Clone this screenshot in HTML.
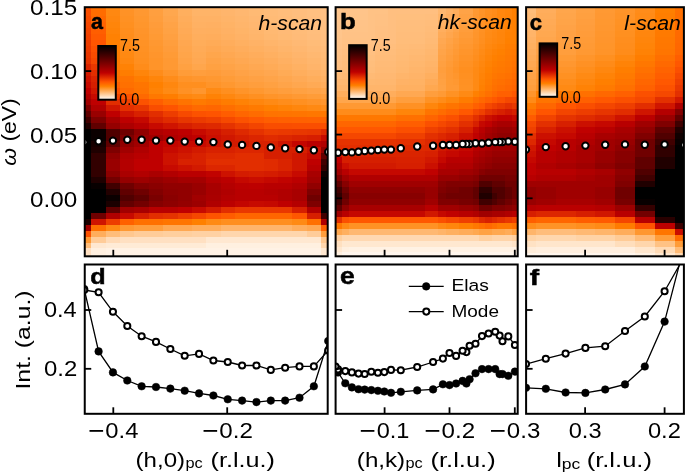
<!DOCTYPE html>
<html><head><meta charset="utf-8"><style>
html,body{margin:0;padding:0;background:#fff;}
body{width:685px;height:473px;position:relative;overflow:hidden;font-family:"Liberation Sans",sans-serif;}
svg text{font-family:"Liberation Sans",sans-serif;}
svg{will-change:transform;}
</style></head><body>
<svg width="685" height="473" viewBox="0 0 685 473" style="position:absolute;left:0;top:0">
<defs>
<clipPath id="cta"><rect x="84.75" y="7.2" width="242.95" height="249.10"/></clipPath>
<clipPath id="cba"><rect x="84.75" y="264.5" width="242.95" height="149.30"/></clipPath>
<clipPath id="ctb"><rect x="335.6" y="7.2" width="182.10" height="249.10"/></clipPath>
<clipPath id="cbb"><rect x="335.6" y="264.5" width="182.10" height="149.30"/></clipPath>
<clipPath id="ctc"><rect x="526.1" y="7.2" width="157.80" height="249.10"/></clipPath>
<clipPath id="cbc"><rect x="526.1" y="264.5" width="157.80" height="149.30"/></clipPath>
<linearGradient id="cbg" x1="0" y1="0" x2="0" y2="1"><stop offset="0" stop-color="#000000"/><stop offset="0.5" stop-color="#bf0000"/><stop offset="0.6667" stop-color="#ff5500"/><stop offset="0.75" stop-color="#ff8000"/><stop offset="1" stop-color="#ffffff"/></linearGradient>
</defs>
<g clip-path="url(#cta)" shape-rendering="crispEdges">
<rect x="75.00" y="4.10" width="16.72" height="6.26" fill="#fc5200"/>
<rect x="91.42" y="4.10" width="14.65" height="6.26" fill="#ff7000"/>
<rect x="105.78" y="4.10" width="14.65" height="6.26" fill="#ff8a14"/>
<rect x="120.12" y="4.10" width="14.65" height="6.26" fill="#ff9429"/>
<rect x="134.47" y="4.10" width="14.65" height="6.26" fill="#ff9933"/>
<rect x="148.82" y="4.10" width="14.65" height="6.26" fill="#ffa142"/>
<rect x="163.18" y="4.10" width="14.65" height="6.26" fill="#ffa852"/>
<rect x="177.52" y="4.10" width="14.65" height="6.26" fill="#ffb061"/>
<rect x="191.88" y="4.10" width="14.65" height="6.26" fill="#ffb56b"/>
<rect x="206.23" y="4.10" width="14.65" height="6.26" fill="#ffb56b"/>
<rect x="220.57" y="4.10" width="14.65" height="6.26" fill="#ffb76f"/>
<rect x="234.93" y="4.10" width="14.65" height="6.26" fill="#ffb972"/>
<rect x="249.27" y="4.10" width="14.65" height="6.26" fill="#ffbb76"/>
<rect x="263.62" y="4.10" width="14.65" height="6.26" fill="#ffbd7a"/>
<rect x="277.97" y="4.10" width="14.65" height="6.26" fill="#ffbe7d"/>
<rect x="292.32" y="4.10" width="14.65" height="6.26" fill="#ffbf80"/>
<rect x="306.68" y="4.10" width="14.65" height="6.26" fill="#ffc182"/>
<rect x="321.02" y="4.10" width="19.28" height="6.26" fill="#ffc285"/>
<rect x="75.00" y="10.06" width="16.72" height="6.26" fill="#fa4e00"/>
<rect x="91.42" y="10.06" width="14.65" height="6.26" fill="#ff6c00"/>
<rect x="105.78" y="10.06" width="14.65" height="6.26" fill="#ff8811"/>
<rect x="120.12" y="10.06" width="14.65" height="6.26" fill="#ff9226"/>
<rect x="134.47" y="10.06" width="14.65" height="6.26" fill="#ff9831"/>
<rect x="148.82" y="10.06" width="14.65" height="6.26" fill="#ff9f3f"/>
<rect x="163.18" y="10.06" width="14.65" height="6.26" fill="#ffa74e"/>
<rect x="177.52" y="10.06" width="14.65" height="6.26" fill="#ffaf5e"/>
<rect x="191.88" y="10.06" width="14.65" height="6.26" fill="#ffb468"/>
<rect x="206.23" y="10.06" width="14.65" height="6.26" fill="#ffb468"/>
<rect x="220.57" y="10.06" width="14.65" height="6.26" fill="#ffb56c"/>
<rect x="234.93" y="10.06" width="14.65" height="6.26" fill="#ffb770"/>
<rect x="249.27" y="10.06" width="14.65" height="6.26" fill="#ffba74"/>
<rect x="263.62" y="10.06" width="14.65" height="6.26" fill="#ffbc78"/>
<rect x="277.97" y="10.06" width="14.65" height="6.26" fill="#ffbd7b"/>
<rect x="292.32" y="10.06" width="14.65" height="6.26" fill="#ffbe7e"/>
<rect x="306.68" y="10.06" width="14.65" height="6.26" fill="#ffc081"/>
<rect x="321.02" y="10.06" width="19.28" height="6.26" fill="#ffc184"/>
<rect x="75.00" y="16.02" width="16.72" height="6.26" fill="#f74b00"/>
<rect x="91.42" y="16.02" width="14.65" height="6.26" fill="#ff6700"/>
<rect x="105.78" y="16.02" width="14.65" height="6.26" fill="#ff860e"/>
<rect x="120.12" y="16.02" width="14.65" height="6.26" fill="#ff9123"/>
<rect x="134.47" y="16.02" width="14.65" height="6.26" fill="#ff972e"/>
<rect x="148.82" y="16.02" width="14.65" height="6.26" fill="#ff9e3d"/>
<rect x="163.18" y="16.02" width="14.65" height="6.26" fill="#ffa54b"/>
<rect x="177.52" y="16.02" width="14.65" height="6.26" fill="#ffad5b"/>
<rect x="191.88" y="16.02" width="14.65" height="6.26" fill="#ffb265"/>
<rect x="206.23" y="16.02" width="14.65" height="6.26" fill="#ffb265"/>
<rect x="220.57" y="16.02" width="14.65" height="6.26" fill="#ffb469"/>
<rect x="234.93" y="16.02" width="14.65" height="6.26" fill="#ffb66d"/>
<rect x="249.27" y="16.02" width="14.65" height="6.26" fill="#ffb872"/>
<rect x="263.62" y="16.02" width="14.65" height="6.26" fill="#ffbb76"/>
<rect x="277.97" y="16.02" width="14.65" height="6.26" fill="#ffbc79"/>
<rect x="292.32" y="16.02" width="14.65" height="6.26" fill="#ffbe7c"/>
<rect x="306.68" y="16.02" width="14.65" height="6.26" fill="#ffbf80"/>
<rect x="321.02" y="16.02" width="19.28" height="6.26" fill="#ffc183"/>
<rect x="75.00" y="21.98" width="16.72" height="6.26" fill="#f54700"/>
<rect x="91.42" y="21.98" width="14.65" height="6.26" fill="#ff6300"/>
<rect x="105.78" y="21.98" width="14.65" height="6.26" fill="#ff850a"/>
<rect x="120.12" y="21.98" width="14.65" height="6.26" fill="#ff9020"/>
<rect x="134.47" y="21.98" width="14.65" height="6.26" fill="#ff962c"/>
<rect x="148.82" y="21.98" width="14.65" height="6.26" fill="#ff9c3a"/>
<rect x="163.18" y="21.98" width="14.65" height="6.26" fill="#ffa347"/>
<rect x="177.52" y="21.98" width="14.65" height="6.26" fill="#ffac58"/>
<rect x="191.88" y="21.98" width="14.65" height="6.26" fill="#ffb163"/>
<rect x="206.23" y="21.98" width="14.65" height="6.26" fill="#ffb062"/>
<rect x="220.57" y="21.98" width="14.65" height="6.26" fill="#ffb366"/>
<rect x="234.93" y="21.98" width="14.65" height="6.26" fill="#ffb56b"/>
<rect x="249.27" y="21.98" width="14.65" height="6.26" fill="#ffb770"/>
<rect x="263.62" y="21.98" width="14.65" height="6.26" fill="#ffba74"/>
<rect x="277.97" y="21.98" width="14.65" height="6.26" fill="#ffbb78"/>
<rect x="292.32" y="21.98" width="14.65" height="6.26" fill="#ffbd7b"/>
<rect x="306.68" y="21.98" width="14.65" height="6.26" fill="#ffbf7e"/>
<rect x="321.02" y="21.98" width="19.28" height="6.26" fill="#ffc082"/>
<rect x="75.00" y="27.94" width="16.72" height="6.26" fill="#f24400"/>
<rect x="91.42" y="27.94" width="14.65" height="6.26" fill="#ff5e00"/>
<rect x="105.78" y="27.94" width="14.65" height="6.26" fill="#ff8307"/>
<rect x="120.12" y="27.94" width="14.65" height="6.26" fill="#ff8e1d"/>
<rect x="134.47" y="27.94" width="14.65" height="6.26" fill="#ff942a"/>
<rect x="148.82" y="27.94" width="14.65" height="6.26" fill="#ff9b37"/>
<rect x="163.18" y="27.94" width="14.65" height="6.26" fill="#ffa244"/>
<rect x="177.52" y="27.94" width="14.65" height="6.26" fill="#ffaa56"/>
<rect x="191.88" y="27.94" width="14.65" height="6.26" fill="#ffaf60"/>
<rect x="206.23" y="27.94" width="14.65" height="6.26" fill="#ffaf5f"/>
<rect x="220.57" y="27.94" width="14.65" height="6.26" fill="#ffb164"/>
<rect x="234.93" y="27.94" width="14.65" height="6.26" fill="#ffb468"/>
<rect x="249.27" y="27.94" width="14.65" height="6.26" fill="#ffb66d"/>
<rect x="263.62" y="27.94" width="14.65" height="6.26" fill="#ffb972"/>
<rect x="277.97" y="27.94" width="14.65" height="6.26" fill="#ffba76"/>
<rect x="292.32" y="27.94" width="14.65" height="6.26" fill="#ffbc79"/>
<rect x="306.68" y="27.94" width="14.65" height="6.26" fill="#ffbe7d"/>
<rect x="321.02" y="27.94" width="19.28" height="6.26" fill="#ffc081"/>
<rect x="75.00" y="33.90" width="16.72" height="6.26" fill="#f04100"/>
<rect x="91.42" y="33.90" width="14.65" height="6.26" fill="#ff5a00"/>
<rect x="105.78" y="33.90" width="14.65" height="6.26" fill="#ff8103"/>
<rect x="120.12" y="33.90" width="14.65" height="6.26" fill="#ff8d1b"/>
<rect x="134.47" y="33.90" width="14.65" height="6.26" fill="#ff9328"/>
<rect x="148.82" y="33.90" width="14.65" height="6.26" fill="#ff9a34"/>
<rect x="163.18" y="33.90" width="14.65" height="6.26" fill="#ffa041"/>
<rect x="177.52" y="33.90" width="14.65" height="6.26" fill="#ffa953"/>
<rect x="191.88" y="33.90" width="14.65" height="6.26" fill="#ffae5d"/>
<rect x="206.23" y="33.90" width="14.65" height="6.26" fill="#ffad5c"/>
<rect x="220.57" y="33.90" width="14.65" height="6.26" fill="#ffb061"/>
<rect x="234.93" y="33.90" width="14.65" height="6.26" fill="#ffb266"/>
<rect x="249.27" y="33.90" width="14.65" height="6.26" fill="#ffb56b"/>
<rect x="263.62" y="33.90" width="14.65" height="6.26" fill="#ffb870"/>
<rect x="277.97" y="33.90" width="14.65" height="6.26" fill="#ffba74"/>
<rect x="292.32" y="33.90" width="14.65" height="6.26" fill="#ffbb78"/>
<rect x="306.68" y="33.90" width="14.65" height="6.26" fill="#ffbd7c"/>
<rect x="321.02" y="33.90" width="19.28" height="6.26" fill="#ffbf80"/>
<rect x="75.00" y="39.86" width="16.72" height="6.26" fill="#ed3d00"/>
<rect x="91.42" y="39.86" width="14.65" height="6.26" fill="#ff5500"/>
<rect x="105.78" y="39.86" width="14.65" height="6.26" fill="#ff8000"/>
<rect x="120.12" y="39.86" width="14.65" height="6.26" fill="#ff8b18"/>
<rect x="134.47" y="39.86" width="14.65" height="6.26" fill="#ff9225"/>
<rect x="148.82" y="39.86" width="14.65" height="6.26" fill="#ff9831"/>
<rect x="163.18" y="39.86" width="14.65" height="6.26" fill="#ff9e3d"/>
<rect x="177.52" y="39.86" width="14.65" height="6.26" fill="#ffa750"/>
<rect x="191.88" y="39.86" width="14.65" height="6.26" fill="#ffad5a"/>
<rect x="206.23" y="39.86" width="14.65" height="6.26" fill="#ffab57"/>
<rect x="220.57" y="39.86" width="14.65" height="6.26" fill="#ffad5c"/>
<rect x="234.93" y="39.86" width="14.65" height="6.26" fill="#ffb061"/>
<rect x="249.27" y="39.86" width="14.65" height="6.26" fill="#ffb266"/>
<rect x="263.62" y="39.86" width="14.65" height="6.26" fill="#ffb56b"/>
<rect x="277.97" y="39.86" width="14.65" height="6.26" fill="#ffb76f"/>
<rect x="292.32" y="39.86" width="14.65" height="6.26" fill="#ffb974"/>
<rect x="306.68" y="39.86" width="14.65" height="6.26" fill="#ffbc78"/>
<rect x="321.02" y="39.86" width="19.28" height="6.26" fill="#ffbe7c"/>
<rect x="75.00" y="45.82" width="16.72" height="6.26" fill="#eb3a00"/>
<rect x="91.42" y="45.82" width="14.65" height="6.26" fill="#fc5000"/>
<rect x="105.78" y="45.82" width="14.65" height="6.26" fill="#ff7e00"/>
<rect x="120.12" y="45.82" width="14.65" height="6.26" fill="#ff8a15"/>
<rect x="134.47" y="45.82" width="14.65" height="6.26" fill="#ff9123"/>
<rect x="148.82" y="45.82" width="14.65" height="6.26" fill="#ff972e"/>
<rect x="163.18" y="45.82" width="14.65" height="6.26" fill="#ff9c3a"/>
<rect x="177.52" y="45.82" width="14.65" height="6.26" fill="#ffa64d"/>
<rect x="191.88" y="45.82" width="14.65" height="6.26" fill="#ffab57"/>
<rect x="206.23" y="45.82" width="14.65" height="6.26" fill="#ffa852"/>
<rect x="220.57" y="45.82" width="14.65" height="6.26" fill="#ffab57"/>
<rect x="234.93" y="45.82" width="14.65" height="6.26" fill="#ffad5c"/>
<rect x="249.27" y="45.82" width="14.65" height="6.26" fill="#ffb061"/>
<rect x="263.62" y="45.82" width="14.65" height="6.26" fill="#ffb266"/>
<rect x="277.97" y="45.82" width="14.65" height="6.26" fill="#ffb56b"/>
<rect x="292.32" y="45.82" width="14.65" height="6.26" fill="#ffb770"/>
<rect x="306.68" y="45.82" width="14.65" height="6.26" fill="#ffba75"/>
<rect x="321.02" y="45.82" width="19.28" height="6.26" fill="#ffbc79"/>
<rect x="75.00" y="51.78" width="16.72" height="6.26" fill="#e83600"/>
<rect x="91.42" y="51.78" width="14.65" height="6.26" fill="#f84c00"/>
<rect x="105.78" y="51.78" width="14.65" height="6.26" fill="#ff7c00"/>
<rect x="120.12" y="51.78" width="14.65" height="6.26" fill="#ff8912"/>
<rect x="134.47" y="51.78" width="14.65" height="6.26" fill="#ff9021"/>
<rect x="148.82" y="51.78" width="14.65" height="6.26" fill="#ff952c"/>
<rect x="163.18" y="51.78" width="14.65" height="6.26" fill="#ff9b36"/>
<rect x="177.52" y="51.78" width="14.65" height="6.26" fill="#ffa54a"/>
<rect x="191.88" y="51.78" width="14.65" height="6.26" fill="#ffaa54"/>
<rect x="206.23" y="51.78" width="14.65" height="6.26" fill="#ffa64c"/>
<rect x="220.57" y="51.78" width="14.65" height="6.26" fill="#ffa852"/>
<rect x="234.93" y="51.78" width="14.65" height="6.26" fill="#ffab57"/>
<rect x="249.27" y="51.78" width="14.65" height="6.26" fill="#ffad5c"/>
<rect x="263.62" y="51.78" width="14.65" height="6.26" fill="#ffb061"/>
<rect x="277.97" y="51.78" width="14.65" height="6.26" fill="#ffb366"/>
<rect x="292.32" y="51.78" width="14.65" height="6.26" fill="#ffb56c"/>
<rect x="306.68" y="51.78" width="14.65" height="6.26" fill="#ffb871"/>
<rect x="321.02" y="51.78" width="19.28" height="6.26" fill="#ffbb76"/>
<rect x="75.00" y="57.74" width="16.72" height="6.26" fill="#e53300"/>
<rect x="91.42" y="57.74" width="14.65" height="6.26" fill="#f54700"/>
<rect x="105.78" y="57.74" width="14.65" height="6.26" fill="#ff7a00"/>
<rect x="120.12" y="57.74" width="14.65" height="6.26" fill="#ff870f"/>
<rect x="134.47" y="57.74" width="14.65" height="6.26" fill="#ff8f1f"/>
<rect x="148.82" y="57.74" width="14.65" height="6.26" fill="#ff9429"/>
<rect x="163.18" y="57.74" width="14.65" height="6.26" fill="#ff9933"/>
<rect x="177.52" y="57.74" width="14.65" height="6.26" fill="#ffa347"/>
<rect x="191.88" y="57.74" width="14.65" height="6.26" fill="#ffa852"/>
<rect x="206.23" y="57.74" width="14.65" height="6.26" fill="#ffa347"/>
<rect x="220.57" y="57.74" width="14.65" height="6.26" fill="#ffa64c"/>
<rect x="234.93" y="57.74" width="14.65" height="6.26" fill="#ffa852"/>
<rect x="249.27" y="57.74" width="14.65" height="6.26" fill="#ffab57"/>
<rect x="263.62" y="57.74" width="14.65" height="6.26" fill="#ffad5c"/>
<rect x="277.97" y="57.74" width="14.65" height="6.26" fill="#ffb062"/>
<rect x="292.32" y="57.74" width="14.65" height="6.26" fill="#ffb368"/>
<rect x="306.68" y="57.74" width="14.65" height="6.26" fill="#ffb66d"/>
<rect x="321.02" y="57.74" width="19.28" height="6.26" fill="#ffb973"/>
<rect x="75.00" y="63.70" width="16.72" height="6.26" fill="#da2400"/>
<rect x="91.42" y="63.70" width="14.65" height="6.26" fill="#e93800"/>
<rect x="105.78" y="63.70" width="14.65" height="6.26" fill="#ff7a00"/>
<rect x="120.12" y="63.70" width="14.65" height="6.26" fill="#ff8205"/>
<rect x="134.47" y="63.70" width="14.65" height="6.26" fill="#ff8c1a"/>
<rect x="148.82" y="63.70" width="14.65" height="6.26" fill="#ff9429"/>
<rect x="163.18" y="63.70" width="14.65" height="6.26" fill="#ff9933"/>
<rect x="177.52" y="63.70" width="14.65" height="6.26" fill="#ffa142"/>
<rect x="191.88" y="63.70" width="14.65" height="6.26" fill="#ffa64c"/>
<rect x="206.23" y="63.70" width="14.65" height="6.26" fill="#ffa142"/>
<rect x="220.57" y="63.70" width="14.65" height="6.26" fill="#ffa347"/>
<rect x="234.93" y="63.70" width="14.65" height="6.26" fill="#ffa64c"/>
<rect x="249.27" y="63.70" width="14.65" height="6.26" fill="#ffa852"/>
<rect x="263.62" y="63.70" width="14.65" height="6.26" fill="#ffab57"/>
<rect x="277.97" y="63.70" width="14.65" height="6.26" fill="#ffae5d"/>
<rect x="292.32" y="63.70" width="14.65" height="6.26" fill="#ffb163"/>
<rect x="306.68" y="63.70" width="14.65" height="6.26" fill="#ffb46a"/>
<rect x="321.02" y="63.70" width="19.28" height="6.26" fill="#ffb870"/>
<rect x="75.00" y="69.66" width="16.72" height="6.26" fill="#d21a00"/>
<rect x="91.42" y="69.66" width="14.65" height="6.26" fill="#e22e00"/>
<rect x="105.78" y="69.66" width="14.65" height="6.26" fill="#ff7300"/>
<rect x="120.12" y="69.66" width="14.65" height="6.26" fill="#ff7d00"/>
<rect x="134.47" y="69.66" width="14.65" height="6.26" fill="#ff850a"/>
<rect x="148.82" y="69.66" width="14.65" height="6.26" fill="#ff8c1a"/>
<rect x="163.18" y="69.66" width="14.65" height="6.26" fill="#ff9429"/>
<rect x="177.52" y="69.66" width="14.65" height="6.26" fill="#ff9c38"/>
<rect x="191.88" y="69.66" width="14.65" height="6.26" fill="#ff9e3d"/>
<rect x="206.23" y="69.66" width="14.65" height="6.26" fill="#ff9c3a"/>
<rect x="220.57" y="69.66" width="14.65" height="6.26" fill="#ff9f40"/>
<rect x="234.93" y="69.66" width="14.65" height="6.26" fill="#ffa246"/>
<rect x="249.27" y="69.66" width="14.65" height="6.26" fill="#ffa54b"/>
<rect x="263.62" y="69.66" width="14.65" height="6.26" fill="#ffa750"/>
<rect x="277.97" y="69.66" width="14.65" height="6.26" fill="#ffab56"/>
<rect x="292.32" y="69.66" width="14.65" height="6.26" fill="#ffae5d"/>
<rect x="306.68" y="69.66" width="14.65" height="6.26" fill="#ffb163"/>
<rect x="321.02" y="69.66" width="19.28" height="6.26" fill="#ffb469"/>
<rect x="75.00" y="75.62" width="16.72" height="6.26" fill="#cd1200"/>
<rect x="91.42" y="75.62" width="14.65" height="6.26" fill="#da2400"/>
<rect x="105.78" y="75.62" width="14.65" height="6.26" fill="#ff6e00"/>
<rect x="120.12" y="75.62" width="14.65" height="6.26" fill="#ff7300"/>
<rect x="134.47" y="75.62" width="14.65" height="6.26" fill="#ff7d00"/>
<rect x="148.82" y="75.62" width="14.65" height="6.26" fill="#ff850a"/>
<rect x="163.18" y="75.62" width="14.65" height="6.26" fill="#ff8c1a"/>
<rect x="177.52" y="75.62" width="14.65" height="6.26" fill="#ff9429"/>
<rect x="191.88" y="75.62" width="14.65" height="6.26" fill="#ff962e"/>
<rect x="206.23" y="75.62" width="14.65" height="6.26" fill="#ff9831"/>
<rect x="220.57" y="75.62" width="14.65" height="6.26" fill="#ff9c38"/>
<rect x="234.93" y="75.62" width="14.65" height="6.26" fill="#ff9f3f"/>
<rect x="249.27" y="75.62" width="14.65" height="6.26" fill="#ffa144"/>
<rect x="263.62" y="75.62" width="14.65" height="6.26" fill="#ffa449"/>
<rect x="277.97" y="75.62" width="14.65" height="6.26" fill="#ffa74f"/>
<rect x="292.32" y="75.62" width="14.65" height="6.26" fill="#ffaa56"/>
<rect x="306.68" y="75.62" width="14.65" height="6.26" fill="#ffae5c"/>
<rect x="321.02" y="75.62" width="19.28" height="6.26" fill="#ffb163"/>
<rect x="75.00" y="81.58" width="16.72" height="6.26" fill="#c70a00"/>
<rect x="91.42" y="81.58" width="14.65" height="6.26" fill="#d61f00"/>
<rect x="105.78" y="81.58" width="14.65" height="6.26" fill="#ff6100"/>
<rect x="120.12" y="81.58" width="14.65" height="6.26" fill="#ff7000"/>
<rect x="134.47" y="81.58" width="14.65" height="6.26" fill="#ff7500"/>
<rect x="148.82" y="81.58" width="14.65" height="6.26" fill="#ff8000"/>
<rect x="163.18" y="81.58" width="14.65" height="6.26" fill="#ff870f"/>
<rect x="177.52" y="81.58" width="14.65" height="6.26" fill="#ff8f1f"/>
<rect x="191.88" y="81.58" width="14.65" height="6.26" fill="#ff8f1f"/>
<rect x="206.23" y="81.58" width="14.65" height="6.26" fill="#ff9429"/>
<rect x="220.57" y="81.58" width="14.65" height="6.26" fill="#ff9830"/>
<rect x="234.93" y="81.58" width="14.65" height="6.26" fill="#ff9c38"/>
<rect x="249.27" y="81.58" width="14.65" height="6.26" fill="#ff9e3d"/>
<rect x="263.62" y="81.58" width="14.65" height="6.26" fill="#ffa142"/>
<rect x="277.97" y="81.58" width="14.65" height="6.26" fill="#ffa449"/>
<rect x="292.32" y="81.58" width="14.65" height="6.26" fill="#ffa74f"/>
<rect x="306.68" y="81.58" width="14.65" height="6.26" fill="#ffaa55"/>
<rect x="321.02" y="81.58" width="19.28" height="6.26" fill="#ffad5c"/>
<rect x="75.00" y="87.54" width="16.72" height="6.26" fill="#bf0000"/>
<rect x="91.42" y="87.54" width="14.65" height="6.26" fill="#d01700"/>
<rect x="105.78" y="87.54" width="14.65" height="6.26" fill="#fe5400"/>
<rect x="120.12" y="87.54" width="14.65" height="6.26" fill="#ff6900"/>
<rect x="134.47" y="87.54" width="14.65" height="6.26" fill="#ff7300"/>
<rect x="148.82" y="87.54" width="14.65" height="6.26" fill="#ff8205"/>
<rect x="163.18" y="87.54" width="14.65" height="6.26" fill="#ff8a14"/>
<rect x="177.52" y="87.54" width="14.65" height="6.26" fill="#ff9124"/>
<rect x="191.88" y="87.54" width="14.65" height="6.26" fill="#ff962e"/>
<rect x="206.23" y="87.54" width="14.65" height="6.26" fill="#ff8a14"/>
<rect x="220.57" y="87.54" width="14.65" height="6.26" fill="#ff8f1f"/>
<rect x="234.93" y="87.54" width="14.65" height="6.26" fill="#ff9429"/>
<rect x="249.27" y="87.54" width="14.65" height="6.26" fill="#ff9830"/>
<rect x="263.62" y="87.54" width="14.65" height="6.26" fill="#ff9c38"/>
<rect x="277.97" y="87.54" width="14.65" height="6.26" fill="#ff9e3d"/>
<rect x="292.32" y="87.54" width="14.65" height="6.26" fill="#ffa142"/>
<rect x="306.68" y="87.54" width="14.65" height="6.26" fill="#ffa347"/>
<rect x="321.02" y="87.54" width="19.28" height="6.26" fill="#ffa64c"/>
<rect x="75.00" y="93.50" width="16.72" height="6.26" fill="#b00000"/>
<rect x="91.42" y="93.50" width="14.65" height="6.26" fill="#c70a00"/>
<rect x="105.78" y="93.50" width="14.65" height="6.26" fill="#f34500"/>
<rect x="120.12" y="93.50" width="14.65" height="6.26" fill="#fe5400"/>
<rect x="134.47" y="93.50" width="14.65" height="6.26" fill="#ff6900"/>
<rect x="148.82" y="93.50" width="14.65" height="6.26" fill="#ff7800"/>
<rect x="163.18" y="93.50" width="14.65" height="6.26" fill="#ff7d00"/>
<rect x="177.52" y="93.50" width="14.65" height="6.26" fill="#ff870f"/>
<rect x="191.88" y="93.50" width="14.65" height="6.26" fill="#ff8a14"/>
<rect x="206.23" y="93.50" width="14.65" height="6.26" fill="#ff8205"/>
<rect x="220.57" y="93.50" width="14.65" height="6.26" fill="#ff870f"/>
<rect x="234.93" y="93.50" width="14.65" height="6.26" fill="#ff8c1a"/>
<rect x="249.27" y="93.50" width="14.65" height="6.26" fill="#ff9021"/>
<rect x="263.62" y="93.50" width="14.65" height="6.26" fill="#ff9429"/>
<rect x="277.97" y="93.50" width="14.65" height="6.26" fill="#ff962e"/>
<rect x="292.32" y="93.50" width="14.65" height="6.26" fill="#ff9933"/>
<rect x="306.68" y="93.50" width="14.65" height="6.26" fill="#ff9c38"/>
<rect x="321.02" y="93.50" width="19.28" height="6.26" fill="#ff9e3d"/>
<rect x="75.00" y="99.46" width="16.72" height="6.26" fill="#a10000"/>
<rect x="91.42" y="99.46" width="14.65" height="6.26" fill="#bf0000"/>
<rect x="105.78" y="99.46" width="14.65" height="6.26" fill="#e22e00"/>
<rect x="120.12" y="99.46" width="14.65" height="6.26" fill="#f14200"/>
<rect x="134.47" y="99.46" width="14.65" height="6.26" fill="#fc5200"/>
<rect x="148.82" y="99.46" width="14.65" height="6.26" fill="#ff5e00"/>
<rect x="163.18" y="99.46" width="14.65" height="6.26" fill="#ff6b00"/>
<rect x="177.52" y="99.46" width="14.65" height="6.26" fill="#ff7300"/>
<rect x="191.88" y="99.46" width="14.65" height="6.26" fill="#ff7a00"/>
<rect x="206.23" y="99.46" width="14.65" height="6.26" fill="#ff7500"/>
<rect x="220.57" y="99.46" width="14.65" height="6.26" fill="#ff7c00"/>
<rect x="234.93" y="99.46" width="14.65" height="6.26" fill="#ff8205"/>
<rect x="249.27" y="99.46" width="14.65" height="6.26" fill="#ff860d"/>
<rect x="263.62" y="99.46" width="14.65" height="6.26" fill="#ff8a14"/>
<rect x="277.97" y="99.46" width="14.65" height="6.26" fill="#ff8d1b"/>
<rect x="292.32" y="99.46" width="14.65" height="6.26" fill="#ff9021"/>
<rect x="306.68" y="99.46" width="14.65" height="6.26" fill="#ff9328"/>
<rect x="321.02" y="99.46" width="19.28" height="6.26" fill="#ff962e"/>
<rect x="75.00" y="105.42" width="16.72" height="6.26" fill="#7e0000"/>
<rect x="91.42" y="105.42" width="14.65" height="6.26" fill="#b00000"/>
<rect x="105.78" y="105.42" width="14.65" height="6.26" fill="#d01700"/>
<rect x="120.12" y="105.42" width="14.65" height="6.26" fill="#e43000"/>
<rect x="134.47" y="105.42" width="14.65" height="6.26" fill="#e93800"/>
<rect x="148.82" y="105.42" width="14.65" height="6.26" fill="#f94d00"/>
<rect x="163.18" y="105.42" width="14.65" height="6.26" fill="#fe5400"/>
<rect x="177.52" y="105.42" width="14.65" height="6.26" fill="#ff6100"/>
<rect x="191.88" y="105.42" width="14.65" height="6.26" fill="#ff6900"/>
<rect x="206.23" y="105.42" width="14.65" height="6.26" fill="#ff6600"/>
<rect x="220.57" y="105.42" width="14.65" height="6.26" fill="#ff6e00"/>
<rect x="234.93" y="105.42" width="14.65" height="6.26" fill="#ff7500"/>
<rect x="249.27" y="105.42" width="14.65" height="6.26" fill="#ff7a00"/>
<rect x="263.62" y="105.42" width="14.65" height="6.26" fill="#ff8000"/>
<rect x="277.97" y="105.42" width="14.65" height="6.26" fill="#ff8306"/>
<rect x="292.32" y="105.42" width="14.65" height="6.26" fill="#ff860d"/>
<rect x="306.68" y="105.42" width="14.65" height="6.26" fill="#ff8913"/>
<rect x="321.02" y="105.42" width="19.28" height="6.26" fill="#ff8c1a"/>
<rect x="75.00" y="111.38" width="16.72" height="6.26" fill="#600000"/>
<rect x="91.42" y="111.38" width="14.65" height="6.26" fill="#990000"/>
<rect x="105.78" y="111.38" width="14.65" height="6.26" fill="#bf0000"/>
<rect x="120.12" y="111.38" width="14.65" height="6.26" fill="#cf1400"/>
<rect x="134.47" y="111.38" width="14.65" height="6.26" fill="#d82100"/>
<rect x="148.82" y="111.38" width="14.65" height="6.26" fill="#e22e00"/>
<rect x="163.18" y="111.38" width="14.65" height="6.26" fill="#ed3d00"/>
<rect x="177.52" y="111.38" width="14.65" height="6.26" fill="#f74a00"/>
<rect x="191.88" y="111.38" width="14.65" height="6.26" fill="#fc5200"/>
<rect x="206.23" y="111.38" width="14.65" height="6.26" fill="#fe5400"/>
<rect x="220.57" y="111.38" width="14.65" height="6.26" fill="#ff5d00"/>
<rect x="234.93" y="111.38" width="14.65" height="6.26" fill="#ff6600"/>
<rect x="249.27" y="111.38" width="14.65" height="6.26" fill="#ff6c00"/>
<rect x="263.62" y="111.38" width="14.65" height="6.26" fill="#ff7300"/>
<rect x="277.97" y="111.38" width="14.65" height="6.26" fill="#ff7400"/>
<rect x="292.32" y="111.38" width="14.65" height="6.26" fill="#ff7500"/>
<rect x="306.68" y="111.38" width="14.65" height="6.26" fill="#ff7700"/>
<rect x="321.02" y="111.38" width="19.28" height="6.26" fill="#ff7800"/>
<rect x="75.00" y="117.34" width="16.72" height="6.26" fill="#410000"/>
<rect x="91.42" y="117.34" width="14.65" height="6.26" fill="#7e0000"/>
<rect x="105.78" y="117.34" width="14.65" height="6.26" fill="#a60000"/>
<rect x="120.12" y="117.34" width="14.65" height="6.26" fill="#bd0000"/>
<rect x="134.47" y="117.34" width="14.65" height="6.26" fill="#c50800"/>
<rect x="148.82" y="117.34" width="14.65" height="6.26" fill="#d82100"/>
<rect x="163.18" y="117.34" width="14.65" height="6.26" fill="#e02b00"/>
<rect x="177.52" y="117.34" width="14.65" height="6.26" fill="#e73600"/>
<rect x="191.88" y="117.34" width="14.65" height="6.26" fill="#eb3b00"/>
<rect x="206.23" y="117.34" width="14.65" height="6.26" fill="#ef4000"/>
<rect x="220.57" y="117.34" width="14.65" height="6.26" fill="#f64900"/>
<rect x="234.93" y="117.34" width="14.65" height="6.26" fill="#fc5200"/>
<rect x="249.27" y="117.34" width="14.65" height="6.26" fill="#ff5800"/>
<rect x="263.62" y="117.34" width="14.65" height="6.26" fill="#ff5e00"/>
<rect x="277.97" y="117.34" width="14.65" height="6.26" fill="#ff6000"/>
<rect x="292.32" y="117.34" width="14.65" height="6.26" fill="#ff6100"/>
<rect x="306.68" y="117.34" width="14.65" height="6.26" fill="#ff6200"/>
<rect x="321.02" y="117.34" width="19.28" height="6.26" fill="#ff6300"/>
<rect x="75.00" y="123.30" width="16.72" height="6.26" fill="#1f0000"/>
<rect x="91.42" y="123.30" width="14.65" height="6.26" fill="#600000"/>
<rect x="105.78" y="123.30" width="14.65" height="6.26" fill="#950000"/>
<rect x="120.12" y="123.30" width="14.65" height="6.26" fill="#ac0000"/>
<rect x="134.47" y="123.30" width="14.65" height="6.26" fill="#b80000"/>
<rect x="148.82" y="123.30" width="14.65" height="6.26" fill="#c70a00"/>
<rect x="163.18" y="123.30" width="14.65" height="6.26" fill="#cf1400"/>
<rect x="177.52" y="123.30" width="14.65" height="6.26" fill="#d61f00"/>
<rect x="191.88" y="123.30" width="14.65" height="6.26" fill="#dc2600"/>
<rect x="206.23" y="123.30" width="14.65" height="6.26" fill="#de2900"/>
<rect x="220.57" y="123.30" width="14.65" height="6.26" fill="#e53300"/>
<rect x="234.93" y="123.30" width="14.65" height="6.26" fill="#ed3d00"/>
<rect x="249.27" y="123.30" width="14.65" height="6.26" fill="#f34500"/>
<rect x="263.62" y="123.30" width="14.65" height="6.26" fill="#f94d00"/>
<rect x="277.97" y="123.30" width="14.65" height="6.26" fill="#f94d00"/>
<rect x="292.32" y="123.30" width="14.65" height="6.26" fill="#fa4e00"/>
<rect x="306.68" y="123.30" width="14.65" height="6.26" fill="#fa4e00"/>
<rect x="321.02" y="123.30" width="19.28" height="6.26" fill="#fb4f00"/>
<rect x="75.00" y="129.26" width="16.72" height="6.26" fill="#000000"/>
<rect x="91.42" y="129.26" width="14.65" height="6.26" fill="#0b0000"/>
<rect x="105.78" y="129.26" width="14.65" height="6.26" fill="#500000"/>
<rect x="120.12" y="129.26" width="14.65" height="6.26" fill="#6f0000"/>
<rect x="134.47" y="129.26" width="14.65" height="6.26" fill="#910000"/>
<rect x="148.82" y="129.26" width="14.65" height="6.26" fill="#b00000"/>
<rect x="163.18" y="129.26" width="14.65" height="6.26" fill="#b80000"/>
<rect x="177.52" y="129.26" width="14.65" height="6.26" fill="#bf0000"/>
<rect x="191.88" y="129.26" width="14.65" height="6.26" fill="#c70a00"/>
<rect x="206.23" y="129.26" width="14.65" height="6.26" fill="#cf1400"/>
<rect x="220.57" y="129.26" width="14.65" height="6.26" fill="#d61f00"/>
<rect x="234.93" y="129.26" width="14.65" height="6.26" fill="#de2900"/>
<rect x="249.27" y="129.26" width="14.65" height="6.26" fill="#e53200"/>
<rect x="263.62" y="129.26" width="14.65" height="6.26" fill="#eb3b00"/>
<rect x="277.97" y="129.26" width="14.65" height="6.26" fill="#ea3900"/>
<rect x="292.32" y="129.26" width="14.65" height="6.26" fill="#e83700"/>
<rect x="306.68" y="129.26" width="14.65" height="6.26" fill="#e73500"/>
<rect x="321.02" y="129.26" width="19.28" height="6.26" fill="#de2900"/>
<rect x="75.00" y="135.22" width="16.72" height="6.26" fill="#000000"/>
<rect x="91.42" y="135.22" width="14.65" height="6.26" fill="#0b0000"/>
<rect x="105.78" y="135.22" width="14.65" height="6.26" fill="#500000"/>
<rect x="120.12" y="135.22" width="14.65" height="6.26" fill="#7e0000"/>
<rect x="134.47" y="135.22" width="14.65" height="6.26" fill="#990000"/>
<rect x="148.82" y="135.22" width="14.65" height="6.26" fill="#a10000"/>
<rect x="163.18" y="135.22" width="14.65" height="6.26" fill="#b00000"/>
<rect x="177.52" y="135.22" width="14.65" height="6.26" fill="#b80000"/>
<rect x="191.88" y="135.22" width="14.65" height="6.26" fill="#bf0000"/>
<rect x="206.23" y="135.22" width="14.65" height="6.26" fill="#cb0f00"/>
<rect x="220.57" y="135.22" width="14.65" height="6.26" fill="#d01700"/>
<rect x="234.93" y="135.22" width="14.65" height="6.26" fill="#d61f00"/>
<rect x="249.27" y="135.22" width="14.65" height="6.26" fill="#db2500"/>
<rect x="263.62" y="135.22" width="14.65" height="6.26" fill="#e02b00"/>
<rect x="277.97" y="135.22" width="14.65" height="6.26" fill="#dc2700"/>
<rect x="292.32" y="135.22" width="14.65" height="6.26" fill="#d92200"/>
<rect x="306.68" y="135.22" width="14.65" height="6.26" fill="#d61e00"/>
<rect x="321.02" y="135.22" width="19.28" height="6.26" fill="#c70a00"/>
<rect x="75.00" y="141.18" width="16.72" height="6.26" fill="#000000"/>
<rect x="91.42" y="141.18" width="14.65" height="6.26" fill="#170000"/>
<rect x="105.78" y="141.18" width="14.65" height="6.26" fill="#600000"/>
<rect x="120.12" y="141.18" width="14.65" height="6.26" fill="#910000"/>
<rect x="134.47" y="141.18" width="14.65" height="6.26" fill="#a10000"/>
<rect x="148.82" y="141.18" width="14.65" height="6.26" fill="#bf0000"/>
<rect x="163.18" y="141.18" width="14.65" height="6.26" fill="#c30500"/>
<rect x="177.52" y="141.18" width="14.65" height="6.26" fill="#c70a00"/>
<rect x="191.88" y="141.18" width="14.65" height="6.26" fill="#c70a00"/>
<rect x="206.23" y="141.18" width="14.65" height="6.26" fill="#cd1200"/>
<rect x="220.57" y="141.18" width="14.65" height="6.26" fill="#d21a00"/>
<rect x="234.93" y="141.18" width="14.65" height="6.26" fill="#d21a00"/>
<rect x="249.27" y="141.18" width="14.65" height="6.26" fill="#d82100"/>
<rect x="263.62" y="141.18" width="14.65" height="6.26" fill="#d82100"/>
<rect x="277.97" y="141.18" width="14.65" height="6.26" fill="#ce1400"/>
<rect x="292.32" y="141.18" width="14.65" height="6.26" fill="#c40600"/>
<rect x="306.68" y="141.18" width="14.65" height="6.26" fill="#ba0000"/>
<rect x="321.02" y="141.18" width="19.28" height="6.26" fill="#b00000"/>
<rect x="75.00" y="147.14" width="16.72" height="6.26" fill="#000000"/>
<rect x="91.42" y="147.14" width="14.65" height="6.26" fill="#1f0000"/>
<rect x="105.78" y="147.14" width="14.65" height="6.26" fill="#7e0000"/>
<rect x="120.12" y="147.14" width="14.65" height="6.26" fill="#a10000"/>
<rect x="134.47" y="147.14" width="14.65" height="6.26" fill="#b00000"/>
<rect x="148.82" y="147.14" width="14.65" height="6.26" fill="#bf0000"/>
<rect x="163.18" y="147.14" width="14.65" height="6.26" fill="#c70a00"/>
<rect x="177.52" y="147.14" width="14.65" height="6.26" fill="#cd1200"/>
<rect x="191.88" y="147.14" width="14.65" height="6.26" fill="#d21a00"/>
<rect x="206.23" y="147.14" width="14.65" height="6.26" fill="#d82100"/>
<rect x="220.57" y="147.14" width="14.65" height="6.26" fill="#d82100"/>
<rect x="234.93" y="147.14" width="14.65" height="6.26" fill="#dc2600"/>
<rect x="249.27" y="147.14" width="14.65" height="6.26" fill="#dc2600"/>
<rect x="263.62" y="147.14" width="14.65" height="6.26" fill="#d61f00"/>
<rect x="277.97" y="147.14" width="14.65" height="6.26" fill="#d61f00"/>
<rect x="292.32" y="147.14" width="14.65" height="6.26" fill="#d61f00"/>
<rect x="306.68" y="147.14" width="14.65" height="6.26" fill="#cd1200"/>
<rect x="321.02" y="147.14" width="19.28" height="6.26" fill="#910000"/>
<rect x="75.00" y="153.10" width="16.72" height="6.26" fill="#000000"/>
<rect x="91.42" y="153.10" width="14.65" height="6.26" fill="#320000"/>
<rect x="105.78" y="153.10" width="14.65" height="6.26" fill="#910000"/>
<rect x="120.12" y="153.10" width="14.65" height="6.26" fill="#b00000"/>
<rect x="134.47" y="153.10" width="14.65" height="6.26" fill="#b80000"/>
<rect x="148.82" y="153.10" width="14.65" height="6.26" fill="#bf0000"/>
<rect x="163.18" y="153.10" width="14.65" height="6.26" fill="#cd1200"/>
<rect x="177.52" y="153.10" width="14.65" height="6.26" fill="#d21a00"/>
<rect x="191.88" y="153.10" width="14.65" height="6.26" fill="#d82100"/>
<rect x="206.23" y="153.10" width="14.65" height="6.26" fill="#de2900"/>
<rect x="220.57" y="153.10" width="14.65" height="6.26" fill="#de2900"/>
<rect x="234.93" y="153.10" width="14.65" height="6.26" fill="#e22e00"/>
<rect x="249.27" y="153.10" width="14.65" height="6.26" fill="#e22e00"/>
<rect x="263.62" y="153.10" width="14.65" height="6.26" fill="#d61f00"/>
<rect x="277.97" y="153.10" width="14.65" height="6.26" fill="#d61f00"/>
<rect x="292.32" y="153.10" width="14.65" height="6.26" fill="#d01700"/>
<rect x="306.68" y="153.10" width="14.65" height="6.26" fill="#c70a00"/>
<rect x="321.02" y="153.10" width="19.28" height="6.26" fill="#600000"/>
<rect x="75.00" y="159.06" width="16.72" height="6.26" fill="#000000"/>
<rect x="91.42" y="159.06" width="14.65" height="6.26" fill="#320000"/>
<rect x="105.78" y="159.06" width="14.65" height="6.26" fill="#990000"/>
<rect x="120.12" y="159.06" width="14.65" height="6.26" fill="#b40000"/>
<rect x="134.47" y="159.06" width="14.65" height="6.26" fill="#bf0000"/>
<rect x="148.82" y="159.06" width="14.65" height="6.26" fill="#bf0000"/>
<rect x="163.18" y="159.06" width="14.65" height="6.26" fill="#cd1200"/>
<rect x="177.52" y="159.06" width="14.65" height="6.26" fill="#d82100"/>
<rect x="191.88" y="159.06" width="14.65" height="6.26" fill="#d82100"/>
<rect x="206.23" y="159.06" width="14.65" height="6.26" fill="#e22e00"/>
<rect x="220.57" y="159.06" width="14.65" height="6.26" fill="#e22e00"/>
<rect x="234.93" y="159.06" width="14.65" height="6.26" fill="#e22e00"/>
<rect x="249.27" y="159.06" width="14.65" height="6.26" fill="#e22e00"/>
<rect x="263.62" y="159.06" width="14.65" height="6.26" fill="#e02b00"/>
<rect x="277.97" y="159.06" width="14.65" height="6.26" fill="#da2400"/>
<rect x="292.32" y="159.06" width="14.65" height="6.26" fill="#d01700"/>
<rect x="306.68" y="159.06" width="14.65" height="6.26" fill="#bf0000"/>
<rect x="321.02" y="159.06" width="19.28" height="6.26" fill="#410000"/>
<rect x="75.00" y="165.02" width="16.72" height="6.26" fill="#000000"/>
<rect x="91.42" y="165.02" width="14.65" height="6.26" fill="#320000"/>
<rect x="105.78" y="165.02" width="14.65" height="6.26" fill="#990000"/>
<rect x="120.12" y="165.02" width="14.65" height="6.26" fill="#b40000"/>
<rect x="134.47" y="165.02" width="14.65" height="6.26" fill="#bf0000"/>
<rect x="148.82" y="165.02" width="14.65" height="6.26" fill="#bf0000"/>
<rect x="163.18" y="165.02" width="14.65" height="6.26" fill="#c70a00"/>
<rect x="177.52" y="165.02" width="14.65" height="6.26" fill="#cd1200"/>
<rect x="191.88" y="165.02" width="14.65" height="6.26" fill="#d21a00"/>
<rect x="206.23" y="165.02" width="14.65" height="6.26" fill="#dc2600"/>
<rect x="220.57" y="165.02" width="14.65" height="6.26" fill="#dc2600"/>
<rect x="234.93" y="165.02" width="14.65" height="6.26" fill="#e22e00"/>
<rect x="249.27" y="165.02" width="14.65" height="6.26" fill="#e22e00"/>
<rect x="263.62" y="165.02" width="14.65" height="6.26" fill="#e02b00"/>
<rect x="277.97" y="165.02" width="14.65" height="6.26" fill="#da2400"/>
<rect x="292.32" y="165.02" width="14.65" height="6.26" fill="#d01700"/>
<rect x="306.68" y="165.02" width="14.65" height="6.26" fill="#b80000"/>
<rect x="321.02" y="165.02" width="19.28" height="6.26" fill="#320000"/>
<rect x="75.00" y="170.98" width="16.72" height="6.26" fill="#000000"/>
<rect x="91.42" y="170.98" width="14.65" height="6.26" fill="#320000"/>
<rect x="105.78" y="170.98" width="14.65" height="6.26" fill="#8c0000"/>
<rect x="120.12" y="170.98" width="14.65" height="6.26" fill="#aa0000"/>
<rect x="134.47" y="170.98" width="14.65" height="6.26" fill="#b20000"/>
<rect x="148.82" y="170.98" width="14.65" height="6.26" fill="#aa0000"/>
<rect x="163.18" y="170.98" width="14.65" height="6.26" fill="#b20000"/>
<rect x="177.52" y="170.98" width="14.65" height="6.26" fill="#ba0000"/>
<rect x="191.88" y="170.98" width="14.65" height="6.26" fill="#ba0000"/>
<rect x="206.23" y="170.98" width="14.65" height="6.26" fill="#c10300"/>
<rect x="220.57" y="170.98" width="14.65" height="6.26" fill="#cd1200"/>
<rect x="234.93" y="170.98" width="14.65" height="6.26" fill="#d41c00"/>
<rect x="249.27" y="170.98" width="14.65" height="6.26" fill="#d61f00"/>
<rect x="263.62" y="170.98" width="14.65" height="6.26" fill="#d41c00"/>
<rect x="277.97" y="170.98" width="14.65" height="6.26" fill="#d01700"/>
<rect x="292.32" y="170.98" width="14.65" height="6.26" fill="#c70a00"/>
<rect x="306.68" y="170.98" width="14.65" height="6.26" fill="#a80000"/>
<rect x="321.02" y="170.98" width="19.28" height="6.26" fill="#0f0000"/>
<rect x="75.00" y="176.94" width="16.72" height="6.26" fill="#000000"/>
<rect x="91.42" y="176.94" width="14.65" height="6.26" fill="#1f0000"/>
<rect x="105.78" y="176.94" width="14.65" height="6.26" fill="#730000"/>
<rect x="120.12" y="176.94" width="14.65" height="6.26" fill="#950000"/>
<rect x="134.47" y="176.94" width="14.65" height="6.26" fill="#9d0000"/>
<rect x="148.82" y="176.94" width="14.65" height="6.26" fill="#950000"/>
<rect x="163.18" y="176.94" width="14.65" height="6.26" fill="#9d0000"/>
<rect x="177.52" y="176.94" width="14.65" height="6.26" fill="#a40000"/>
<rect x="191.88" y="176.94" width="14.65" height="6.26" fill="#a40000"/>
<rect x="206.23" y="176.94" width="14.65" height="6.26" fill="#b40000"/>
<rect x="220.57" y="176.94" width="14.65" height="6.26" fill="#bb0000"/>
<rect x="234.93" y="176.94" width="14.65" height="6.26" fill="#c50800"/>
<rect x="249.27" y="176.94" width="14.65" height="6.26" fill="#c90d00"/>
<rect x="263.62" y="176.94" width="14.65" height="6.26" fill="#c50800"/>
<rect x="277.97" y="176.94" width="14.65" height="6.26" fill="#c10300"/>
<rect x="292.32" y="176.94" width="14.65" height="6.26" fill="#bb0000"/>
<rect x="306.68" y="176.94" width="14.65" height="6.26" fill="#a10000"/>
<rect x="321.02" y="176.94" width="19.28" height="6.26" fill="#000000"/>
<rect x="75.00" y="182.90" width="16.72" height="6.26" fill="#000000"/>
<rect x="91.42" y="182.90" width="14.65" height="6.26" fill="#080000"/>
<rect x="105.78" y="182.90" width="14.65" height="6.26" fill="#410000"/>
<rect x="120.12" y="182.90" width="14.65" height="6.26" fill="#6f0000"/>
<rect x="134.47" y="182.90" width="14.65" height="6.26" fill="#820000"/>
<rect x="148.82" y="182.90" width="14.65" height="6.26" fill="#8a0000"/>
<rect x="163.18" y="182.90" width="14.65" height="6.26" fill="#910000"/>
<rect x="177.52" y="182.90" width="14.65" height="6.26" fill="#910000"/>
<rect x="191.88" y="182.90" width="14.65" height="6.26" fill="#990000"/>
<rect x="206.23" y="182.90" width="14.65" height="6.26" fill="#a80000"/>
<rect x="220.57" y="182.90" width="14.65" height="6.26" fill="#b40000"/>
<rect x="234.93" y="182.90" width="14.65" height="6.26" fill="#bb0000"/>
<rect x="249.27" y="182.90" width="14.65" height="6.26" fill="#bd0000"/>
<rect x="263.62" y="182.90" width="14.65" height="6.26" fill="#b80000"/>
<rect x="277.97" y="182.90" width="14.65" height="6.26" fill="#b80000"/>
<rect x="292.32" y="182.90" width="14.65" height="6.26" fill="#b00000"/>
<rect x="306.68" y="182.90" width="14.65" height="6.26" fill="#910000"/>
<rect x="321.02" y="182.90" width="19.28" height="6.26" fill="#000000"/>
<rect x="75.00" y="188.86" width="16.72" height="6.26" fill="#000000"/>
<rect x="91.42" y="188.86" width="14.65" height="6.26" fill="#000000"/>
<rect x="105.78" y="188.86" width="14.65" height="6.26" fill="#220000"/>
<rect x="120.12" y="188.86" width="14.65" height="6.26" fill="#600000"/>
<rect x="134.47" y="188.86" width="14.65" height="6.26" fill="#6f0000"/>
<rect x="148.82" y="188.86" width="14.65" height="6.26" fill="#820000"/>
<rect x="163.18" y="188.86" width="14.65" height="6.26" fill="#8e0000"/>
<rect x="177.52" y="188.86" width="14.65" height="6.26" fill="#910000"/>
<rect x="191.88" y="188.86" width="14.65" height="6.26" fill="#990000"/>
<rect x="206.23" y="188.86" width="14.65" height="6.26" fill="#a80000"/>
<rect x="220.57" y="188.86" width="14.65" height="6.26" fill="#b00000"/>
<rect x="234.93" y="188.86" width="14.65" height="6.26" fill="#b80000"/>
<rect x="249.27" y="188.86" width="14.65" height="6.26" fill="#b80000"/>
<rect x="263.62" y="188.86" width="14.65" height="6.26" fill="#b40000"/>
<rect x="277.97" y="188.86" width="14.65" height="6.26" fill="#b00000"/>
<rect x="292.32" y="188.86" width="14.65" height="6.26" fill="#a80000"/>
<rect x="306.68" y="188.86" width="14.65" height="6.26" fill="#7e0000"/>
<rect x="321.02" y="188.86" width="19.28" height="6.26" fill="#000000"/>
<rect x="75.00" y="194.82" width="16.72" height="6.26" fill="#000000"/>
<rect x="91.42" y="194.82" width="14.65" height="6.26" fill="#000000"/>
<rect x="105.78" y="194.82" width="14.65" height="6.26" fill="#0b0000"/>
<rect x="120.12" y="194.82" width="14.65" height="6.26" fill="#500000"/>
<rect x="134.47" y="194.82" width="14.65" height="6.26" fill="#600000"/>
<rect x="148.82" y="194.82" width="14.65" height="6.26" fill="#7a0000"/>
<rect x="163.18" y="194.82" width="14.65" height="6.26" fill="#8a0000"/>
<rect x="177.52" y="194.82" width="14.65" height="6.26" fill="#910000"/>
<rect x="191.88" y="194.82" width="14.65" height="6.26" fill="#a10000"/>
<rect x="206.23" y="194.82" width="14.65" height="6.26" fill="#aa0000"/>
<rect x="220.57" y="194.82" width="14.65" height="6.26" fill="#b40000"/>
<rect x="234.93" y="194.82" width="14.65" height="6.26" fill="#b80000"/>
<rect x="249.27" y="194.82" width="14.65" height="6.26" fill="#b80000"/>
<rect x="263.62" y="194.82" width="14.65" height="6.26" fill="#b80000"/>
<rect x="277.97" y="194.82" width="14.65" height="6.26" fill="#b00000"/>
<rect x="292.32" y="194.82" width="14.65" height="6.26" fill="#a80000"/>
<rect x="306.68" y="194.82" width="14.65" height="6.26" fill="#6f0000"/>
<rect x="321.02" y="194.82" width="19.28" height="6.26" fill="#000000"/>
<rect x="75.00" y="200.78" width="16.72" height="6.26" fill="#000000"/>
<rect x="91.42" y="200.78" width="14.65" height="6.26" fill="#000000"/>
<rect x="105.78" y="200.78" width="14.65" height="6.26" fill="#1b0000"/>
<rect x="120.12" y="200.78" width="14.65" height="6.26" fill="#630000"/>
<rect x="134.47" y="200.78" width="14.65" height="6.26" fill="#730000"/>
<rect x="148.82" y="200.78" width="14.65" height="6.26" fill="#860000"/>
<rect x="163.18" y="200.78" width="14.65" height="6.26" fill="#8e0000"/>
<rect x="177.52" y="200.78" width="14.65" height="6.26" fill="#950000"/>
<rect x="191.88" y="200.78" width="14.65" height="6.26" fill="#9d0000"/>
<rect x="206.23" y="200.78" width="14.65" height="6.26" fill="#b00000"/>
<rect x="220.57" y="200.78" width="14.65" height="6.26" fill="#bb0000"/>
<rect x="234.93" y="200.78" width="14.65" height="6.26" fill="#c30500"/>
<rect x="249.27" y="200.78" width="14.65" height="6.26" fill="#c70a00"/>
<rect x="263.62" y="200.78" width="14.65" height="6.26" fill="#c50800"/>
<rect x="277.97" y="200.78" width="14.65" height="6.26" fill="#bf0000"/>
<rect x="292.32" y="200.78" width="14.65" height="6.26" fill="#b40000"/>
<rect x="306.68" y="200.78" width="14.65" height="6.26" fill="#7e0000"/>
<rect x="321.02" y="200.78" width="19.28" height="6.26" fill="#000000"/>
<rect x="75.00" y="206.74" width="16.72" height="6.26" fill="#000000"/>
<rect x="91.42" y="206.74" width="14.65" height="6.26" fill="#000000"/>
<rect x="105.78" y="206.74" width="14.65" height="6.26" fill="#600000"/>
<rect x="120.12" y="206.74" width="14.65" height="6.26" fill="#a10000"/>
<rect x="134.47" y="206.74" width="14.65" height="6.26" fill="#a80000"/>
<rect x="148.82" y="206.74" width="14.65" height="6.26" fill="#b80000"/>
<rect x="163.18" y="206.74" width="14.65" height="6.26" fill="#b80000"/>
<rect x="177.52" y="206.74" width="14.65" height="6.26" fill="#bf0000"/>
<rect x="191.88" y="206.74" width="14.65" height="6.26" fill="#c70a00"/>
<rect x="206.23" y="206.74" width="14.65" height="6.26" fill="#d21a00"/>
<rect x="220.57" y="206.74" width="14.65" height="6.26" fill="#e22e00"/>
<rect x="234.93" y="206.74" width="14.65" height="6.26" fill="#e93800"/>
<rect x="249.27" y="206.74" width="14.65" height="6.26" fill="#e93800"/>
<rect x="263.62" y="206.74" width="14.65" height="6.26" fill="#e93800"/>
<rect x="277.97" y="206.74" width="14.65" height="6.26" fill="#e93800"/>
<rect x="292.32" y="206.74" width="14.65" height="6.26" fill="#d61f00"/>
<rect x="306.68" y="206.74" width="14.65" height="6.26" fill="#b00000"/>
<rect x="321.02" y="206.74" width="19.28" height="6.26" fill="#000000"/>
<rect x="75.00" y="212.70" width="16.72" height="6.26" fill="#000000"/>
<rect x="91.42" y="212.70" width="14.65" height="6.26" fill="#6f0000"/>
<rect x="105.78" y="212.70" width="14.65" height="6.26" fill="#b00000"/>
<rect x="120.12" y="212.70" width="14.65" height="6.26" fill="#c70a00"/>
<rect x="134.47" y="212.70" width="14.65" height="6.26" fill="#d61f00"/>
<rect x="148.82" y="212.70" width="14.65" height="6.26" fill="#e22e00"/>
<rect x="163.18" y="212.70" width="14.65" height="6.26" fill="#e53300"/>
<rect x="177.52" y="212.70" width="14.65" height="6.26" fill="#ed3d00"/>
<rect x="191.88" y="212.70" width="14.65" height="6.26" fill="#f54700"/>
<rect x="206.23" y="212.70" width="14.65" height="6.26" fill="#fe5400"/>
<rect x="220.57" y="212.70" width="14.65" height="6.26" fill="#ff5c00"/>
<rect x="234.93" y="212.70" width="14.65" height="6.26" fill="#ff6600"/>
<rect x="249.27" y="212.70" width="14.65" height="6.26" fill="#ff6600"/>
<rect x="263.62" y="212.70" width="14.65" height="6.26" fill="#ff6600"/>
<rect x="277.97" y="212.70" width="14.65" height="6.26" fill="#ff6600"/>
<rect x="292.32" y="212.70" width="14.65" height="6.26" fill="#ff5700"/>
<rect x="306.68" y="212.70" width="14.65" height="6.26" fill="#d61f00"/>
<rect x="321.02" y="212.70" width="19.28" height="6.26" fill="#410000"/>
<rect x="75.00" y="218.66" width="16.72" height="6.26" fill="#1b0000"/>
<rect x="91.42" y="218.66" width="14.65" height="6.26" fill="#cf1400"/>
<rect x="105.78" y="218.66" width="14.65" height="6.26" fill="#ed3d00"/>
<rect x="120.12" y="218.66" width="14.65" height="6.26" fill="#ff6100"/>
<rect x="134.47" y="218.66" width="14.65" height="6.26" fill="#ff7000"/>
<rect x="148.82" y="218.66" width="14.65" height="6.26" fill="#ff7000"/>
<rect x="163.18" y="218.66" width="14.65" height="6.26" fill="#ff7500"/>
<rect x="177.52" y="218.66" width="14.65" height="6.26" fill="#ff7500"/>
<rect x="191.88" y="218.66" width="14.65" height="6.26" fill="#ff8000"/>
<rect x="206.23" y="218.66" width="14.65" height="6.26" fill="#ff8a14"/>
<rect x="220.57" y="218.66" width="14.65" height="6.26" fill="#ff8f1f"/>
<rect x="234.93" y="218.66" width="14.65" height="6.26" fill="#ff8f1f"/>
<rect x="249.27" y="218.66" width="14.65" height="6.26" fill="#ff8f1f"/>
<rect x="263.62" y="218.66" width="14.65" height="6.26" fill="#ff8f1f"/>
<rect x="277.97" y="218.66" width="14.65" height="6.26" fill="#ff8f1f"/>
<rect x="292.32" y="218.66" width="14.65" height="6.26" fill="#ff8a14"/>
<rect x="306.68" y="218.66" width="14.65" height="6.26" fill="#ff7000"/>
<rect x="321.02" y="218.66" width="19.28" height="6.26" fill="#b00000"/>
<rect x="75.00" y="224.62" width="16.72" height="6.26" fill="#a10000"/>
<rect x="91.42" y="224.62" width="14.65" height="6.26" fill="#ff7000"/>
<rect x="105.78" y="224.62" width="14.65" height="6.26" fill="#ff8a14"/>
<rect x="120.12" y="224.62" width="14.65" height="6.26" fill="#ff9933"/>
<rect x="134.47" y="224.62" width="14.65" height="6.26" fill="#ff9e3d"/>
<rect x="148.82" y="224.62" width="14.65" height="6.26" fill="#ff9e3d"/>
<rect x="163.18" y="224.62" width="14.65" height="6.26" fill="#ffa852"/>
<rect x="177.52" y="224.62" width="14.65" height="6.26" fill="#ffa852"/>
<rect x="191.88" y="224.62" width="14.65" height="6.26" fill="#ffad5c"/>
<rect x="206.23" y="224.62" width="14.65" height="6.26" fill="#ffad5c"/>
<rect x="220.57" y="224.62" width="14.65" height="6.26" fill="#ffb56b"/>
<rect x="234.93" y="224.62" width="14.65" height="6.26" fill="#ffb56b"/>
<rect x="249.27" y="224.62" width="14.65" height="6.26" fill="#ffb56b"/>
<rect x="263.62" y="224.62" width="14.65" height="6.26" fill="#ffb56b"/>
<rect x="277.97" y="224.62" width="14.65" height="6.26" fill="#ffb56b"/>
<rect x="292.32" y="224.62" width="14.65" height="6.26" fill="#ffad5c"/>
<rect x="306.68" y="224.62" width="14.65" height="6.26" fill="#ffa852"/>
<rect x="321.02" y="224.62" width="19.28" height="6.26" fill="#ff6100"/>
<rect x="75.00" y="230.58" width="16.72" height="6.26" fill="#fc5200"/>
<rect x="91.42" y="230.58" width="14.65" height="6.26" fill="#ffad5c"/>
<rect x="105.78" y="230.58" width="14.65" height="6.26" fill="#ffbd7a"/>
<rect x="120.12" y="230.58" width="14.65" height="6.26" fill="#ffc78f"/>
<rect x="134.47" y="230.58" width="14.65" height="6.26" fill="#ffcc99"/>
<rect x="148.82" y="230.58" width="14.65" height="6.26" fill="#ffcc99"/>
<rect x="163.18" y="230.58" width="14.65" height="6.26" fill="#ffcf9e"/>
<rect x="177.52" y="230.58" width="14.65" height="6.26" fill="#ffcf9e"/>
<rect x="191.88" y="230.58" width="14.65" height="6.26" fill="#ffd1a3"/>
<rect x="206.23" y="230.58" width="14.65" height="6.26" fill="#ffd1a3"/>
<rect x="220.57" y="230.58" width="14.65" height="6.26" fill="#ffd6ad"/>
<rect x="234.93" y="230.58" width="14.65" height="6.26" fill="#ffd6ad"/>
<rect x="249.27" y="230.58" width="14.65" height="6.26" fill="#ffd6ad"/>
<rect x="263.62" y="230.58" width="14.65" height="6.26" fill="#ffd6ad"/>
<rect x="277.97" y="230.58" width="14.65" height="6.26" fill="#ffd6ad"/>
<rect x="292.32" y="230.58" width="14.65" height="6.26" fill="#ffd6ad"/>
<rect x="306.68" y="230.58" width="14.65" height="6.26" fill="#ffcc99"/>
<rect x="321.02" y="230.58" width="19.28" height="6.26" fill="#ff9e3d"/>
<rect x="75.00" y="236.54" width="16.72" height="6.26" fill="#ff9933"/>
<rect x="91.42" y="236.54" width="14.65" height="6.26" fill="#ffcc99"/>
<rect x="105.78" y="236.54" width="14.65" height="6.26" fill="#ffdbb8"/>
<rect x="120.12" y="236.54" width="14.65" height="6.26" fill="#ffe0c2"/>
<rect x="134.47" y="236.54" width="14.65" height="6.26" fill="#ffe0c2"/>
<rect x="148.82" y="236.54" width="14.65" height="6.26" fill="#ffe0c2"/>
<rect x="163.18" y="236.54" width="14.65" height="6.26" fill="#ffe0c2"/>
<rect x="177.52" y="236.54" width="14.65" height="6.26" fill="#ffe0c2"/>
<rect x="191.88" y="236.54" width="14.65" height="6.26" fill="#ffe0c2"/>
<rect x="206.23" y="236.54" width="14.65" height="6.26" fill="#ffe8d1"/>
<rect x="220.57" y="236.54" width="14.65" height="6.26" fill="#ffe8d1"/>
<rect x="234.93" y="236.54" width="14.65" height="6.26" fill="#ffe8d1"/>
<rect x="249.27" y="236.54" width="14.65" height="6.26" fill="#ffe8d1"/>
<rect x="263.62" y="236.54" width="14.65" height="6.26" fill="#ffe8d1"/>
<rect x="277.97" y="236.54" width="14.65" height="6.26" fill="#ffe8d1"/>
<rect x="292.32" y="236.54" width="14.65" height="6.26" fill="#ffe8d1"/>
<rect x="306.68" y="236.54" width="14.65" height="6.26" fill="#ffe8d1"/>
<rect x="321.02" y="236.54" width="19.28" height="6.26" fill="#ffc78f"/>
<rect x="75.00" y="242.50" width="16.72" height="6.26" fill="#ffbd7a"/>
<rect x="91.42" y="242.50" width="14.65" height="6.26" fill="#ffe8d1"/>
<rect x="105.78" y="242.50" width="14.65" height="6.26" fill="#ffebd6"/>
<rect x="120.12" y="242.50" width="14.65" height="6.26" fill="#ffebd6"/>
<rect x="134.47" y="242.50" width="14.65" height="6.26" fill="#ffebd6"/>
<rect x="148.82" y="242.50" width="14.65" height="6.26" fill="#ffebd6"/>
<rect x="163.18" y="242.50" width="14.65" height="6.26" fill="#ffebd6"/>
<rect x="177.52" y="242.50" width="14.65" height="6.26" fill="#ffebd6"/>
<rect x="191.88" y="242.50" width="14.65" height="6.26" fill="#ffebd6"/>
<rect x="206.23" y="242.50" width="14.65" height="6.26" fill="#fff0e0"/>
<rect x="220.57" y="242.50" width="14.65" height="6.26" fill="#fff0e0"/>
<rect x="234.93" y="242.50" width="14.65" height="6.26" fill="#fff0e0"/>
<rect x="249.27" y="242.50" width="14.65" height="6.26" fill="#fff0e0"/>
<rect x="263.62" y="242.50" width="14.65" height="6.26" fill="#fff0e0"/>
<rect x="277.97" y="242.50" width="14.65" height="6.26" fill="#fff0e0"/>
<rect x="292.32" y="242.50" width="14.65" height="6.26" fill="#fff0e0"/>
<rect x="306.68" y="242.50" width="14.65" height="6.26" fill="#fff0e0"/>
<rect x="321.02" y="242.50" width="19.28" height="6.26" fill="#ffd6ad"/>
<rect x="75.00" y="248.46" width="16.72" height="6.26" fill="#ffe0c2"/>
<rect x="91.42" y="248.46" width="14.65" height="6.26" fill="#fff0e0"/>
<rect x="105.78" y="248.46" width="14.65" height="6.26" fill="#fff2e5"/>
<rect x="120.12" y="248.46" width="14.65" height="6.26" fill="#fff2e5"/>
<rect x="134.47" y="248.46" width="14.65" height="6.26" fill="#fff2e5"/>
<rect x="148.82" y="248.46" width="14.65" height="6.26" fill="#fff2e5"/>
<rect x="163.18" y="248.46" width="14.65" height="6.26" fill="#fff2e5"/>
<rect x="177.52" y="248.46" width="14.65" height="6.26" fill="#fff2e5"/>
<rect x="191.88" y="248.46" width="14.65" height="6.26" fill="#fff2e5"/>
<rect x="206.23" y="248.46" width="14.65" height="6.26" fill="#fff2e5"/>
<rect x="220.57" y="248.46" width="14.65" height="6.26" fill="#fff2e5"/>
<rect x="234.93" y="248.46" width="14.65" height="6.26" fill="#fff2e5"/>
<rect x="249.27" y="248.46" width="14.65" height="6.26" fill="#fff2e5"/>
<rect x="263.62" y="248.46" width="14.65" height="6.26" fill="#fff2e5"/>
<rect x="277.97" y="248.46" width="14.65" height="6.26" fill="#fff2e5"/>
<rect x="292.32" y="248.46" width="14.65" height="6.26" fill="#fff2e5"/>
<rect x="306.68" y="248.46" width="14.65" height="6.26" fill="#fff2e5"/>
<rect x="321.02" y="248.46" width="19.28" height="6.26" fill="#ffe8d1"/>
<rect x="75.00" y="254.42" width="16.72" height="6.26" fill="#ffe0c2"/>
<rect x="91.42" y="254.42" width="14.65" height="6.26" fill="#fff0e0"/>
<rect x="105.78" y="254.42" width="14.65" height="6.26" fill="#fff2e5"/>
<rect x="120.12" y="254.42" width="14.65" height="6.26" fill="#fff2e5"/>
<rect x="134.47" y="254.42" width="14.65" height="6.26" fill="#fff2e5"/>
<rect x="148.82" y="254.42" width="14.65" height="6.26" fill="#fff2e5"/>
<rect x="163.18" y="254.42" width="14.65" height="6.26" fill="#fff2e5"/>
<rect x="177.52" y="254.42" width="14.65" height="6.26" fill="#fff2e5"/>
<rect x="191.88" y="254.42" width="14.65" height="6.26" fill="#fff2e5"/>
<rect x="206.23" y="254.42" width="14.65" height="6.26" fill="#fff2e5"/>
<rect x="220.57" y="254.42" width="14.65" height="6.26" fill="#fff2e5"/>
<rect x="234.93" y="254.42" width="14.65" height="6.26" fill="#fff2e5"/>
<rect x="249.27" y="254.42" width="14.65" height="6.26" fill="#fff2e5"/>
<rect x="263.62" y="254.42" width="14.65" height="6.26" fill="#fff2e5"/>
<rect x="277.97" y="254.42" width="14.65" height="6.26" fill="#fff2e5"/>
<rect x="292.32" y="254.42" width="14.65" height="6.26" fill="#fff2e5"/>
<rect x="306.68" y="254.42" width="14.65" height="6.26" fill="#fff2e5"/>
<rect x="321.02" y="254.42" width="19.28" height="6.26" fill="#ffe8d1"/>
</g>
<g clip-path="url(#ctb)" shape-rendering="crispEdges">
<rect x="330.00" y="7.70" width="11.95" height="6.27" fill="#ffc78f"/>
<rect x="341.65" y="7.70" width="7.25" height="6.27" fill="#ffc48a"/>
<rect x="348.60" y="7.70" width="6.90" height="6.27" fill="#ffc48a"/>
<rect x="355.20" y="7.70" width="6.70" height="6.27" fill="#ffc48a"/>
<rect x="361.60" y="7.70" width="6.70" height="6.27" fill="#ffc48a"/>
<rect x="368.00" y="7.70" width="6.90" height="6.27" fill="#ffc285"/>
<rect x="374.60" y="7.70" width="6.80" height="6.27" fill="#ffc285"/>
<rect x="381.10" y="7.70" width="6.85" height="6.27" fill="#ffc285"/>
<rect x="387.65" y="7.70" width="8.55" height="6.27" fill="#ffbf80"/>
<rect x="395.90" y="7.70" width="13.40" height="6.27" fill="#ffbf80"/>
<rect x="409.00" y="7.70" width="16.45" height="6.27" fill="#ffbf80"/>
<rect x="425.15" y="7.70" width="13.15" height="6.27" fill="#ffbf80"/>
<rect x="438.00" y="7.70" width="8.50" height="6.27" fill="#ffb870"/>
<rect x="446.20" y="7.70" width="6.90" height="6.27" fill="#ffb266"/>
<rect x="452.80" y="7.70" width="6.85" height="6.27" fill="#ffad5c"/>
<rect x="459.35" y="7.70" width="5.45" height="6.27" fill="#ffa347"/>
<rect x="464.50" y="7.70" width="3.80" height="6.27" fill="#ffa347"/>
<rect x="468.00" y="7.70" width="4.85" height="6.27" fill="#ffa347"/>
<rect x="472.55" y="7.70" width="6.50" height="6.27" fill="#ff9933"/>
<rect x="478.75" y="7.70" width="6.85" height="6.27" fill="#ff9429"/>
<rect x="485.30" y="7.70" width="6.90" height="6.27" fill="#ff8f1f"/>
<rect x="491.90" y="7.70" width="5.80" height="6.27" fill="#ff8c1a"/>
<rect x="497.40" y="7.70" width="3.95" height="6.27" fill="#ff870f"/>
<rect x="501.05" y="7.70" width="4.65" height="6.27" fill="#ff870f"/>
<rect x="505.40" y="7.70" width="6.50" height="6.27" fill="#ff850a"/>
<rect x="511.60" y="7.70" width="13.70" height="6.27" fill="#ff8000"/>
<rect x="330.00" y="13.67" width="11.95" height="6.27" fill="#ffc68e"/>
<rect x="341.65" y="13.67" width="7.25" height="6.27" fill="#ffc489"/>
<rect x="348.60" y="13.67" width="6.90" height="6.27" fill="#ffc489"/>
<rect x="355.20" y="13.67" width="6.70" height="6.27" fill="#ffc489"/>
<rect x="361.60" y="13.67" width="6.70" height="6.27" fill="#ffc489"/>
<rect x="368.00" y="13.67" width="6.90" height="6.27" fill="#ffc285"/>
<rect x="374.60" y="13.67" width="6.80" height="6.27" fill="#ffc184"/>
<rect x="381.10" y="13.67" width="6.85" height="6.27" fill="#ffc184"/>
<rect x="387.65" y="13.67" width="8.55" height="6.27" fill="#ffbf80"/>
<rect x="395.90" y="13.67" width="13.40" height="6.27" fill="#ffbf7e"/>
<rect x="409.00" y="13.67" width="16.45" height="6.27" fill="#ffbf7e"/>
<rect x="425.15" y="13.67" width="13.15" height="6.27" fill="#ffbe7d"/>
<rect x="438.00" y="13.67" width="8.50" height="6.27" fill="#ffb56a"/>
<rect x="446.20" y="13.67" width="6.90" height="6.27" fill="#ffaf60"/>
<rect x="452.80" y="13.67" width="6.85" height="6.27" fill="#ffaa56"/>
<rect x="459.35" y="13.67" width="5.45" height="6.27" fill="#ffa143"/>
<rect x="464.50" y="13.67" width="3.80" height="6.27" fill="#ffa143"/>
<rect x="468.00" y="13.67" width="4.85" height="6.27" fill="#ffa143"/>
<rect x="472.55" y="13.67" width="6.50" height="6.27" fill="#ff9831"/>
<rect x="478.75" y="13.67" width="6.85" height="6.27" fill="#ff9327"/>
<rect x="485.30" y="13.67" width="6.90" height="6.27" fill="#ff8e1d"/>
<rect x="491.90" y="13.67" width="5.80" height="6.27" fill="#ff8b17"/>
<rect x="497.40" y="13.67" width="3.95" height="6.27" fill="#ff870e"/>
<rect x="501.05" y="13.67" width="4.65" height="6.27" fill="#ff870e"/>
<rect x="505.40" y="13.67" width="6.50" height="6.27" fill="#ff8408"/>
<rect x="511.60" y="13.67" width="13.70" height="6.27" fill="#ff8000"/>
<rect x="330.00" y="19.64" width="11.95" height="6.27" fill="#ffc68d"/>
<rect x="341.65" y="19.64" width="7.25" height="6.27" fill="#ffc388"/>
<rect x="348.60" y="19.64" width="6.90" height="6.27" fill="#ffc388"/>
<rect x="355.20" y="19.64" width="6.70" height="6.27" fill="#ffc388"/>
<rect x="361.60" y="19.64" width="6.70" height="6.27" fill="#ffc388"/>
<rect x="368.00" y="19.64" width="6.90" height="6.27" fill="#ffc285"/>
<rect x="374.60" y="19.64" width="6.80" height="6.27" fill="#ffc183"/>
<rect x="381.10" y="19.64" width="6.85" height="6.27" fill="#ffc183"/>
<rect x="387.65" y="19.64" width="8.55" height="6.27" fill="#ffbf80"/>
<rect x="395.90" y="19.64" width="13.40" height="6.27" fill="#ffbe7d"/>
<rect x="409.00" y="19.64" width="16.45" height="6.27" fill="#ffbe7d"/>
<rect x="425.15" y="19.64" width="13.15" height="6.27" fill="#ffbd7b"/>
<rect x="438.00" y="19.64" width="8.50" height="6.27" fill="#ffb164"/>
<rect x="446.20" y="19.64" width="6.90" height="6.27" fill="#ffac5a"/>
<rect x="452.80" y="19.64" width="6.85" height="6.27" fill="#ffa750"/>
<rect x="459.35" y="19.64" width="5.45" height="6.27" fill="#ff9f3f"/>
<rect x="464.50" y="19.64" width="3.80" height="6.27" fill="#ff9f3f"/>
<rect x="468.00" y="19.64" width="4.85" height="6.27" fill="#ff9f3f"/>
<rect x="472.55" y="19.64" width="6.50" height="6.27" fill="#ff972f"/>
<rect x="478.75" y="19.64" width="6.85" height="6.27" fill="#ff9225"/>
<rect x="485.30" y="19.64" width="6.90" height="6.27" fill="#ff8d1b"/>
<rect x="491.90" y="19.64" width="5.80" height="6.27" fill="#ff8a15"/>
<rect x="497.40" y="19.64" width="3.95" height="6.27" fill="#ff860d"/>
<rect x="501.05" y="19.64" width="4.65" height="6.27" fill="#ff860d"/>
<rect x="505.40" y="19.64" width="6.50" height="6.27" fill="#ff8306"/>
<rect x="511.60" y="19.64" width="13.70" height="6.27" fill="#ff8000"/>
<rect x="330.00" y="25.61" width="11.95" height="6.27" fill="#ffc58c"/>
<rect x="341.65" y="25.61" width="7.25" height="6.27" fill="#ffc387"/>
<rect x="348.60" y="25.61" width="6.90" height="6.27" fill="#ffc387"/>
<rect x="355.20" y="25.61" width="6.70" height="6.27" fill="#ffc387"/>
<rect x="361.60" y="25.61" width="6.70" height="6.27" fill="#ffc387"/>
<rect x="368.00" y="25.61" width="6.90" height="6.27" fill="#ffc285"/>
<rect x="374.60" y="25.61" width="6.80" height="6.27" fill="#ffc082"/>
<rect x="381.10" y="25.61" width="6.85" height="6.27" fill="#ffc082"/>
<rect x="387.65" y="25.61" width="8.55" height="6.27" fill="#ffbf80"/>
<rect x="395.90" y="25.61" width="13.40" height="6.27" fill="#ffbe7c"/>
<rect x="409.00" y="25.61" width="16.45" height="6.27" fill="#ffbe7c"/>
<rect x="425.15" y="25.61" width="13.15" height="6.27" fill="#ffbc79"/>
<rect x="438.00" y="25.61" width="8.50" height="6.27" fill="#ffae5e"/>
<rect x="446.20" y="25.61" width="6.90" height="6.27" fill="#ffa954"/>
<rect x="452.80" y="25.61" width="6.85" height="6.27" fill="#ffa449"/>
<rect x="459.35" y="25.61" width="5.45" height="6.27" fill="#ff9d3b"/>
<rect x="464.50" y="25.61" width="3.80" height="6.27" fill="#ff9d3b"/>
<rect x="468.00" y="25.61" width="4.85" height="6.27" fill="#ff9d3b"/>
<rect x="472.55" y="25.61" width="6.50" height="6.27" fill="#ff962d"/>
<rect x="478.75" y="25.61" width="6.85" height="6.27" fill="#ff9123"/>
<rect x="485.30" y="25.61" width="6.90" height="6.27" fill="#ff8c18"/>
<rect x="491.90" y="25.61" width="5.80" height="6.27" fill="#ff8913"/>
<rect x="497.40" y="25.61" width="3.95" height="6.27" fill="#ff860c"/>
<rect x="501.05" y="25.61" width="4.65" height="6.27" fill="#ff860c"/>
<rect x="505.40" y="25.61" width="6.50" height="6.27" fill="#ff8204"/>
<rect x="511.60" y="25.61" width="13.70" height="6.27" fill="#ff8000"/>
<rect x="330.00" y="31.58" width="11.95" height="6.27" fill="#ffc58b"/>
<rect x="341.65" y="31.58" width="7.25" height="6.27" fill="#ffc286"/>
<rect x="348.60" y="31.58" width="6.90" height="6.27" fill="#ffc286"/>
<rect x="355.20" y="31.58" width="6.70" height="6.27" fill="#ffc286"/>
<rect x="361.60" y="31.58" width="6.70" height="6.27" fill="#ffc286"/>
<rect x="368.00" y="31.58" width="6.90" height="6.27" fill="#ffc285"/>
<rect x="374.60" y="31.58" width="6.80" height="6.27" fill="#ffc081"/>
<rect x="381.10" y="31.58" width="6.85" height="6.27" fill="#ffc081"/>
<rect x="387.65" y="31.58" width="8.55" height="6.27" fill="#ffbf80"/>
<rect x="395.90" y="31.58" width="13.40" height="6.27" fill="#ffbd7b"/>
<rect x="409.00" y="31.58" width="16.45" height="6.27" fill="#ffbd7b"/>
<rect x="425.15" y="31.58" width="13.15" height="6.27" fill="#ffbb77"/>
<rect x="438.00" y="31.58" width="8.50" height="6.27" fill="#ffab58"/>
<rect x="446.20" y="31.58" width="6.90" height="6.27" fill="#ffa64e"/>
<rect x="452.80" y="31.58" width="6.85" height="6.27" fill="#ffa143"/>
<rect x="459.35" y="31.58" width="5.45" height="6.27" fill="#ff9b37"/>
<rect x="464.50" y="31.58" width="3.80" height="6.27" fill="#ff9b37"/>
<rect x="468.00" y="31.58" width="4.85" height="6.27" fill="#ff9b37"/>
<rect x="472.55" y="31.58" width="6.50" height="6.27" fill="#ff952b"/>
<rect x="478.75" y="31.58" width="6.85" height="6.27" fill="#ff9021"/>
<rect x="485.30" y="31.58" width="6.90" height="6.27" fill="#ff8b16"/>
<rect x="491.90" y="31.58" width="5.80" height="6.27" fill="#ff8811"/>
<rect x="497.40" y="31.58" width="3.95" height="6.27" fill="#ff850b"/>
<rect x="501.05" y="31.58" width="4.65" height="6.27" fill="#ff850b"/>
<rect x="505.40" y="31.58" width="6.50" height="6.27" fill="#ff8102"/>
<rect x="511.60" y="31.58" width="13.70" height="6.27" fill="#ff8000"/>
<rect x="330.00" y="37.55" width="11.95" height="6.27" fill="#ffc48a"/>
<rect x="341.65" y="37.55" width="7.25" height="6.27" fill="#ffc285"/>
<rect x="348.60" y="37.55" width="6.90" height="6.27" fill="#ffc285"/>
<rect x="355.20" y="37.55" width="6.70" height="6.27" fill="#ffc285"/>
<rect x="361.60" y="37.55" width="6.70" height="6.27" fill="#ffc285"/>
<rect x="368.00" y="37.55" width="6.90" height="6.27" fill="#ffc285"/>
<rect x="374.60" y="37.55" width="6.80" height="6.27" fill="#ffbf80"/>
<rect x="381.10" y="37.55" width="6.85" height="6.27" fill="#ffbf80"/>
<rect x="387.65" y="37.55" width="8.55" height="6.27" fill="#ffbf80"/>
<rect x="395.90" y="37.55" width="13.40" height="6.27" fill="#ffbd7a"/>
<rect x="409.00" y="37.55" width="16.45" height="6.27" fill="#ffbd7a"/>
<rect x="425.15" y="37.55" width="13.15" height="6.27" fill="#ffba75"/>
<rect x="438.00" y="37.55" width="8.50" height="6.27" fill="#ffa852"/>
<rect x="446.20" y="37.55" width="6.90" height="6.27" fill="#ffa347"/>
<rect x="452.80" y="37.55" width="6.85" height="6.27" fill="#ff9e3d"/>
<rect x="459.35" y="37.55" width="5.45" height="6.27" fill="#ff9933"/>
<rect x="464.50" y="37.55" width="3.80" height="6.27" fill="#ff9933"/>
<rect x="468.00" y="37.55" width="4.85" height="6.27" fill="#ff9933"/>
<rect x="472.55" y="37.55" width="6.50" height="6.27" fill="#ff9429"/>
<rect x="478.75" y="37.55" width="6.85" height="6.27" fill="#ff8f1f"/>
<rect x="485.30" y="37.55" width="6.90" height="6.27" fill="#ff8a14"/>
<rect x="491.90" y="37.55" width="5.80" height="6.27" fill="#ff870f"/>
<rect x="497.40" y="37.55" width="3.95" height="6.27" fill="#ff850a"/>
<rect x="501.05" y="37.55" width="4.65" height="6.27" fill="#ff850a"/>
<rect x="505.40" y="37.55" width="6.50" height="6.27" fill="#ff8000"/>
<rect x="511.60" y="37.55" width="13.70" height="6.27" fill="#ff8000"/>
<rect x="330.00" y="43.52" width="11.95" height="6.27" fill="#ffc388"/>
<rect x="341.65" y="43.52" width="7.25" height="6.27" fill="#ffc183"/>
<rect x="348.60" y="43.52" width="6.90" height="6.27" fill="#ffc183"/>
<rect x="355.20" y="43.52" width="6.70" height="6.27" fill="#ffc183"/>
<rect x="361.60" y="43.52" width="6.70" height="6.27" fill="#ffc183"/>
<rect x="368.00" y="43.52" width="6.90" height="6.27" fill="#ffc183"/>
<rect x="374.60" y="43.52" width="6.80" height="6.27" fill="#ffbe7d"/>
<rect x="381.10" y="43.52" width="6.85" height="6.27" fill="#ffbe7d"/>
<rect x="387.65" y="43.52" width="8.55" height="6.27" fill="#ffbe7d"/>
<rect x="395.90" y="43.52" width="13.40" height="6.27" fill="#ffbc78"/>
<rect x="409.00" y="43.52" width="16.45" height="6.27" fill="#ffbb77"/>
<rect x="425.15" y="43.52" width="13.15" height="6.27" fill="#ffb972"/>
<rect x="438.00" y="43.52" width="8.50" height="6.27" fill="#ffa64e"/>
<rect x="446.20" y="43.52" width="6.90" height="6.27" fill="#ffa143"/>
<rect x="452.80" y="43.52" width="6.85" height="6.27" fill="#ff9c39"/>
<rect x="459.35" y="43.52" width="5.45" height="6.27" fill="#ff972f"/>
<rect x="464.50" y="43.52" width="3.80" height="6.27" fill="#ff972f"/>
<rect x="468.00" y="43.52" width="4.85" height="6.27" fill="#ff972f"/>
<rect x="472.55" y="43.52" width="6.50" height="6.27" fill="#ff9225"/>
<rect x="478.75" y="43.52" width="6.85" height="6.27" fill="#ff8d1b"/>
<rect x="485.30" y="43.52" width="6.90" height="6.27" fill="#ff8810"/>
<rect x="491.90" y="43.52" width="5.80" height="6.27" fill="#ff850a"/>
<rect x="497.40" y="43.52" width="3.95" height="6.27" fill="#ff8205"/>
<rect x="501.05" y="43.52" width="4.65" height="6.27" fill="#ff8205"/>
<rect x="505.40" y="43.52" width="6.50" height="6.27" fill="#ff7d00"/>
<rect x="511.60" y="43.52" width="13.70" height="6.27" fill="#ff7c00"/>
<rect x="330.00" y="49.49" width="11.95" height="6.27" fill="#ffc286"/>
<rect x="341.65" y="49.49" width="7.25" height="6.27" fill="#ffc081"/>
<rect x="348.60" y="49.49" width="6.90" height="6.27" fill="#ffc081"/>
<rect x="355.20" y="49.49" width="6.70" height="6.27" fill="#ffc081"/>
<rect x="361.60" y="49.49" width="6.70" height="6.27" fill="#ffc081"/>
<rect x="368.00" y="49.49" width="6.90" height="6.27" fill="#ffc081"/>
<rect x="374.60" y="49.49" width="6.80" height="6.27" fill="#ffbd7b"/>
<rect x="381.10" y="49.49" width="6.85" height="6.27" fill="#ffbd7b"/>
<rect x="387.65" y="49.49" width="8.55" height="6.27" fill="#ffbd7b"/>
<rect x="395.90" y="49.49" width="13.40" height="6.27" fill="#ffbb76"/>
<rect x="409.00" y="49.49" width="16.45" height="6.27" fill="#ffba74"/>
<rect x="425.15" y="49.49" width="13.15" height="6.27" fill="#ffb76f"/>
<rect x="438.00" y="49.49" width="8.50" height="6.27" fill="#ffa449"/>
<rect x="446.20" y="49.49" width="6.90" height="6.27" fill="#ff9f3f"/>
<rect x="452.80" y="49.49" width="6.85" height="6.27" fill="#ff9a35"/>
<rect x="459.35" y="49.49" width="5.45" height="6.27" fill="#ff952b"/>
<rect x="464.50" y="49.49" width="3.80" height="6.27" fill="#ff952b"/>
<rect x="468.00" y="49.49" width="4.85" height="6.27" fill="#ff952b"/>
<rect x="472.55" y="49.49" width="6.50" height="6.27" fill="#ff9021"/>
<rect x="478.75" y="49.49" width="6.85" height="6.27" fill="#ff8b16"/>
<rect x="485.30" y="49.49" width="6.90" height="6.27" fill="#ff860c"/>
<rect x="491.90" y="49.49" width="5.80" height="6.27" fill="#ff8205"/>
<rect x="497.40" y="49.49" width="3.95" height="6.27" fill="#ff8000"/>
<rect x="501.05" y="49.49" width="4.65" height="6.27" fill="#ff8000"/>
<rect x="505.40" y="49.49" width="6.50" height="6.27" fill="#ff7b00"/>
<rect x="511.60" y="49.49" width="13.70" height="6.27" fill="#ff7900"/>
<rect x="330.00" y="55.46" width="11.95" height="6.27" fill="#ffc184"/>
<rect x="341.65" y="55.46" width="7.25" height="6.27" fill="#ffbf7e"/>
<rect x="348.60" y="55.46" width="6.90" height="6.27" fill="#ffbf7e"/>
<rect x="355.20" y="55.46" width="6.70" height="6.27" fill="#ffbf7e"/>
<rect x="361.60" y="55.46" width="6.70" height="6.27" fill="#ffbf7e"/>
<rect x="368.00" y="55.46" width="6.90" height="6.27" fill="#ffbf7e"/>
<rect x="374.60" y="55.46" width="6.80" height="6.27" fill="#ffbc79"/>
<rect x="381.10" y="55.46" width="6.85" height="6.27" fill="#ffbc79"/>
<rect x="387.65" y="55.46" width="8.55" height="6.27" fill="#ffbc79"/>
<rect x="395.90" y="55.46" width="13.40" height="6.27" fill="#ffba74"/>
<rect x="409.00" y="55.46" width="16.45" height="6.27" fill="#ffb871"/>
<rect x="425.15" y="55.46" width="13.15" height="6.27" fill="#ffb66c"/>
<rect x="438.00" y="55.46" width="8.50" height="6.27" fill="#ffa245"/>
<rect x="446.20" y="55.46" width="6.90" height="6.27" fill="#ff9d3b"/>
<rect x="452.80" y="55.46" width="6.85" height="6.27" fill="#ff9831"/>
<rect x="459.35" y="55.46" width="5.45" height="6.27" fill="#ff9327"/>
<rect x="464.50" y="55.46" width="3.80" height="6.27" fill="#ff9327"/>
<rect x="468.00" y="55.46" width="4.85" height="6.27" fill="#ff9327"/>
<rect x="472.55" y="55.46" width="6.50" height="6.27" fill="#ff8e1d"/>
<rect x="478.75" y="55.46" width="6.85" height="6.27" fill="#ff8912"/>
<rect x="485.30" y="55.46" width="6.90" height="6.27" fill="#ff8408"/>
<rect x="491.90" y="55.46" width="5.80" height="6.27" fill="#ff8000"/>
<rect x="497.40" y="55.46" width="3.95" height="6.27" fill="#ff7d00"/>
<rect x="501.05" y="55.46" width="4.65" height="6.27" fill="#ff7d00"/>
<rect x="505.40" y="55.46" width="6.50" height="6.27" fill="#ff7900"/>
<rect x="511.60" y="55.46" width="13.70" height="6.27" fill="#ff7600"/>
<rect x="330.00" y="61.43" width="11.95" height="6.27" fill="#ffc082"/>
<rect x="341.65" y="61.43" width="7.25" height="6.27" fill="#ffbe7c"/>
<rect x="348.60" y="61.43" width="6.90" height="6.27" fill="#ffbe7c"/>
<rect x="355.20" y="61.43" width="6.70" height="6.27" fill="#ffbe7c"/>
<rect x="361.60" y="61.43" width="6.70" height="6.27" fill="#ffbe7c"/>
<rect x="368.00" y="61.43" width="6.90" height="6.27" fill="#ffbe7c"/>
<rect x="374.60" y="61.43" width="6.80" height="6.27" fill="#ffbb77"/>
<rect x="381.10" y="61.43" width="6.85" height="6.27" fill="#ffbb77"/>
<rect x="387.65" y="61.43" width="8.55" height="6.27" fill="#ffbb77"/>
<rect x="395.90" y="61.43" width="13.40" height="6.27" fill="#ffb972"/>
<rect x="409.00" y="61.43" width="16.45" height="6.27" fill="#ffb76e"/>
<rect x="425.15" y="61.43" width="13.15" height="6.27" fill="#ffb469"/>
<rect x="438.00" y="61.43" width="8.50" height="6.27" fill="#ffa041"/>
<rect x="446.20" y="61.43" width="6.90" height="6.27" fill="#ff9b37"/>
<rect x="452.80" y="61.43" width="6.85" height="6.27" fill="#ff962d"/>
<rect x="459.35" y="61.43" width="5.45" height="6.27" fill="#ff9123"/>
<rect x="464.50" y="61.43" width="3.80" height="6.27" fill="#ff9123"/>
<rect x="468.00" y="61.43" width="4.85" height="6.27" fill="#ff9123"/>
<rect x="472.55" y="61.43" width="6.50" height="6.27" fill="#ff8c18"/>
<rect x="478.75" y="61.43" width="6.85" height="6.27" fill="#ff870e"/>
<rect x="485.30" y="61.43" width="6.90" height="6.27" fill="#ff8204"/>
<rect x="491.90" y="61.43" width="5.80" height="6.27" fill="#ff7d00"/>
<rect x="497.40" y="61.43" width="3.95" height="6.27" fill="#ff7a00"/>
<rect x="501.05" y="61.43" width="4.65" height="6.27" fill="#ff7a00"/>
<rect x="505.40" y="61.43" width="6.50" height="6.27" fill="#ff7700"/>
<rect x="511.60" y="61.43" width="13.70" height="6.27" fill="#ff7300"/>
<rect x="330.00" y="67.40" width="11.95" height="6.27" fill="#ffbf80"/>
<rect x="341.65" y="67.40" width="7.25" height="6.27" fill="#ffbd7a"/>
<rect x="348.60" y="67.40" width="6.90" height="6.27" fill="#ffbd7a"/>
<rect x="355.20" y="67.40" width="6.70" height="6.27" fill="#ffbd7a"/>
<rect x="361.60" y="67.40" width="6.70" height="6.27" fill="#ffbd7a"/>
<rect x="368.00" y="67.40" width="6.90" height="6.27" fill="#ffbd7a"/>
<rect x="374.60" y="67.40" width="6.80" height="6.27" fill="#ffba75"/>
<rect x="381.10" y="67.40" width="6.85" height="6.27" fill="#ffba75"/>
<rect x="387.65" y="67.40" width="8.55" height="6.27" fill="#ffba75"/>
<rect x="395.90" y="67.40" width="13.40" height="6.27" fill="#ffb870"/>
<rect x="409.00" y="67.40" width="16.45" height="6.27" fill="#ffb56b"/>
<rect x="425.15" y="67.40" width="13.15" height="6.27" fill="#ffb266"/>
<rect x="438.00" y="67.40" width="8.50" height="6.27" fill="#ff9e3d"/>
<rect x="446.20" y="67.40" width="6.90" height="6.27" fill="#ff9933"/>
<rect x="452.80" y="67.40" width="6.85" height="6.27" fill="#ff9429"/>
<rect x="459.35" y="67.40" width="5.45" height="6.27" fill="#ff8f1f"/>
<rect x="464.50" y="67.40" width="3.80" height="6.27" fill="#ff8f1f"/>
<rect x="468.00" y="67.40" width="4.85" height="6.27" fill="#ff8f1f"/>
<rect x="472.55" y="67.40" width="6.50" height="6.27" fill="#ff8a14"/>
<rect x="478.75" y="67.40" width="6.85" height="6.27" fill="#ff850a"/>
<rect x="485.30" y="67.40" width="6.90" height="6.27" fill="#ff8000"/>
<rect x="491.90" y="67.40" width="5.80" height="6.27" fill="#ff7a00"/>
<rect x="497.40" y="67.40" width="3.95" height="6.27" fill="#ff7800"/>
<rect x="501.05" y="67.40" width="4.65" height="6.27" fill="#ff7800"/>
<rect x="505.40" y="67.40" width="6.50" height="6.27" fill="#ff7500"/>
<rect x="511.60" y="67.40" width="13.70" height="6.27" fill="#ff7000"/>
<rect x="330.00" y="73.37" width="11.95" height="6.27" fill="#ffbc79"/>
<rect x="341.65" y="73.37" width="7.25" height="6.27" fill="#ffba75"/>
<rect x="348.60" y="73.37" width="6.90" height="6.27" fill="#ffba75"/>
<rect x="355.20" y="73.37" width="6.70" height="6.27" fill="#ffba75"/>
<rect x="361.60" y="73.37" width="6.70" height="6.27" fill="#ffba75"/>
<rect x="368.00" y="73.37" width="6.90" height="6.27" fill="#ffba75"/>
<rect x="374.60" y="73.37" width="6.80" height="6.27" fill="#ffb872"/>
<rect x="381.10" y="73.37" width="6.85" height="6.27" fill="#ffb872"/>
<rect x="387.65" y="73.37" width="8.55" height="6.27" fill="#ffb872"/>
<rect x="395.90" y="73.37" width="13.40" height="6.27" fill="#ffb56b"/>
<rect x="409.00" y="73.37" width="16.45" height="6.27" fill="#ffb368"/>
<rect x="425.15" y="73.37" width="13.15" height="6.27" fill="#ffaf5f"/>
<rect x="438.00" y="73.37" width="8.50" height="6.27" fill="#ff9f40"/>
<rect x="446.20" y="73.37" width="6.90" height="6.27" fill="#ff9934"/>
<rect x="452.80" y="73.37" width="6.85" height="6.27" fill="#ff962d"/>
<rect x="459.35" y="73.37" width="5.45" height="6.27" fill="#ff9021"/>
<rect x="464.50" y="73.37" width="3.80" height="6.27" fill="#ff9021"/>
<rect x="468.00" y="73.37" width="4.85" height="6.27" fill="#ff9021"/>
<rect x="472.55" y="73.37" width="6.50" height="6.27" fill="#ff8a14"/>
<rect x="478.75" y="73.37" width="6.85" height="6.27" fill="#ff8307"/>
<rect x="485.30" y="73.37" width="6.90" height="6.27" fill="#ff7d00"/>
<rect x="491.90" y="73.37" width="5.80" height="6.27" fill="#ff7700"/>
<rect x="497.40" y="73.37" width="3.95" height="6.27" fill="#ff7400"/>
<rect x="501.05" y="73.37" width="4.65" height="6.27" fill="#ff7400"/>
<rect x="505.40" y="73.37" width="6.50" height="6.27" fill="#ff7100"/>
<rect x="511.60" y="73.37" width="13.70" height="6.27" fill="#ff6c00"/>
<rect x="330.00" y="79.34" width="11.95" height="6.27" fill="#ffb872"/>
<rect x="341.65" y="79.34" width="7.25" height="6.27" fill="#ffb870"/>
<rect x="348.60" y="79.34" width="6.90" height="6.27" fill="#ffb870"/>
<rect x="355.20" y="79.34" width="6.70" height="6.27" fill="#ffb870"/>
<rect x="361.60" y="79.34" width="6.70" height="6.27" fill="#ffb870"/>
<rect x="368.00" y="79.34" width="6.90" height="6.27" fill="#ffb870"/>
<rect x="374.60" y="79.34" width="6.80" height="6.27" fill="#ffb76f"/>
<rect x="381.10" y="79.34" width="6.85" height="6.27" fill="#ffb76f"/>
<rect x="387.65" y="79.34" width="8.55" height="6.27" fill="#ffb76f"/>
<rect x="395.90" y="79.34" width="13.40" height="6.27" fill="#ffb266"/>
<rect x="409.00" y="79.34" width="16.45" height="6.27" fill="#ffb264"/>
<rect x="425.15" y="79.34" width="13.15" height="6.27" fill="#ffab58"/>
<rect x="438.00" y="79.34" width="8.50" height="6.27" fill="#ffa142"/>
<rect x="446.20" y="79.34" width="6.90" height="6.27" fill="#ff9a34"/>
<rect x="452.80" y="79.34" width="6.85" height="6.27" fill="#ff9831"/>
<rect x="459.35" y="79.34" width="5.45" height="6.27" fill="#ff9123"/>
<rect x="464.50" y="79.34" width="3.80" height="6.27" fill="#ff9123"/>
<rect x="468.00" y="79.34" width="4.85" height="6.27" fill="#ff9123"/>
<rect x="472.55" y="79.34" width="6.50" height="6.27" fill="#ff8a14"/>
<rect x="478.75" y="79.34" width="6.85" height="6.27" fill="#ff8204"/>
<rect x="485.30" y="79.34" width="6.90" height="6.27" fill="#ff7b00"/>
<rect x="491.90" y="79.34" width="5.80" height="6.27" fill="#ff7300"/>
<rect x="497.40" y="79.34" width="3.95" height="6.27" fill="#ff7000"/>
<rect x="501.05" y="79.34" width="4.65" height="6.27" fill="#ff7000"/>
<rect x="505.40" y="79.34" width="6.50" height="6.27" fill="#ff6c00"/>
<rect x="511.60" y="79.34" width="13.70" height="6.27" fill="#ff6800"/>
<rect x="330.00" y="85.31" width="11.95" height="6.27" fill="#ffb56b"/>
<rect x="341.65" y="85.31" width="7.25" height="6.27" fill="#ffb56b"/>
<rect x="348.60" y="85.31" width="6.90" height="6.27" fill="#ffb56b"/>
<rect x="355.20" y="85.31" width="6.70" height="6.27" fill="#ffb56b"/>
<rect x="361.60" y="85.31" width="6.70" height="6.27" fill="#ffb56b"/>
<rect x="368.00" y="85.31" width="6.90" height="6.27" fill="#ffb56b"/>
<rect x="374.60" y="85.31" width="6.80" height="6.27" fill="#ffb56b"/>
<rect x="381.10" y="85.31" width="6.85" height="6.27" fill="#ffb56b"/>
<rect x="387.65" y="85.31" width="8.55" height="6.27" fill="#ffb56b"/>
<rect x="395.90" y="85.31" width="13.40" height="6.27" fill="#ffb061"/>
<rect x="409.00" y="85.31" width="16.45" height="6.27" fill="#ffb061"/>
<rect x="425.15" y="85.31" width="13.15" height="6.27" fill="#ffa850"/>
<rect x="438.00" y="85.31" width="8.50" height="6.27" fill="#ffa244"/>
<rect x="446.20" y="85.31" width="6.90" height="6.27" fill="#ff9a35"/>
<rect x="452.80" y="85.31" width="6.85" height="6.27" fill="#ff9a35"/>
<rect x="459.35" y="85.31" width="5.45" height="6.27" fill="#ff9224"/>
<rect x="464.50" y="85.31" width="3.80" height="6.27" fill="#ff9224"/>
<rect x="468.00" y="85.31" width="4.85" height="6.27" fill="#ff9224"/>
<rect x="472.55" y="85.31" width="6.50" height="6.27" fill="#ff8a14"/>
<rect x="478.75" y="85.31" width="6.85" height="6.27" fill="#ff8001"/>
<rect x="485.30" y="85.31" width="6.90" height="6.27" fill="#ff7800"/>
<rect x="491.90" y="85.31" width="5.80" height="6.27" fill="#ff7000"/>
<rect x="497.40" y="85.31" width="3.95" height="6.27" fill="#ff6c00"/>
<rect x="501.05" y="85.31" width="4.65" height="6.27" fill="#ff6c00"/>
<rect x="505.40" y="85.31" width="6.50" height="6.27" fill="#ff6800"/>
<rect x="511.60" y="85.31" width="13.70" height="6.27" fill="#ff6400"/>
<rect x="330.00" y="91.28" width="11.95" height="6.27" fill="#ffad5c"/>
<rect x="341.65" y="91.28" width="7.25" height="6.27" fill="#ffad5c"/>
<rect x="348.60" y="91.28" width="6.90" height="6.27" fill="#ffad5c"/>
<rect x="355.20" y="91.28" width="6.70" height="6.27" fill="#ffad5c"/>
<rect x="361.60" y="91.28" width="6.70" height="6.27" fill="#ffad5c"/>
<rect x="368.00" y="91.28" width="6.90" height="6.27" fill="#ffad5c"/>
<rect x="374.60" y="91.28" width="6.80" height="6.27" fill="#ffad5c"/>
<rect x="381.10" y="91.28" width="6.85" height="6.27" fill="#ffad5c"/>
<rect x="387.65" y="91.28" width="8.55" height="6.27" fill="#ffad5c"/>
<rect x="395.90" y="91.28" width="13.40" height="6.27" fill="#ffa852"/>
<rect x="409.00" y="91.28" width="16.45" height="6.27" fill="#ffa852"/>
<rect x="425.15" y="91.28" width="13.15" height="6.27" fill="#ff9e3d"/>
<rect x="438.00" y="91.28" width="8.50" height="6.27" fill="#ff9a35"/>
<rect x="446.20" y="91.28" width="6.90" height="6.27" fill="#ff9224"/>
<rect x="452.80" y="91.28" width="6.85" height="6.27" fill="#ff9224"/>
<rect x="459.35" y="91.28" width="5.45" height="6.27" fill="#ff8a14"/>
<rect x="464.50" y="91.28" width="3.80" height="6.27" fill="#ff8a14"/>
<rect x="468.00" y="91.28" width="4.85" height="6.27" fill="#ff8a14"/>
<rect x="472.55" y="91.28" width="6.50" height="6.27" fill="#ff8001"/>
<rect x="478.75" y="91.28" width="6.85" height="6.27" fill="#ff7800"/>
<rect x="485.30" y="91.28" width="6.90" height="6.27" fill="#ff7000"/>
<rect x="491.90" y="91.28" width="5.80" height="6.27" fill="#ff6800"/>
<rect x="497.40" y="91.28" width="3.95" height="6.27" fill="#ff6000"/>
<rect x="501.05" y="91.28" width="4.65" height="6.27" fill="#ff6000"/>
<rect x="505.40" y="91.28" width="6.50" height="6.27" fill="#ff6000"/>
<rect x="511.60" y="91.28" width="13.70" height="6.27" fill="#ff5800"/>
<rect x="330.00" y="97.25" width="11.95" height="6.27" fill="#ffa64c"/>
<rect x="341.65" y="97.25" width="7.25" height="6.27" fill="#ffa64c"/>
<rect x="348.60" y="97.25" width="6.90" height="6.27" fill="#ffa64c"/>
<rect x="355.20" y="97.25" width="6.70" height="6.27" fill="#ffa64c"/>
<rect x="361.60" y="97.25" width="6.70" height="6.27" fill="#ffa64c"/>
<rect x="368.00" y="97.25" width="6.90" height="6.27" fill="#ffa64c"/>
<rect x="374.60" y="97.25" width="6.80" height="6.27" fill="#ffa64c"/>
<rect x="381.10" y="97.25" width="6.85" height="6.27" fill="#ffa64c"/>
<rect x="387.65" y="97.25" width="8.55" height="6.27" fill="#ffa64c"/>
<rect x="395.90" y="97.25" width="13.40" height="6.27" fill="#ff9e3d"/>
<rect x="409.00" y="97.25" width="16.45" height="6.27" fill="#ff9e3d"/>
<rect x="425.15" y="97.25" width="13.15" height="6.27" fill="#ff9224"/>
<rect x="438.00" y="97.25" width="8.50" height="6.27" fill="#ff8c19"/>
<rect x="446.20" y="97.25" width="6.90" height="6.27" fill="#ff860c"/>
<rect x="452.80" y="97.25" width="6.85" height="6.27" fill="#ff860c"/>
<rect x="459.35" y="97.25" width="5.45" height="6.27" fill="#ff7c00"/>
<rect x="464.50" y="97.25" width="3.80" height="6.27" fill="#ff7c00"/>
<rect x="468.00" y="97.25" width="4.85" height="6.27" fill="#ff7c00"/>
<rect x="472.55" y="97.25" width="6.50" height="6.27" fill="#ff7000"/>
<rect x="478.75" y="97.25" width="6.85" height="6.27" fill="#ff6800"/>
<rect x="485.30" y="97.25" width="6.90" height="6.27" fill="#ff6000"/>
<rect x="491.90" y="97.25" width="5.80" height="6.27" fill="#ff5800"/>
<rect x="497.40" y="97.25" width="3.95" height="6.27" fill="#fb5000"/>
<rect x="501.05" y="97.25" width="4.65" height="6.27" fill="#fb5000"/>
<rect x="505.40" y="97.25" width="6.50" height="6.27" fill="#f54800"/>
<rect x="511.60" y="97.25" width="13.70" height="6.27" fill="#f54800"/>
<rect x="330.00" y="103.22" width="11.95" height="6.27" fill="#ff9933"/>
<rect x="341.65" y="103.22" width="7.25" height="6.27" fill="#ff9933"/>
<rect x="348.60" y="103.22" width="6.90" height="6.27" fill="#ff9933"/>
<rect x="355.20" y="103.22" width="6.70" height="6.27" fill="#ff9933"/>
<rect x="361.60" y="103.22" width="6.70" height="6.27" fill="#ff9933"/>
<rect x="368.00" y="103.22" width="6.90" height="6.27" fill="#ff9933"/>
<rect x="374.60" y="103.22" width="6.80" height="6.27" fill="#ff9933"/>
<rect x="381.10" y="103.22" width="6.85" height="6.27" fill="#ff9933"/>
<rect x="387.65" y="103.22" width="8.55" height="6.27" fill="#ff9933"/>
<rect x="395.90" y="103.22" width="13.40" height="6.27" fill="#ff9124"/>
<rect x="409.00" y="103.22" width="16.45" height="6.27" fill="#ff9124"/>
<rect x="425.15" y="103.22" width="13.15" height="6.27" fill="#ff860c"/>
<rect x="438.00" y="103.22" width="8.50" height="6.27" fill="#ff7c00"/>
<rect x="446.20" y="103.22" width="6.90" height="6.27" fill="#ff7400"/>
<rect x="452.80" y="103.22" width="6.85" height="6.27" fill="#ff7400"/>
<rect x="459.35" y="103.22" width="5.45" height="6.27" fill="#ff6c00"/>
<rect x="464.50" y="103.22" width="3.80" height="6.27" fill="#ff6c00"/>
<rect x="468.00" y="103.22" width="4.85" height="6.27" fill="#ff6c00"/>
<rect x="472.55" y="103.22" width="6.50" height="6.27" fill="#ff6000"/>
<rect x="478.75" y="103.22" width="6.85" height="6.27" fill="#ff5800"/>
<rect x="485.30" y="103.22" width="6.90" height="6.27" fill="#f54800"/>
<rect x="491.90" y="103.22" width="5.80" height="6.27" fill="#ef4000"/>
<rect x="497.40" y="103.22" width="3.95" height="6.27" fill="#e93800"/>
<rect x="501.05" y="103.22" width="4.65" height="6.27" fill="#e93800"/>
<rect x="505.40" y="103.22" width="6.50" height="6.27" fill="#e33000"/>
<rect x="511.60" y="103.22" width="13.70" height="6.27" fill="#e93800"/>
<rect x="330.00" y="109.19" width="11.95" height="6.27" fill="#ff8c1a"/>
<rect x="341.65" y="109.19" width="7.25" height="6.27" fill="#ff8c1a"/>
<rect x="348.60" y="109.19" width="6.90" height="6.27" fill="#ff8c1a"/>
<rect x="355.20" y="109.19" width="6.70" height="6.27" fill="#ff8c1a"/>
<rect x="361.60" y="109.19" width="6.70" height="6.27" fill="#ff8c1a"/>
<rect x="368.00" y="109.19" width="6.90" height="6.27" fill="#ff8c1a"/>
<rect x="374.60" y="109.19" width="6.80" height="6.27" fill="#ff8c1a"/>
<rect x="381.10" y="109.19" width="6.85" height="6.27" fill="#ff8c1a"/>
<rect x="387.65" y="109.19" width="8.55" height="6.27" fill="#ff8c1a"/>
<rect x="395.90" y="109.19" width="13.40" height="6.27" fill="#ff850a"/>
<rect x="409.00" y="109.19" width="16.45" height="6.27" fill="#ff850a"/>
<rect x="425.15" y="109.19" width="13.15" height="6.27" fill="#ff7400"/>
<rect x="438.00" y="109.19" width="8.50" height="6.27" fill="#ff6c00"/>
<rect x="446.20" y="109.19" width="6.90" height="6.27" fill="#ff6400"/>
<rect x="452.80" y="109.19" width="6.85" height="6.27" fill="#ff6400"/>
<rect x="459.35" y="109.19" width="5.45" height="6.27" fill="#ff5800"/>
<rect x="464.50" y="109.19" width="3.80" height="6.27" fill="#ff5800"/>
<rect x="468.00" y="109.19" width="4.85" height="6.27" fill="#ff5800"/>
<rect x="472.55" y="109.19" width="6.50" height="6.27" fill="#f54800"/>
<rect x="478.75" y="109.19" width="6.85" height="6.27" fill="#ef4000"/>
<rect x="485.30" y="109.19" width="6.90" height="6.27" fill="#e33000"/>
<rect x="491.90" y="109.19" width="5.80" height="6.27" fill="#dd2800"/>
<rect x="497.40" y="109.19" width="3.95" height="6.27" fill="#d72000"/>
<rect x="501.05" y="109.19" width="4.65" height="6.27" fill="#d72000"/>
<rect x="505.40" y="109.19" width="6.50" height="6.27" fill="#d11800"/>
<rect x="511.60" y="109.19" width="13.70" height="6.27" fill="#d72000"/>
<rect x="330.00" y="115.16" width="11.95" height="6.27" fill="#ff7800"/>
<rect x="341.65" y="115.16" width="7.25" height="6.27" fill="#ff7800"/>
<rect x="348.60" y="115.16" width="6.90" height="6.27" fill="#ff7800"/>
<rect x="355.20" y="115.16" width="6.70" height="6.27" fill="#ff7800"/>
<rect x="361.60" y="115.16" width="6.70" height="6.27" fill="#ff7800"/>
<rect x="368.00" y="115.16" width="6.90" height="6.27" fill="#ff7800"/>
<rect x="374.60" y="115.16" width="6.80" height="6.27" fill="#ff7800"/>
<rect x="381.10" y="115.16" width="6.85" height="6.27" fill="#ff7800"/>
<rect x="387.65" y="115.16" width="8.55" height="6.27" fill="#ff7800"/>
<rect x="395.90" y="115.16" width="13.40" height="6.27" fill="#ff7000"/>
<rect x="409.00" y="115.16" width="16.45" height="6.27" fill="#ff7000"/>
<rect x="425.15" y="115.16" width="13.15" height="6.27" fill="#ff6400"/>
<rect x="438.00" y="115.16" width="8.50" height="6.27" fill="#ff5800"/>
<rect x="446.20" y="115.16" width="6.90" height="6.27" fill="#fb5000"/>
<rect x="452.80" y="115.16" width="6.85" height="6.27" fill="#fb5000"/>
<rect x="459.35" y="115.16" width="5.45" height="6.27" fill="#ef4000"/>
<rect x="464.50" y="115.16" width="3.80" height="6.27" fill="#ef4000"/>
<rect x="468.00" y="115.16" width="4.85" height="6.27" fill="#ef4000"/>
<rect x="472.55" y="115.16" width="6.50" height="6.27" fill="#e33000"/>
<rect x="478.75" y="115.16" width="6.85" height="6.27" fill="#d72000"/>
<rect x="485.30" y="115.16" width="6.90" height="6.27" fill="#cb1000"/>
<rect x="491.90" y="115.16" width="5.80" height="6.27" fill="#c50800"/>
<rect x="497.40" y="115.16" width="3.95" height="6.27" fill="#c00100"/>
<rect x="501.05" y="115.16" width="4.65" height="6.27" fill="#c00100"/>
<rect x="505.40" y="115.16" width="6.50" height="6.27" fill="#c00100"/>
<rect x="511.60" y="115.16" width="13.70" height="6.27" fill="#c50800"/>
<rect x="330.00" y="121.13" width="11.95" height="6.27" fill="#ff6600"/>
<rect x="341.65" y="121.13" width="7.25" height="6.27" fill="#ff6600"/>
<rect x="348.60" y="121.13" width="6.90" height="6.27" fill="#ff6600"/>
<rect x="355.20" y="121.13" width="6.70" height="6.27" fill="#ff6600"/>
<rect x="361.60" y="121.13" width="6.70" height="6.27" fill="#ff6600"/>
<rect x="368.00" y="121.13" width="6.90" height="6.27" fill="#ff6600"/>
<rect x="374.60" y="121.13" width="6.80" height="6.27" fill="#ff6600"/>
<rect x="381.10" y="121.13" width="6.85" height="6.27" fill="#ff6600"/>
<rect x="387.65" y="121.13" width="8.55" height="6.27" fill="#ff6600"/>
<rect x="395.90" y="121.13" width="13.40" height="6.27" fill="#ff5e00"/>
<rect x="409.00" y="121.13" width="16.45" height="6.27" fill="#ff5e00"/>
<rect x="425.15" y="121.13" width="13.15" height="6.27" fill="#fb5000"/>
<rect x="438.00" y="121.13" width="8.50" height="6.27" fill="#f54800"/>
<rect x="446.20" y="121.13" width="6.90" height="6.27" fill="#ef4000"/>
<rect x="452.80" y="121.13" width="6.85" height="6.27" fill="#ef4000"/>
<rect x="459.35" y="121.13" width="5.45" height="6.27" fill="#e33000"/>
<rect x="464.50" y="121.13" width="3.80" height="6.27" fill="#e33000"/>
<rect x="468.00" y="121.13" width="4.85" height="6.27" fill="#e33000"/>
<rect x="472.55" y="121.13" width="6.50" height="6.27" fill="#d72000"/>
<rect x="478.75" y="121.13" width="6.85" height="6.27" fill="#c50800"/>
<rect x="485.30" y="121.13" width="6.90" height="6.27" fill="#c00100"/>
<rect x="491.90" y="121.13" width="5.80" height="6.27" fill="#b00000"/>
<rect x="497.40" y="121.13" width="3.95" height="6.27" fill="#a80000"/>
<rect x="501.05" y="121.13" width="4.65" height="6.27" fill="#a80000"/>
<rect x="505.40" y="121.13" width="6.50" height="6.27" fill="#a80000"/>
<rect x="511.60" y="121.13" width="13.70" height="6.27" fill="#b00000"/>
<rect x="330.00" y="127.10" width="11.95" height="6.27" fill="#ff5700"/>
<rect x="341.65" y="127.10" width="7.25" height="6.27" fill="#ff5700"/>
<rect x="348.60" y="127.10" width="6.90" height="6.27" fill="#ff5700"/>
<rect x="355.20" y="127.10" width="6.70" height="6.27" fill="#ff5700"/>
<rect x="361.60" y="127.10" width="6.70" height="6.27" fill="#ff5700"/>
<rect x="368.00" y="127.10" width="6.90" height="6.27" fill="#ff5700"/>
<rect x="374.60" y="127.10" width="6.80" height="6.27" fill="#ff5700"/>
<rect x="381.10" y="127.10" width="6.85" height="6.27" fill="#ff5700"/>
<rect x="387.65" y="127.10" width="8.55" height="6.27" fill="#ff5700"/>
<rect x="395.90" y="127.10" width="13.40" height="6.27" fill="#fb4f00"/>
<rect x="409.00" y="127.10" width="16.45" height="6.27" fill="#fb4f00"/>
<rect x="425.15" y="127.10" width="13.15" height="6.27" fill="#ef4000"/>
<rect x="438.00" y="127.10" width="8.50" height="6.27" fill="#e93800"/>
<rect x="446.20" y="127.10" width="6.90" height="6.27" fill="#e33000"/>
<rect x="452.80" y="127.10" width="6.85" height="6.27" fill="#e33000"/>
<rect x="459.35" y="127.10" width="5.45" height="6.27" fill="#d72000"/>
<rect x="464.50" y="127.10" width="3.80" height="6.27" fill="#d72000"/>
<rect x="468.00" y="127.10" width="4.85" height="6.27" fill="#d72000"/>
<rect x="472.55" y="127.10" width="6.50" height="6.27" fill="#c50800"/>
<rect x="478.75" y="127.10" width="6.85" height="6.27" fill="#b80000"/>
<rect x="485.30" y="127.10" width="6.90" height="6.27" fill="#a80000"/>
<rect x="491.90" y="127.10" width="5.80" height="6.27" fill="#a00000"/>
<rect x="497.40" y="127.10" width="3.95" height="6.27" fill="#980000"/>
<rect x="501.05" y="127.10" width="4.65" height="6.27" fill="#980000"/>
<rect x="505.40" y="127.10" width="6.50" height="6.27" fill="#980000"/>
<rect x="511.60" y="127.10" width="13.70" height="6.27" fill="#a00000"/>
<rect x="330.00" y="133.07" width="11.95" height="6.27" fill="#f54700"/>
<rect x="341.65" y="133.07" width="7.25" height="6.27" fill="#f54700"/>
<rect x="348.60" y="133.07" width="6.90" height="6.27" fill="#f54700"/>
<rect x="355.20" y="133.07" width="6.70" height="6.27" fill="#f54700"/>
<rect x="361.60" y="133.07" width="6.70" height="6.27" fill="#f54700"/>
<rect x="368.00" y="133.07" width="6.90" height="6.27" fill="#f54700"/>
<rect x="374.60" y="133.07" width="6.80" height="6.27" fill="#f54700"/>
<rect x="381.10" y="133.07" width="6.85" height="6.27" fill="#f54700"/>
<rect x="387.65" y="133.07" width="8.55" height="6.27" fill="#f54700"/>
<rect x="395.90" y="133.07" width="13.40" height="6.27" fill="#ef4000"/>
<rect x="409.00" y="133.07" width="16.45" height="6.27" fill="#ef4000"/>
<rect x="425.15" y="133.07" width="13.15" height="6.27" fill="#e33000"/>
<rect x="438.00" y="133.07" width="8.50" height="6.27" fill="#dd2800"/>
<rect x="446.20" y="133.07" width="6.90" height="6.27" fill="#d72000"/>
<rect x="452.80" y="133.07" width="6.85" height="6.27" fill="#d72000"/>
<rect x="459.35" y="133.07" width="5.45" height="6.27" fill="#cb1000"/>
<rect x="464.50" y="133.07" width="3.80" height="6.27" fill="#cb1000"/>
<rect x="468.00" y="133.07" width="4.85" height="6.27" fill="#cb1000"/>
<rect x="472.55" y="133.07" width="6.50" height="6.27" fill="#c00100"/>
<rect x="478.75" y="133.07" width="6.85" height="6.27" fill="#b00000"/>
<rect x="485.30" y="133.07" width="6.90" height="6.27" fill="#a00000"/>
<rect x="491.90" y="133.07" width="5.80" height="6.27" fill="#980000"/>
<rect x="497.40" y="133.07" width="3.95" height="6.27" fill="#900000"/>
<rect x="501.05" y="133.07" width="4.65" height="6.27" fill="#900000"/>
<rect x="505.40" y="133.07" width="6.50" height="6.27" fill="#900000"/>
<rect x="511.60" y="133.07" width="13.70" height="6.27" fill="#980000"/>
<rect x="330.00" y="139.04" width="11.95" height="6.27" fill="#e53300"/>
<rect x="341.65" y="139.04" width="7.25" height="6.27" fill="#e53300"/>
<rect x="348.60" y="139.04" width="6.90" height="6.27" fill="#e53300"/>
<rect x="355.20" y="139.04" width="6.70" height="6.27" fill="#e53300"/>
<rect x="361.60" y="139.04" width="6.70" height="6.27" fill="#e53300"/>
<rect x="368.00" y="139.04" width="6.90" height="6.27" fill="#e53300"/>
<rect x="374.60" y="139.04" width="6.80" height="6.27" fill="#e53300"/>
<rect x="381.10" y="139.04" width="6.85" height="6.27" fill="#e53300"/>
<rect x="387.65" y="139.04" width="8.55" height="6.27" fill="#e53300"/>
<rect x="395.90" y="139.04" width="13.40" height="6.27" fill="#e43000"/>
<rect x="409.00" y="139.04" width="16.45" height="6.27" fill="#e43000"/>
<rect x="425.15" y="139.04" width="13.15" height="6.27" fill="#dd2800"/>
<rect x="438.00" y="139.04" width="8.50" height="6.27" fill="#d72000"/>
<rect x="446.20" y="139.04" width="6.90" height="6.27" fill="#d11800"/>
<rect x="452.80" y="139.04" width="6.85" height="6.27" fill="#d11800"/>
<rect x="459.35" y="139.04" width="5.45" height="6.27" fill="#c50800"/>
<rect x="464.50" y="139.04" width="3.80" height="6.27" fill="#c50800"/>
<rect x="468.00" y="139.04" width="4.85" height="6.27" fill="#c50800"/>
<rect x="472.55" y="139.04" width="6.50" height="6.27" fill="#b80000"/>
<rect x="478.75" y="139.04" width="6.85" height="6.27" fill="#b00000"/>
<rect x="485.30" y="139.04" width="6.90" height="6.27" fill="#a00000"/>
<rect x="491.90" y="139.04" width="5.80" height="6.27" fill="#980000"/>
<rect x="497.40" y="139.04" width="3.95" height="6.27" fill="#880000"/>
<rect x="501.05" y="139.04" width="4.65" height="6.27" fill="#880000"/>
<rect x="505.40" y="139.04" width="6.50" height="6.27" fill="#900000"/>
<rect x="511.60" y="139.04" width="13.70" height="6.27" fill="#a00000"/>
<rect x="330.00" y="145.01" width="11.95" height="6.27" fill="#e22e00"/>
<rect x="341.65" y="145.01" width="7.25" height="6.27" fill="#e22e00"/>
<rect x="348.60" y="145.01" width="6.90" height="6.27" fill="#e22e00"/>
<rect x="355.20" y="145.01" width="6.70" height="6.27" fill="#e22e00"/>
<rect x="361.60" y="145.01" width="6.70" height="6.27" fill="#e22e00"/>
<rect x="368.00" y="145.01" width="6.90" height="6.27" fill="#e22e00"/>
<rect x="374.60" y="145.01" width="6.80" height="6.27" fill="#e22e00"/>
<rect x="381.10" y="145.01" width="6.85" height="6.27" fill="#e22e00"/>
<rect x="387.65" y="145.01" width="8.55" height="6.27" fill="#e22e00"/>
<rect x="395.90" y="145.01" width="13.40" height="6.27" fill="#de2900"/>
<rect x="409.00" y="145.01" width="16.45" height="6.27" fill="#de2900"/>
<rect x="425.15" y="145.01" width="13.15" height="6.27" fill="#dd2800"/>
<rect x="438.00" y="145.01" width="8.50" height="6.27" fill="#d11800"/>
<rect x="446.20" y="145.01" width="6.90" height="6.27" fill="#cb1000"/>
<rect x="452.80" y="145.01" width="6.85" height="6.27" fill="#cb1000"/>
<rect x="459.35" y="145.01" width="5.45" height="6.27" fill="#c50800"/>
<rect x="464.50" y="145.01" width="3.80" height="6.27" fill="#c50800"/>
<rect x="468.00" y="145.01" width="4.85" height="6.27" fill="#c50800"/>
<rect x="472.55" y="145.01" width="6.50" height="6.27" fill="#b80000"/>
<rect x="478.75" y="145.01" width="6.85" height="6.27" fill="#b00000"/>
<rect x="485.30" y="145.01" width="6.90" height="6.27" fill="#a80000"/>
<rect x="491.90" y="145.01" width="5.80" height="6.27" fill="#a00000"/>
<rect x="497.40" y="145.01" width="3.95" height="6.27" fill="#a00000"/>
<rect x="501.05" y="145.01" width="4.65" height="6.27" fill="#a00000"/>
<rect x="505.40" y="145.01" width="6.50" height="6.27" fill="#a00000"/>
<rect x="511.60" y="145.01" width="13.70" height="6.27" fill="#a00000"/>
<rect x="330.00" y="150.98" width="11.95" height="6.27" fill="#d21900"/>
<rect x="341.65" y="150.98" width="7.25" height="6.27" fill="#da2400"/>
<rect x="348.60" y="150.98" width="6.90" height="6.27" fill="#da2400"/>
<rect x="355.20" y="150.98" width="6.70" height="6.27" fill="#da2400"/>
<rect x="361.60" y="150.98" width="6.70" height="6.27" fill="#da2400"/>
<rect x="368.00" y="150.98" width="6.90" height="6.27" fill="#da2400"/>
<rect x="374.60" y="150.98" width="6.80" height="6.27" fill="#da2400"/>
<rect x="381.10" y="150.98" width="6.85" height="6.27" fill="#da2400"/>
<rect x="387.65" y="150.98" width="8.55" height="6.27" fill="#da2400"/>
<rect x="395.90" y="150.98" width="13.40" height="6.27" fill="#da2400"/>
<rect x="409.00" y="150.98" width="16.45" height="6.27" fill="#da2400"/>
<rect x="425.15" y="150.98" width="13.15" height="6.27" fill="#d72000"/>
<rect x="438.00" y="150.98" width="8.50" height="6.27" fill="#cb1000"/>
<rect x="446.20" y="150.98" width="6.90" height="6.27" fill="#c50800"/>
<rect x="452.80" y="150.98" width="6.85" height="6.27" fill="#c50800"/>
<rect x="459.35" y="150.98" width="5.45" height="6.27" fill="#c00100"/>
<rect x="464.50" y="150.98" width="3.80" height="6.27" fill="#c00100"/>
<rect x="468.00" y="150.98" width="4.85" height="6.27" fill="#c00100"/>
<rect x="472.55" y="150.98" width="6.50" height="6.27" fill="#b00000"/>
<rect x="478.75" y="150.98" width="6.85" height="6.27" fill="#a80000"/>
<rect x="485.30" y="150.98" width="6.90" height="6.27" fill="#a00000"/>
<rect x="491.90" y="150.98" width="5.80" height="6.27" fill="#980000"/>
<rect x="497.40" y="150.98" width="3.95" height="6.27" fill="#980000"/>
<rect x="501.05" y="150.98" width="4.65" height="6.27" fill="#980000"/>
<rect x="505.40" y="150.98" width="6.50" height="6.27" fill="#980000"/>
<rect x="511.60" y="150.98" width="13.70" height="6.27" fill="#980000"/>
<rect x="330.00" y="156.95" width="11.95" height="6.27" fill="#bf0000"/>
<rect x="341.65" y="156.95" width="7.25" height="6.27" fill="#d61f00"/>
<rect x="348.60" y="156.95" width="6.90" height="6.27" fill="#d61f00"/>
<rect x="355.20" y="156.95" width="6.70" height="6.27" fill="#d61f00"/>
<rect x="361.60" y="156.95" width="6.70" height="6.27" fill="#d61f00"/>
<rect x="368.00" y="156.95" width="6.90" height="6.27" fill="#d61f00"/>
<rect x="374.60" y="156.95" width="6.80" height="6.27" fill="#d61f00"/>
<rect x="381.10" y="156.95" width="6.85" height="6.27" fill="#d61f00"/>
<rect x="387.65" y="156.95" width="8.55" height="6.27" fill="#d61f00"/>
<rect x="395.90" y="156.95" width="13.40" height="6.27" fill="#d82100"/>
<rect x="409.00" y="156.95" width="16.45" height="6.27" fill="#d82100"/>
<rect x="425.15" y="156.95" width="13.15" height="6.27" fill="#d11800"/>
<rect x="438.00" y="156.95" width="8.50" height="6.27" fill="#c50800"/>
<rect x="446.20" y="156.95" width="6.90" height="6.27" fill="#b80000"/>
<rect x="452.80" y="156.95" width="6.85" height="6.27" fill="#b80000"/>
<rect x="459.35" y="156.95" width="5.45" height="6.27" fill="#b80000"/>
<rect x="464.50" y="156.95" width="3.80" height="6.27" fill="#b80000"/>
<rect x="468.00" y="156.95" width="4.85" height="6.27" fill="#b80000"/>
<rect x="472.55" y="156.95" width="6.50" height="6.27" fill="#a80000"/>
<rect x="478.75" y="156.95" width="6.85" height="6.27" fill="#a00000"/>
<rect x="485.30" y="156.95" width="6.90" height="6.27" fill="#980000"/>
<rect x="491.90" y="156.95" width="5.80" height="6.27" fill="#900000"/>
<rect x="497.40" y="156.95" width="3.95" height="6.27" fill="#900000"/>
<rect x="501.05" y="156.95" width="4.65" height="6.27" fill="#900000"/>
<rect x="505.40" y="156.95" width="6.50" height="6.27" fill="#900000"/>
<rect x="511.60" y="156.95" width="13.70" height="6.27" fill="#900000"/>
<rect x="330.00" y="162.92" width="11.95" height="6.27" fill="#b00000"/>
<rect x="341.65" y="162.92" width="7.25" height="6.27" fill="#cb0f00"/>
<rect x="348.60" y="162.92" width="6.90" height="6.27" fill="#d21a00"/>
<rect x="355.20" y="162.92" width="6.70" height="6.27" fill="#d21a00"/>
<rect x="361.60" y="162.92" width="6.70" height="6.27" fill="#d21a00"/>
<rect x="368.00" y="162.92" width="6.90" height="6.27" fill="#d21a00"/>
<rect x="374.60" y="162.92" width="6.80" height="6.27" fill="#d21a00"/>
<rect x="381.10" y="162.92" width="6.85" height="6.27" fill="#d21a00"/>
<rect x="387.65" y="162.92" width="8.55" height="6.27" fill="#d21a00"/>
<rect x="395.90" y="162.92" width="13.40" height="6.27" fill="#d61f00"/>
<rect x="409.00" y="162.92" width="16.45" height="6.27" fill="#d61f00"/>
<rect x="425.15" y="162.92" width="13.15" height="6.27" fill="#cb1000"/>
<rect x="438.00" y="162.92" width="8.50" height="6.27" fill="#b80000"/>
<rect x="446.20" y="162.92" width="6.90" height="6.27" fill="#b00000"/>
<rect x="452.80" y="162.92" width="6.85" height="6.27" fill="#b00000"/>
<rect x="459.35" y="162.92" width="5.45" height="6.27" fill="#b00000"/>
<rect x="464.50" y="162.92" width="3.80" height="6.27" fill="#b00000"/>
<rect x="468.00" y="162.92" width="4.85" height="6.27" fill="#b00000"/>
<rect x="472.55" y="162.92" width="6.50" height="6.27" fill="#a00000"/>
<rect x="478.75" y="162.92" width="6.85" height="6.27" fill="#980000"/>
<rect x="485.30" y="162.92" width="6.90" height="6.27" fill="#900000"/>
<rect x="491.90" y="162.92" width="5.80" height="6.27" fill="#880000"/>
<rect x="497.40" y="162.92" width="3.95" height="6.27" fill="#880000"/>
<rect x="501.05" y="162.92" width="4.65" height="6.27" fill="#880000"/>
<rect x="505.40" y="162.92" width="6.50" height="6.27" fill="#880000"/>
<rect x="511.60" y="162.92" width="13.70" height="6.27" fill="#880000"/>
<rect x="330.00" y="168.89" width="11.95" height="6.27" fill="#a00000"/>
<rect x="341.65" y="168.89" width="7.25" height="6.27" fill="#b80000"/>
<rect x="348.60" y="168.89" width="6.90" height="6.27" fill="#c50800"/>
<rect x="355.20" y="168.89" width="6.70" height="6.27" fill="#c50800"/>
<rect x="361.60" y="168.89" width="6.70" height="6.27" fill="#c50800"/>
<rect x="368.00" y="168.89" width="6.90" height="6.27" fill="#c50800"/>
<rect x="374.60" y="168.89" width="6.80" height="6.27" fill="#c50800"/>
<rect x="381.10" y="168.89" width="6.85" height="6.27" fill="#c50800"/>
<rect x="387.65" y="168.89" width="8.55" height="6.27" fill="#c50800"/>
<rect x="395.90" y="168.89" width="13.40" height="6.27" fill="#c50800"/>
<rect x="409.00" y="168.89" width="16.45" height="6.27" fill="#c50800"/>
<rect x="425.15" y="168.89" width="13.15" height="6.27" fill="#c00100"/>
<rect x="438.00" y="168.89" width="8.50" height="6.27" fill="#a80000"/>
<rect x="446.20" y="168.89" width="6.90" height="6.27" fill="#a80000"/>
<rect x="452.80" y="168.89" width="6.85" height="6.27" fill="#a80000"/>
<rect x="459.35" y="168.89" width="5.45" height="6.27" fill="#a00000"/>
<rect x="464.50" y="168.89" width="3.80" height="6.27" fill="#a00000"/>
<rect x="468.00" y="168.89" width="4.85" height="6.27" fill="#a00000"/>
<rect x="472.55" y="168.89" width="6.50" height="6.27" fill="#980000"/>
<rect x="478.75" y="168.89" width="6.85" height="6.27" fill="#880000"/>
<rect x="485.30" y="168.89" width="6.90" height="6.27" fill="#800000"/>
<rect x="491.90" y="168.89" width="5.80" height="6.27" fill="#800000"/>
<rect x="497.40" y="168.89" width="3.95" height="6.27" fill="#800000"/>
<rect x="501.05" y="168.89" width="4.65" height="6.27" fill="#800000"/>
<rect x="505.40" y="168.89" width="6.50" height="6.27" fill="#800000"/>
<rect x="511.60" y="168.89" width="13.70" height="6.27" fill="#800000"/>
<rect x="330.00" y="174.86" width="11.95" height="6.27" fill="#800000"/>
<rect x="341.65" y="174.86" width="7.25" height="6.27" fill="#a00000"/>
<rect x="348.60" y="174.86" width="6.90" height="6.27" fill="#b00000"/>
<rect x="355.20" y="174.86" width="6.70" height="6.27" fill="#b00000"/>
<rect x="361.60" y="174.86" width="6.70" height="6.27" fill="#b00000"/>
<rect x="368.00" y="174.86" width="6.90" height="6.27" fill="#b00000"/>
<rect x="374.60" y="174.86" width="6.80" height="6.27" fill="#b00000"/>
<rect x="381.10" y="174.86" width="6.85" height="6.27" fill="#b00000"/>
<rect x="387.65" y="174.86" width="8.55" height="6.27" fill="#b00000"/>
<rect x="395.90" y="174.86" width="13.40" height="6.27" fill="#b00000"/>
<rect x="409.00" y="174.86" width="16.45" height="6.27" fill="#b00000"/>
<rect x="425.15" y="174.86" width="13.15" height="6.27" fill="#b00000"/>
<rect x="438.00" y="174.86" width="8.50" height="6.27" fill="#980000"/>
<rect x="446.20" y="174.86" width="6.90" height="6.27" fill="#980000"/>
<rect x="452.80" y="174.86" width="6.85" height="6.27" fill="#980000"/>
<rect x="459.35" y="174.86" width="5.45" height="6.27" fill="#900000"/>
<rect x="464.50" y="174.86" width="3.80" height="6.27" fill="#900000"/>
<rect x="468.00" y="174.86" width="4.85" height="6.27" fill="#900000"/>
<rect x="472.55" y="174.86" width="6.50" height="6.27" fill="#880000"/>
<rect x="478.75" y="174.86" width="6.85" height="6.27" fill="#700000"/>
<rect x="485.30" y="174.86" width="6.90" height="6.27" fill="#700000"/>
<rect x="491.90" y="174.86" width="5.80" height="6.27" fill="#700000"/>
<rect x="497.40" y="174.86" width="3.95" height="6.27" fill="#700000"/>
<rect x="501.05" y="174.86" width="4.65" height="6.27" fill="#700000"/>
<rect x="505.40" y="174.86" width="6.50" height="6.27" fill="#780000"/>
<rect x="511.60" y="174.86" width="13.70" height="6.27" fill="#780000"/>
<rect x="330.00" y="180.83" width="11.95" height="6.27" fill="#600000"/>
<rect x="341.65" y="180.83" width="7.25" height="6.27" fill="#880000"/>
<rect x="348.60" y="180.83" width="6.90" height="6.27" fill="#a00000"/>
<rect x="355.20" y="180.83" width="6.70" height="6.27" fill="#a00000"/>
<rect x="361.60" y="180.83" width="6.70" height="6.27" fill="#a00000"/>
<rect x="368.00" y="180.83" width="6.90" height="6.27" fill="#a00000"/>
<rect x="374.60" y="180.83" width="6.80" height="6.27" fill="#a00000"/>
<rect x="381.10" y="180.83" width="6.85" height="6.27" fill="#a00000"/>
<rect x="387.65" y="180.83" width="8.55" height="6.27" fill="#a00000"/>
<rect x="395.90" y="180.83" width="13.40" height="6.27" fill="#a00000"/>
<rect x="409.00" y="180.83" width="16.45" height="6.27" fill="#a00000"/>
<rect x="425.15" y="180.83" width="13.15" height="6.27" fill="#a00000"/>
<rect x="438.00" y="180.83" width="8.50" height="6.27" fill="#880000"/>
<rect x="446.20" y="180.83" width="6.90" height="6.27" fill="#800000"/>
<rect x="452.80" y="180.83" width="6.85" height="6.27" fill="#800000"/>
<rect x="459.35" y="180.83" width="5.45" height="6.27" fill="#800000"/>
<rect x="464.50" y="180.83" width="3.80" height="6.27" fill="#800000"/>
<rect x="468.00" y="180.83" width="4.85" height="6.27" fill="#800000"/>
<rect x="472.55" y="180.83" width="6.50" height="6.27" fill="#780000"/>
<rect x="478.75" y="180.83" width="6.85" height="6.27" fill="#500000"/>
<rect x="485.30" y="180.83" width="6.90" height="6.27" fill="#500000"/>
<rect x="491.90" y="180.83" width="5.80" height="6.27" fill="#600000"/>
<rect x="497.40" y="180.83" width="3.95" height="6.27" fill="#600000"/>
<rect x="501.05" y="180.83" width="4.65" height="6.27" fill="#600000"/>
<rect x="505.40" y="180.83" width="6.50" height="6.27" fill="#700000"/>
<rect x="511.60" y="180.83" width="13.70" height="6.27" fill="#700000"/>
<rect x="330.00" y="186.80" width="11.95" height="6.27" fill="#400000"/>
<rect x="341.65" y="186.80" width="7.25" height="6.27" fill="#700000"/>
<rect x="348.60" y="186.80" width="6.90" height="6.27" fill="#900000"/>
<rect x="355.20" y="186.80" width="6.70" height="6.27" fill="#900000"/>
<rect x="361.60" y="186.80" width="6.70" height="6.27" fill="#900000"/>
<rect x="368.00" y="186.80" width="6.90" height="6.27" fill="#900000"/>
<rect x="374.60" y="186.80" width="6.80" height="6.27" fill="#900000"/>
<rect x="381.10" y="186.80" width="6.85" height="6.27" fill="#900000"/>
<rect x="387.65" y="186.80" width="8.55" height="6.27" fill="#900000"/>
<rect x="395.90" y="186.80" width="13.40" height="6.27" fill="#900000"/>
<rect x="409.00" y="186.80" width="16.45" height="6.27" fill="#900000"/>
<rect x="425.15" y="186.80" width="13.15" height="6.27" fill="#980000"/>
<rect x="438.00" y="186.80" width="8.50" height="6.27" fill="#800000"/>
<rect x="446.20" y="186.80" width="6.90" height="6.27" fill="#780000"/>
<rect x="452.80" y="186.80" width="6.85" height="6.27" fill="#780000"/>
<rect x="459.35" y="186.80" width="5.45" height="6.27" fill="#700000"/>
<rect x="464.50" y="186.80" width="3.80" height="6.27" fill="#700000"/>
<rect x="468.00" y="186.80" width="4.85" height="6.27" fill="#700000"/>
<rect x="472.55" y="186.80" width="6.50" height="6.27" fill="#600000"/>
<rect x="478.75" y="186.80" width="6.85" height="6.27" fill="#300000"/>
<rect x="485.30" y="186.80" width="6.90" height="6.27" fill="#300000"/>
<rect x="491.90" y="186.80" width="5.80" height="6.27" fill="#500000"/>
<rect x="497.40" y="186.80" width="3.95" height="6.27" fill="#500000"/>
<rect x="501.05" y="186.80" width="4.65" height="6.27" fill="#500000"/>
<rect x="505.40" y="186.80" width="6.50" height="6.27" fill="#600000"/>
<rect x="511.60" y="186.80" width="13.70" height="6.27" fill="#700000"/>
<rect x="330.00" y="192.77" width="11.95" height="6.27" fill="#300000"/>
<rect x="341.65" y="192.77" width="7.25" height="6.27" fill="#600000"/>
<rect x="348.60" y="192.77" width="6.90" height="6.27" fill="#880000"/>
<rect x="355.20" y="192.77" width="6.70" height="6.27" fill="#880000"/>
<rect x="361.60" y="192.77" width="6.70" height="6.27" fill="#880000"/>
<rect x="368.00" y="192.77" width="6.90" height="6.27" fill="#880000"/>
<rect x="374.60" y="192.77" width="6.80" height="6.27" fill="#880000"/>
<rect x="381.10" y="192.77" width="6.85" height="6.27" fill="#880000"/>
<rect x="387.65" y="192.77" width="8.55" height="6.27" fill="#880000"/>
<rect x="395.90" y="192.77" width="13.40" height="6.27" fill="#880000"/>
<rect x="409.00" y="192.77" width="16.45" height="6.27" fill="#880000"/>
<rect x="425.15" y="192.77" width="13.15" height="6.27" fill="#980000"/>
<rect x="438.00" y="192.77" width="8.50" height="6.27" fill="#780000"/>
<rect x="446.20" y="192.77" width="6.90" height="6.27" fill="#700000"/>
<rect x="452.80" y="192.77" width="6.85" height="6.27" fill="#700000"/>
<rect x="459.35" y="192.77" width="5.45" height="6.27" fill="#700000"/>
<rect x="464.50" y="192.77" width="3.80" height="6.27" fill="#700000"/>
<rect x="468.00" y="192.77" width="4.85" height="6.27" fill="#700000"/>
<rect x="472.55" y="192.77" width="6.50" height="6.27" fill="#600000"/>
<rect x="478.75" y="192.77" width="6.85" height="6.27" fill="#200000"/>
<rect x="485.30" y="192.77" width="6.90" height="6.27" fill="#200000"/>
<rect x="491.90" y="192.77" width="5.80" height="6.27" fill="#400000"/>
<rect x="497.40" y="192.77" width="3.95" height="6.27" fill="#500000"/>
<rect x="501.05" y="192.77" width="4.65" height="6.27" fill="#500000"/>
<rect x="505.40" y="192.77" width="6.50" height="6.27" fill="#600000"/>
<rect x="511.60" y="192.77" width="13.70" height="6.27" fill="#700000"/>
<rect x="330.00" y="198.74" width="11.95" height="6.27" fill="#400000"/>
<rect x="341.65" y="198.74" width="7.25" height="6.27" fill="#700000"/>
<rect x="348.60" y="198.74" width="6.90" height="6.27" fill="#900000"/>
<rect x="355.20" y="198.74" width="6.70" height="6.27" fill="#900000"/>
<rect x="361.60" y="198.74" width="6.70" height="6.27" fill="#900000"/>
<rect x="368.00" y="198.74" width="6.90" height="6.27" fill="#900000"/>
<rect x="374.60" y="198.74" width="6.80" height="6.27" fill="#900000"/>
<rect x="381.10" y="198.74" width="6.85" height="6.27" fill="#900000"/>
<rect x="387.65" y="198.74" width="8.55" height="6.27" fill="#900000"/>
<rect x="395.90" y="198.74" width="13.40" height="6.27" fill="#900000"/>
<rect x="409.00" y="198.74" width="16.45" height="6.27" fill="#900000"/>
<rect x="425.15" y="198.74" width="13.15" height="6.27" fill="#a00000"/>
<rect x="438.00" y="198.74" width="8.50" height="6.27" fill="#800000"/>
<rect x="446.20" y="198.74" width="6.90" height="6.27" fill="#800000"/>
<rect x="452.80" y="198.74" width="6.85" height="6.27" fill="#800000"/>
<rect x="459.35" y="198.74" width="5.45" height="6.27" fill="#780000"/>
<rect x="464.50" y="198.74" width="3.80" height="6.27" fill="#780000"/>
<rect x="468.00" y="198.74" width="4.85" height="6.27" fill="#780000"/>
<rect x="472.55" y="198.74" width="6.50" height="6.27" fill="#700000"/>
<rect x="478.75" y="198.74" width="6.85" height="6.27" fill="#400000"/>
<rect x="485.30" y="198.74" width="6.90" height="6.27" fill="#400000"/>
<rect x="491.90" y="198.74" width="5.80" height="6.27" fill="#500000"/>
<rect x="497.40" y="198.74" width="3.95" height="6.27" fill="#600000"/>
<rect x="501.05" y="198.74" width="4.65" height="6.27" fill="#600000"/>
<rect x="505.40" y="198.74" width="6.50" height="6.27" fill="#700000"/>
<rect x="511.60" y="198.74" width="13.70" height="6.27" fill="#800000"/>
<rect x="330.00" y="204.71" width="11.95" height="6.27" fill="#600000"/>
<rect x="341.65" y="204.71" width="7.25" height="6.27" fill="#900000"/>
<rect x="348.60" y="204.71" width="6.90" height="6.27" fill="#a80000"/>
<rect x="355.20" y="204.71" width="6.70" height="6.27" fill="#a80000"/>
<rect x="361.60" y="204.71" width="6.70" height="6.27" fill="#a80000"/>
<rect x="368.00" y="204.71" width="6.90" height="6.27" fill="#a80000"/>
<rect x="374.60" y="204.71" width="6.80" height="6.27" fill="#a80000"/>
<rect x="381.10" y="204.71" width="6.85" height="6.27" fill="#a80000"/>
<rect x="387.65" y="204.71" width="8.55" height="6.27" fill="#a80000"/>
<rect x="395.90" y="204.71" width="13.40" height="6.27" fill="#a80000"/>
<rect x="409.00" y="204.71" width="16.45" height="6.27" fill="#a80000"/>
<rect x="425.15" y="204.71" width="13.15" height="6.27" fill="#b80000"/>
<rect x="438.00" y="204.71" width="8.50" height="6.27" fill="#a00000"/>
<rect x="446.20" y="204.71" width="6.90" height="6.27" fill="#a00000"/>
<rect x="452.80" y="204.71" width="6.85" height="6.27" fill="#a00000"/>
<rect x="459.35" y="204.71" width="5.45" height="6.27" fill="#980000"/>
<rect x="464.50" y="204.71" width="3.80" height="6.27" fill="#980000"/>
<rect x="468.00" y="204.71" width="4.85" height="6.27" fill="#980000"/>
<rect x="472.55" y="204.71" width="6.50" height="6.27" fill="#900000"/>
<rect x="478.75" y="204.71" width="6.85" height="6.27" fill="#700000"/>
<rect x="485.30" y="204.71" width="6.90" height="6.27" fill="#700000"/>
<rect x="491.90" y="204.71" width="5.80" height="6.27" fill="#800000"/>
<rect x="497.40" y="204.71" width="3.95" height="6.27" fill="#800000"/>
<rect x="501.05" y="204.71" width="4.65" height="6.27" fill="#800000"/>
<rect x="505.40" y="204.71" width="6.50" height="6.27" fill="#880000"/>
<rect x="511.60" y="204.71" width="13.70" height="6.27" fill="#900000"/>
<rect x="330.00" y="210.68" width="11.95" height="6.27" fill="#a00000"/>
<rect x="341.65" y="210.68" width="7.25" height="6.27" fill="#b80000"/>
<rect x="348.60" y="210.68" width="6.90" height="6.27" fill="#c50800"/>
<rect x="355.20" y="210.68" width="6.70" height="6.27" fill="#c50800"/>
<rect x="361.60" y="210.68" width="6.70" height="6.27" fill="#c50800"/>
<rect x="368.00" y="210.68" width="6.90" height="6.27" fill="#c50800"/>
<rect x="374.60" y="210.68" width="6.80" height="6.27" fill="#c50800"/>
<rect x="381.10" y="210.68" width="6.85" height="6.27" fill="#c50800"/>
<rect x="387.65" y="210.68" width="8.55" height="6.27" fill="#c50800"/>
<rect x="395.90" y="210.68" width="13.40" height="6.27" fill="#c50800"/>
<rect x="409.00" y="210.68" width="16.45" height="6.27" fill="#c50800"/>
<rect x="425.15" y="210.68" width="13.15" height="6.27" fill="#d11800"/>
<rect x="438.00" y="210.68" width="8.50" height="6.27" fill="#c50800"/>
<rect x="446.20" y="210.68" width="6.90" height="6.27" fill="#c00100"/>
<rect x="452.80" y="210.68" width="6.85" height="6.27" fill="#c00100"/>
<rect x="459.35" y="210.68" width="5.45" height="6.27" fill="#b80000"/>
<rect x="464.50" y="210.68" width="3.80" height="6.27" fill="#b80000"/>
<rect x="468.00" y="210.68" width="4.85" height="6.27" fill="#b80000"/>
<rect x="472.55" y="210.68" width="6.50" height="6.27" fill="#b00000"/>
<rect x="478.75" y="210.68" width="6.85" height="6.27" fill="#a00000"/>
<rect x="485.30" y="210.68" width="6.90" height="6.27" fill="#a00000"/>
<rect x="491.90" y="210.68" width="5.80" height="6.27" fill="#a80000"/>
<rect x="497.40" y="210.68" width="3.95" height="6.27" fill="#a80000"/>
<rect x="501.05" y="210.68" width="4.65" height="6.27" fill="#a80000"/>
<rect x="505.40" y="210.68" width="6.50" height="6.27" fill="#b00000"/>
<rect x="511.60" y="210.68" width="13.70" height="6.27" fill="#b80000"/>
<rect x="330.00" y="216.65" width="11.95" height="6.27" fill="#e33000"/>
<rect x="341.65" y="216.65" width="7.25" height="6.27" fill="#fb5000"/>
<rect x="348.60" y="216.65" width="6.90" height="6.27" fill="#ff5800"/>
<rect x="355.20" y="216.65" width="6.70" height="6.27" fill="#ff5800"/>
<rect x="361.60" y="216.65" width="6.70" height="6.27" fill="#ff5800"/>
<rect x="368.00" y="216.65" width="6.90" height="6.27" fill="#ff5800"/>
<rect x="374.60" y="216.65" width="6.80" height="6.27" fill="#ff5800"/>
<rect x="381.10" y="216.65" width="6.85" height="6.27" fill="#ff5800"/>
<rect x="387.65" y="216.65" width="8.55" height="6.27" fill="#ff5800"/>
<rect x="395.90" y="216.65" width="13.40" height="6.27" fill="#ff5800"/>
<rect x="409.00" y="216.65" width="16.45" height="6.27" fill="#ff5800"/>
<rect x="425.15" y="216.65" width="13.15" height="6.27" fill="#ff5800"/>
<rect x="438.00" y="216.65" width="8.50" height="6.27" fill="#fb5000"/>
<rect x="446.20" y="216.65" width="6.90" height="6.27" fill="#f54800"/>
<rect x="452.80" y="216.65" width="6.85" height="6.27" fill="#f54800"/>
<rect x="459.35" y="216.65" width="5.45" height="6.27" fill="#ef4000"/>
<rect x="464.50" y="216.65" width="3.80" height="6.27" fill="#ef4000"/>
<rect x="468.00" y="216.65" width="4.85" height="6.27" fill="#ef4000"/>
<rect x="472.55" y="216.65" width="6.50" height="6.27" fill="#e93800"/>
<rect x="478.75" y="216.65" width="6.85" height="6.27" fill="#dd2800"/>
<rect x="485.30" y="216.65" width="6.90" height="6.27" fill="#d72000"/>
<rect x="491.90" y="216.65" width="5.80" height="6.27" fill="#dd2800"/>
<rect x="497.40" y="216.65" width="3.95" height="6.27" fill="#e33000"/>
<rect x="501.05" y="216.65" width="4.65" height="6.27" fill="#e33000"/>
<rect x="505.40" y="216.65" width="6.50" height="6.27" fill="#e93800"/>
<rect x="511.60" y="216.65" width="13.70" height="6.27" fill="#ef4000"/>
<rect x="330.00" y="222.62" width="11.95" height="6.27" fill="#ff7800"/>
<rect x="341.65" y="222.62" width="7.25" height="6.27" fill="#ff8a14"/>
<rect x="348.60" y="222.62" width="6.90" height="6.27" fill="#ff9224"/>
<rect x="355.20" y="222.62" width="6.70" height="6.27" fill="#ff9224"/>
<rect x="361.60" y="222.62" width="6.70" height="6.27" fill="#ff9224"/>
<rect x="368.00" y="222.62" width="6.90" height="6.27" fill="#ff9224"/>
<rect x="374.60" y="222.62" width="6.80" height="6.27" fill="#ff9224"/>
<rect x="381.10" y="222.62" width="6.85" height="6.27" fill="#ff9224"/>
<rect x="387.65" y="222.62" width="8.55" height="6.27" fill="#ff9224"/>
<rect x="395.90" y="222.62" width="13.40" height="6.27" fill="#ff9224"/>
<rect x="409.00" y="222.62" width="16.45" height="6.27" fill="#ff9224"/>
<rect x="425.15" y="222.62" width="13.15" height="6.27" fill="#ff9224"/>
<rect x="438.00" y="222.62" width="8.50" height="6.27" fill="#ff8a14"/>
<rect x="446.20" y="222.62" width="6.90" height="6.27" fill="#ff860c"/>
<rect x="452.80" y="222.62" width="6.85" height="6.27" fill="#ff860c"/>
<rect x="459.35" y="222.62" width="5.45" height="6.27" fill="#ff8001"/>
<rect x="464.50" y="222.62" width="3.80" height="6.27" fill="#ff8001"/>
<rect x="468.00" y="222.62" width="4.85" height="6.27" fill="#ff8001"/>
<rect x="472.55" y="222.62" width="6.50" height="6.27" fill="#ff7800"/>
<rect x="478.75" y="222.62" width="6.85" height="6.27" fill="#ff7000"/>
<rect x="485.30" y="222.62" width="6.90" height="6.27" fill="#ff6800"/>
<rect x="491.90" y="222.62" width="5.80" height="6.27" fill="#ff7000"/>
<rect x="497.40" y="222.62" width="3.95" height="6.27" fill="#ff7800"/>
<rect x="501.05" y="222.62" width="4.65" height="6.27" fill="#ff7800"/>
<rect x="505.40" y="222.62" width="6.50" height="6.27" fill="#ff7800"/>
<rect x="511.60" y="222.62" width="13.70" height="6.27" fill="#ff7000"/>
<rect x="330.00" y="228.59" width="11.95" height="6.27" fill="#ffa850"/>
<rect x="341.65" y="228.59" width="7.25" height="6.27" fill="#ffb060"/>
<rect x="348.60" y="228.59" width="6.90" height="6.27" fill="#ffb871"/>
<rect x="355.20" y="228.59" width="6.70" height="6.27" fill="#ffb871"/>
<rect x="361.60" y="228.59" width="6.70" height="6.27" fill="#ffb871"/>
<rect x="368.00" y="228.59" width="6.90" height="6.27" fill="#ffb871"/>
<rect x="374.60" y="228.59" width="6.80" height="6.27" fill="#ffb871"/>
<rect x="381.10" y="228.59" width="6.85" height="6.27" fill="#ffb871"/>
<rect x="387.65" y="228.59" width="8.55" height="6.27" fill="#ffb871"/>
<rect x="395.90" y="228.59" width="13.40" height="6.27" fill="#ffb871"/>
<rect x="409.00" y="228.59" width="16.45" height="6.27" fill="#ffb871"/>
<rect x="425.15" y="228.59" width="13.15" height="6.27" fill="#ffb871"/>
<rect x="438.00" y="228.59" width="8.50" height="6.27" fill="#ffb469"/>
<rect x="446.20" y="228.59" width="6.90" height="6.27" fill="#ffb060"/>
<rect x="452.80" y="228.59" width="6.85" height="6.27" fill="#ffb060"/>
<rect x="459.35" y="228.59" width="5.45" height="6.27" fill="#ffac59"/>
<rect x="464.50" y="228.59" width="3.80" height="6.27" fill="#ffac59"/>
<rect x="468.00" y="228.59" width="4.85" height="6.27" fill="#ffac59"/>
<rect x="472.55" y="228.59" width="6.50" height="6.27" fill="#ffa850"/>
<rect x="478.75" y="228.59" width="6.85" height="6.27" fill="#ffa244"/>
<rect x="485.30" y="228.59" width="6.90" height="6.27" fill="#ffa244"/>
<rect x="491.90" y="228.59" width="5.80" height="6.27" fill="#ffa850"/>
<rect x="497.40" y="228.59" width="3.95" height="6.27" fill="#ffa850"/>
<rect x="501.05" y="228.59" width="4.65" height="6.27" fill="#ffa850"/>
<rect x="505.40" y="228.59" width="6.50" height="6.27" fill="#ffac59"/>
<rect x="511.60" y="228.59" width="13.70" height="6.27" fill="#ffa244"/>
<rect x="330.00" y="234.56" width="11.95" height="6.27" fill="#ffd0a0"/>
<rect x="341.65" y="234.56" width="7.25" height="6.27" fill="#ffd8b1"/>
<rect x="348.60" y="234.56" width="6.90" height="6.27" fill="#ffd8b1"/>
<rect x="355.20" y="234.56" width="6.70" height="6.27" fill="#ffd8b1"/>
<rect x="361.60" y="234.56" width="6.70" height="6.27" fill="#ffd8b1"/>
<rect x="368.00" y="234.56" width="6.90" height="6.27" fill="#ffd8b1"/>
<rect x="374.60" y="234.56" width="6.80" height="6.27" fill="#ffd8b1"/>
<rect x="381.10" y="234.56" width="6.85" height="6.27" fill="#ffd8b1"/>
<rect x="387.65" y="234.56" width="8.55" height="6.27" fill="#ffd8b1"/>
<rect x="395.90" y="234.56" width="13.40" height="6.27" fill="#ffd8b1"/>
<rect x="409.00" y="234.56" width="16.45" height="6.27" fill="#ffd8b1"/>
<rect x="425.15" y="234.56" width="13.15" height="6.27" fill="#ffd8b1"/>
<rect x="438.00" y="234.56" width="8.50" height="6.27" fill="#ffd8b1"/>
<rect x="446.20" y="234.56" width="6.90" height="6.27" fill="#ffd8b1"/>
<rect x="452.80" y="234.56" width="6.85" height="6.27" fill="#ffd8b1"/>
<rect x="459.35" y="234.56" width="5.45" height="6.27" fill="#ffd8b1"/>
<rect x="464.50" y="234.56" width="3.80" height="6.27" fill="#ffd8b1"/>
<rect x="468.00" y="234.56" width="4.85" height="6.27" fill="#ffd8b1"/>
<rect x="472.55" y="234.56" width="6.50" height="6.27" fill="#ffd8b1"/>
<rect x="478.75" y="234.56" width="6.85" height="6.27" fill="#ffd0a0"/>
<rect x="485.30" y="234.56" width="6.90" height="6.27" fill="#ffd0a0"/>
<rect x="491.90" y="234.56" width="5.80" height="6.27" fill="#ffd4a9"/>
<rect x="497.40" y="234.56" width="3.95" height="6.27" fill="#ffd4a9"/>
<rect x="501.05" y="234.56" width="4.65" height="6.27" fill="#ffd4a9"/>
<rect x="505.40" y="234.56" width="6.50" height="6.27" fill="#ffd4a9"/>
<rect x="511.60" y="234.56" width="13.70" height="6.27" fill="#ffd0a0"/>
<rect x="330.00" y="240.53" width="11.95" height="6.27" fill="#ffe0c0"/>
<rect x="341.65" y="240.53" width="7.25" height="6.27" fill="#ffe8d0"/>
<rect x="348.60" y="240.53" width="6.90" height="6.27" fill="#ffe8d0"/>
<rect x="355.20" y="240.53" width="6.70" height="6.27" fill="#ffe8d0"/>
<rect x="361.60" y="240.53" width="6.70" height="6.27" fill="#ffe8d0"/>
<rect x="368.00" y="240.53" width="6.90" height="6.27" fill="#ffe8d0"/>
<rect x="374.60" y="240.53" width="6.80" height="6.27" fill="#ffe8d0"/>
<rect x="381.10" y="240.53" width="6.85" height="6.27" fill="#ffe8d0"/>
<rect x="387.65" y="240.53" width="8.55" height="6.27" fill="#ffe8d0"/>
<rect x="395.90" y="240.53" width="13.40" height="6.27" fill="#ffe8d0"/>
<rect x="409.00" y="240.53" width="16.45" height="6.27" fill="#ffe8d0"/>
<rect x="425.15" y="240.53" width="13.15" height="6.27" fill="#ffe8d0"/>
<rect x="438.00" y="240.53" width="8.50" height="6.27" fill="#ffe8d0"/>
<rect x="446.20" y="240.53" width="6.90" height="6.27" fill="#ffe8d0"/>
<rect x="452.80" y="240.53" width="6.85" height="6.27" fill="#ffe8d0"/>
<rect x="459.35" y="240.53" width="5.45" height="6.27" fill="#ffe8d0"/>
<rect x="464.50" y="240.53" width="3.80" height="6.27" fill="#ffe8d0"/>
<rect x="468.00" y="240.53" width="4.85" height="6.27" fill="#ffe8d0"/>
<rect x="472.55" y="240.53" width="6.50" height="6.27" fill="#ffe8d0"/>
<rect x="478.75" y="240.53" width="6.85" height="6.27" fill="#ffe8d0"/>
<rect x="485.30" y="240.53" width="6.90" height="6.27" fill="#ffe8d0"/>
<rect x="491.90" y="240.53" width="5.80" height="6.27" fill="#ffe8d0"/>
<rect x="497.40" y="240.53" width="3.95" height="6.27" fill="#ffe8d0"/>
<rect x="501.05" y="240.53" width="4.65" height="6.27" fill="#ffe8d0"/>
<rect x="505.40" y="240.53" width="6.50" height="6.27" fill="#ffe8d0"/>
<rect x="511.60" y="240.53" width="13.70" height="6.27" fill="#ffe4c8"/>
<rect x="330.00" y="246.50" width="11.95" height="6.27" fill="#ffe8d0"/>
<rect x="341.65" y="246.50" width="7.25" height="6.27" fill="#fff0e0"/>
<rect x="348.60" y="246.50" width="6.90" height="6.27" fill="#fff2e4"/>
<rect x="355.20" y="246.50" width="6.70" height="6.27" fill="#fff2e4"/>
<rect x="361.60" y="246.50" width="6.70" height="6.27" fill="#fff2e4"/>
<rect x="368.00" y="246.50" width="6.90" height="6.27" fill="#fff2e4"/>
<rect x="374.60" y="246.50" width="6.80" height="6.27" fill="#fff2e4"/>
<rect x="381.10" y="246.50" width="6.85" height="6.27" fill="#fff2e4"/>
<rect x="387.65" y="246.50" width="8.55" height="6.27" fill="#fff2e4"/>
<rect x="395.90" y="246.50" width="13.40" height="6.27" fill="#fff2e4"/>
<rect x="409.00" y="246.50" width="16.45" height="6.27" fill="#fff2e4"/>
<rect x="425.15" y="246.50" width="13.15" height="6.27" fill="#fff2e4"/>
<rect x="438.00" y="246.50" width="8.50" height="6.27" fill="#fff2e4"/>
<rect x="446.20" y="246.50" width="6.90" height="6.27" fill="#fff2e4"/>
<rect x="452.80" y="246.50" width="6.85" height="6.27" fill="#fff2e4"/>
<rect x="459.35" y="246.50" width="5.45" height="6.27" fill="#fff2e4"/>
<rect x="464.50" y="246.50" width="3.80" height="6.27" fill="#fff2e4"/>
<rect x="468.00" y="246.50" width="4.85" height="6.27" fill="#fff2e4"/>
<rect x="472.55" y="246.50" width="6.50" height="6.27" fill="#fff2e4"/>
<rect x="478.75" y="246.50" width="6.85" height="6.27" fill="#fff2e4"/>
<rect x="485.30" y="246.50" width="6.90" height="6.27" fill="#fff2e4"/>
<rect x="491.90" y="246.50" width="5.80" height="6.27" fill="#fff2e4"/>
<rect x="497.40" y="246.50" width="3.95" height="6.27" fill="#fff2e4"/>
<rect x="501.05" y="246.50" width="4.65" height="6.27" fill="#fff2e4"/>
<rect x="505.40" y="246.50" width="6.50" height="6.27" fill="#fff2e4"/>
<rect x="511.60" y="246.50" width="13.70" height="6.27" fill="#fff2e4"/>
<rect x="330.00" y="252.47" width="11.95" height="6.27" fill="#fff0e0"/>
<rect x="341.65" y="252.47" width="7.25" height="6.27" fill="#fff6ed"/>
<rect x="348.60" y="252.47" width="6.90" height="6.27" fill="#fff6ed"/>
<rect x="355.20" y="252.47" width="6.70" height="6.27" fill="#fff6ed"/>
<rect x="361.60" y="252.47" width="6.70" height="6.27" fill="#fff6ed"/>
<rect x="368.00" y="252.47" width="6.90" height="6.27" fill="#fff6ed"/>
<rect x="374.60" y="252.47" width="6.80" height="6.27" fill="#fff6ed"/>
<rect x="381.10" y="252.47" width="6.85" height="6.27" fill="#fff6ed"/>
<rect x="387.65" y="252.47" width="8.55" height="6.27" fill="#fff6ed"/>
<rect x="395.90" y="252.47" width="13.40" height="6.27" fill="#fff6ed"/>
<rect x="409.00" y="252.47" width="16.45" height="6.27" fill="#fff6ed"/>
<rect x="425.15" y="252.47" width="13.15" height="6.27" fill="#fff6ed"/>
<rect x="438.00" y="252.47" width="8.50" height="6.27" fill="#fff6ed"/>
<rect x="446.20" y="252.47" width="6.90" height="6.27" fill="#fff6ed"/>
<rect x="452.80" y="252.47" width="6.85" height="6.27" fill="#fff6ed"/>
<rect x="459.35" y="252.47" width="5.45" height="6.27" fill="#fff6ed"/>
<rect x="464.50" y="252.47" width="3.80" height="6.27" fill="#fff6ed"/>
<rect x="468.00" y="252.47" width="4.85" height="6.27" fill="#fff6ed"/>
<rect x="472.55" y="252.47" width="6.50" height="6.27" fill="#fff6ed"/>
<rect x="478.75" y="252.47" width="6.85" height="6.27" fill="#fff6ed"/>
<rect x="485.30" y="252.47" width="6.90" height="6.27" fill="#fff6ed"/>
<rect x="491.90" y="252.47" width="5.80" height="6.27" fill="#fff6ed"/>
<rect x="497.40" y="252.47" width="3.95" height="6.27" fill="#fff6ed"/>
<rect x="501.05" y="252.47" width="4.65" height="6.27" fill="#fff6ed"/>
<rect x="505.40" y="252.47" width="6.50" height="6.27" fill="#fff6ed"/>
<rect x="511.60" y="252.47" width="13.70" height="6.27" fill="#fff6ed"/>
<rect x="330.00" y="258.44" width="11.95" height="6.27" fill="#fff0e0"/>
<rect x="341.65" y="258.44" width="7.25" height="6.27" fill="#fff6ed"/>
<rect x="348.60" y="258.44" width="6.90" height="6.27" fill="#fff6ed"/>
<rect x="355.20" y="258.44" width="6.70" height="6.27" fill="#fff6ed"/>
<rect x="361.60" y="258.44" width="6.70" height="6.27" fill="#fff6ed"/>
<rect x="368.00" y="258.44" width="6.90" height="6.27" fill="#fff6ed"/>
<rect x="374.60" y="258.44" width="6.80" height="6.27" fill="#fff6ed"/>
<rect x="381.10" y="258.44" width="6.85" height="6.27" fill="#fff6ed"/>
<rect x="387.65" y="258.44" width="8.55" height="6.27" fill="#fff6ed"/>
<rect x="395.90" y="258.44" width="13.40" height="6.27" fill="#fff6ed"/>
<rect x="409.00" y="258.44" width="16.45" height="6.27" fill="#fff6ed"/>
<rect x="425.15" y="258.44" width="13.15" height="6.27" fill="#fff6ed"/>
<rect x="438.00" y="258.44" width="8.50" height="6.27" fill="#fff6ed"/>
<rect x="446.20" y="258.44" width="6.90" height="6.27" fill="#fff6ed"/>
<rect x="452.80" y="258.44" width="6.85" height="6.27" fill="#fff6ed"/>
<rect x="459.35" y="258.44" width="5.45" height="6.27" fill="#fff6ed"/>
<rect x="464.50" y="258.44" width="3.80" height="6.27" fill="#fff6ed"/>
<rect x="468.00" y="258.44" width="4.85" height="6.27" fill="#fff6ed"/>
<rect x="472.55" y="258.44" width="6.50" height="6.27" fill="#fff6ed"/>
<rect x="478.75" y="258.44" width="6.85" height="6.27" fill="#fff6ed"/>
<rect x="485.30" y="258.44" width="6.90" height="6.27" fill="#fff6ed"/>
<rect x="491.90" y="258.44" width="5.80" height="6.27" fill="#fff6ed"/>
<rect x="497.40" y="258.44" width="3.95" height="6.27" fill="#fff6ed"/>
<rect x="501.05" y="258.44" width="4.65" height="6.27" fill="#fff6ed"/>
<rect x="505.40" y="258.44" width="6.50" height="6.27" fill="#fff6ed"/>
<rect x="511.60" y="258.44" width="13.70" height="6.27" fill="#fff6ed"/>
</g>
<g clip-path="url(#ctc)" shape-rendering="crispEdges">
<rect x="515.00" y="7.20" width="21.20" height="6.30" fill="#ffbd7a"/>
<rect x="535.90" y="7.20" width="20.10" height="6.30" fill="#ffad5c"/>
<rect x="555.70" y="7.20" width="20.10" height="6.30" fill="#ffa64c"/>
<rect x="575.50" y="7.20" width="20.10" height="6.30" fill="#ffa142"/>
<rect x="595.30" y="7.20" width="20.10" height="6.30" fill="#ff9933"/>
<rect x="615.10" y="7.20" width="20.10" height="6.30" fill="#ff9429"/>
<rect x="634.90" y="7.20" width="20.10" height="6.30" fill="#ff8c1a"/>
<rect x="654.70" y="7.20" width="20.10" height="6.30" fill="#ff8000"/>
<rect x="674.50" y="7.20" width="25.80" height="6.30" fill="#ff7000"/>
<rect x="515.00" y="13.20" width="21.20" height="6.30" fill="#ffbb76"/>
<rect x="535.90" y="13.20" width="20.10" height="6.30" fill="#ffac59"/>
<rect x="555.70" y="13.20" width="20.10" height="6.30" fill="#ffa54a"/>
<rect x="575.50" y="13.20" width="20.10" height="6.30" fill="#ffa040"/>
<rect x="595.30" y="13.20" width="20.10" height="6.30" fill="#ff9832"/>
<rect x="615.10" y="13.20" width="20.10" height="6.30" fill="#ff9327"/>
<rect x="634.90" y="13.20" width="20.10" height="6.30" fill="#ff8b17"/>
<rect x="654.70" y="13.20" width="20.10" height="6.30" fill="#ff7e00"/>
<rect x="674.50" y="13.20" width="25.80" height="6.30" fill="#ff6f00"/>
<rect x="515.00" y="19.20" width="21.20" height="6.30" fill="#ffb872"/>
<rect x="535.90" y="19.20" width="20.10" height="6.30" fill="#ffaa56"/>
<rect x="555.70" y="19.20" width="20.10" height="6.30" fill="#ffa448"/>
<rect x="575.50" y="19.20" width="20.10" height="6.30" fill="#ff9e3e"/>
<rect x="595.30" y="19.20" width="20.10" height="6.30" fill="#ff9830"/>
<rect x="615.10" y="19.20" width="20.10" height="6.30" fill="#ff9224"/>
<rect x="634.90" y="19.20" width="20.10" height="6.30" fill="#ff8914"/>
<rect x="654.70" y="19.20" width="20.10" height="6.30" fill="#ff7d00"/>
<rect x="674.50" y="19.20" width="25.80" height="6.30" fill="#ff6d00"/>
<rect x="515.00" y="25.20" width="21.20" height="6.30" fill="#ffb66d"/>
<rect x="535.90" y="25.20" width="20.10" height="6.30" fill="#ffa953"/>
<rect x="555.70" y="25.20" width="20.10" height="6.30" fill="#ffa246"/>
<rect x="575.50" y="25.20" width="20.10" height="6.30" fill="#ff9d3c"/>
<rect x="595.30" y="25.20" width="20.10" height="6.30" fill="#ff972f"/>
<rect x="615.10" y="25.20" width="20.10" height="6.30" fill="#ff9122"/>
<rect x="634.90" y="25.20" width="20.10" height="6.30" fill="#ff8811"/>
<rect x="654.70" y="25.20" width="20.10" height="6.30" fill="#ff7b00"/>
<rect x="674.50" y="25.20" width="25.80" height="6.30" fill="#ff6c00"/>
<rect x="515.00" y="31.20" width="21.20" height="6.30" fill="#ffb469"/>
<rect x="535.90" y="31.20" width="20.10" height="6.30" fill="#ffa850"/>
<rect x="555.70" y="31.20" width="20.10" height="6.30" fill="#ffa144"/>
<rect x="575.50" y="31.20" width="20.10" height="6.30" fill="#ff9c3a"/>
<rect x="595.30" y="31.20" width="20.10" height="6.30" fill="#ff962d"/>
<rect x="615.10" y="31.20" width="20.10" height="6.30" fill="#ff9020"/>
<rect x="634.90" y="31.20" width="20.10" height="6.30" fill="#ff860e"/>
<rect x="654.70" y="31.20" width="20.10" height="6.30" fill="#ff7a00"/>
<rect x="674.50" y="31.20" width="25.80" height="6.30" fill="#ff6a00"/>
<rect x="515.00" y="37.20" width="21.20" height="6.30" fill="#ffb265"/>
<rect x="535.90" y="37.20" width="20.10" height="6.30" fill="#ffa64d"/>
<rect x="555.70" y="37.20" width="20.10" height="6.30" fill="#ffa042"/>
<rect x="575.50" y="37.20" width="20.10" height="6.30" fill="#ff9b37"/>
<rect x="595.30" y="37.20" width="20.10" height="6.30" fill="#ff952c"/>
<rect x="615.10" y="37.20" width="20.10" height="6.30" fill="#ff8e1e"/>
<rect x="634.90" y="37.20" width="20.10" height="6.30" fill="#ff850b"/>
<rect x="654.70" y="37.20" width="20.10" height="6.30" fill="#ff7800"/>
<rect x="674.50" y="37.20" width="25.80" height="6.30" fill="#ff6900"/>
<rect x="515.00" y="43.20" width="21.20" height="6.30" fill="#ffb060"/>
<rect x="535.90" y="43.20" width="20.10" height="6.30" fill="#ffa54a"/>
<rect x="555.70" y="43.20" width="20.10" height="6.30" fill="#ff9f3f"/>
<rect x="575.50" y="43.20" width="20.10" height="6.30" fill="#ff9a35"/>
<rect x="595.30" y="43.20" width="20.10" height="6.30" fill="#ff952a"/>
<rect x="615.10" y="43.20" width="20.10" height="6.30" fill="#ff8d1c"/>
<rect x="634.90" y="43.20" width="20.10" height="6.30" fill="#ff8408"/>
<rect x="654.70" y="43.20" width="20.10" height="6.30" fill="#ff7700"/>
<rect x="674.50" y="43.20" width="25.80" height="6.30" fill="#ff6700"/>
<rect x="515.00" y="49.20" width="21.20" height="6.30" fill="#ffad5c"/>
<rect x="535.90" y="49.20" width="20.10" height="6.30" fill="#ffa347"/>
<rect x="555.70" y="49.20" width="20.10" height="6.30" fill="#ff9e3d"/>
<rect x="575.50" y="49.20" width="20.10" height="6.30" fill="#ff9933"/>
<rect x="595.30" y="49.20" width="20.10" height="6.30" fill="#ff9429"/>
<rect x="615.10" y="49.20" width="20.10" height="6.30" fill="#ff8c1a"/>
<rect x="634.90" y="49.20" width="20.10" height="6.30" fill="#ff8205"/>
<rect x="654.70" y="49.20" width="20.10" height="6.30" fill="#ff7500"/>
<rect x="674.50" y="49.20" width="25.80" height="6.30" fill="#ff6600"/>
<rect x="515.00" y="55.20" width="21.20" height="6.30" fill="#ffab57"/>
<rect x="535.90" y="55.20" width="20.10" height="6.30" fill="#ffa041"/>
<rect x="555.70" y="55.20" width="20.10" height="6.30" fill="#ff9b36"/>
<rect x="575.50" y="55.20" width="20.10" height="6.30" fill="#ff952b"/>
<rect x="595.30" y="55.20" width="20.10" height="6.30" fill="#ff9020"/>
<rect x="615.10" y="55.20" width="20.10" height="6.30" fill="#ff8810"/>
<rect x="634.90" y="55.20" width="20.10" height="6.30" fill="#ff7d00"/>
<rect x="654.70" y="55.20" width="20.10" height="6.30" fill="#ff6f00"/>
<rect x="674.50" y="55.20" width="25.80" height="6.30" fill="#ff5e00"/>
<rect x="515.00" y="61.20" width="21.20" height="6.30" fill="#ffa852"/>
<rect x="535.90" y="61.20" width="20.10" height="6.30" fill="#ff9d3c"/>
<rect x="555.70" y="61.20" width="20.10" height="6.30" fill="#ff9730"/>
<rect x="575.50" y="61.20" width="20.10" height="6.30" fill="#ff9124"/>
<rect x="595.30" y="61.20" width="20.10" height="6.30" fill="#ff8b18"/>
<rect x="615.10" y="61.20" width="20.10" height="6.30" fill="#ff8307"/>
<rect x="634.90" y="61.20" width="20.10" height="6.30" fill="#ff7700"/>
<rect x="654.70" y="61.20" width="20.10" height="6.30" fill="#ff6900"/>
<rect x="674.50" y="61.20" width="25.80" height="6.30" fill="#ff5700"/>
<rect x="515.00" y="67.20" width="21.20" height="6.30" fill="#ffa64c"/>
<rect x="535.90" y="67.20" width="20.10" height="6.30" fill="#ff9a36"/>
<rect x="555.70" y="67.20" width="20.10" height="6.30" fill="#ff9429"/>
<rect x="575.50" y="67.20" width="20.10" height="6.30" fill="#ff8e1c"/>
<rect x="595.30" y="67.20" width="20.10" height="6.30" fill="#ff870f"/>
<rect x="615.10" y="67.20" width="20.10" height="6.30" fill="#ff7e00"/>
<rect x="634.90" y="67.20" width="20.10" height="6.30" fill="#ff7100"/>
<rect x="654.70" y="67.20" width="20.10" height="6.30" fill="#ff6300"/>
<rect x="674.50" y="67.20" width="25.80" height="6.30" fill="#fb4f00"/>
<rect x="515.00" y="73.20" width="21.20" height="6.30" fill="#ffa347"/>
<rect x="535.90" y="73.20" width="20.10" height="6.30" fill="#ff9730"/>
<rect x="555.70" y="73.20" width="20.10" height="6.30" fill="#ff9122"/>
<rect x="575.50" y="73.20" width="20.10" height="6.30" fill="#ff8a14"/>
<rect x="595.30" y="73.20" width="20.10" height="6.30" fill="#ff8307"/>
<rect x="615.10" y="73.20" width="20.10" height="6.30" fill="#ff7a00"/>
<rect x="634.90" y="73.20" width="20.10" height="6.30" fill="#ff6c00"/>
<rect x="654.70" y="73.20" width="20.10" height="6.30" fill="#ff5e00"/>
<rect x="674.50" y="73.20" width="25.80" height="6.30" fill="#f54700"/>
<rect x="515.00" y="79.20" width="21.20" height="6.30" fill="#ffa142"/>
<rect x="535.90" y="79.20" width="20.10" height="6.30" fill="#ff942a"/>
<rect x="555.70" y="79.20" width="20.10" height="6.30" fill="#ff8d1b"/>
<rect x="575.50" y="79.20" width="20.10" height="6.30" fill="#ff860d"/>
<rect x="595.30" y="79.20" width="20.10" height="6.30" fill="#ff7f00"/>
<rect x="615.10" y="79.20" width="20.10" height="6.30" fill="#ff7500"/>
<rect x="634.90" y="79.20" width="20.10" height="6.30" fill="#ff6600"/>
<rect x="654.70" y="79.20" width="20.10" height="6.30" fill="#ff5800"/>
<rect x="674.50" y="79.20" width="25.80" height="6.30" fill="#ef4000"/>
<rect x="515.00" y="85.20" width="21.20" height="6.30" fill="#ff9e3d"/>
<rect x="535.90" y="85.20" width="20.10" height="6.30" fill="#ff9124"/>
<rect x="555.70" y="85.20" width="20.10" height="6.30" fill="#ff8a14"/>
<rect x="575.50" y="85.20" width="20.10" height="6.30" fill="#ff8205"/>
<rect x="595.30" y="85.20" width="20.10" height="6.30" fill="#ff7a00"/>
<rect x="615.10" y="85.20" width="20.10" height="6.30" fill="#ff7000"/>
<rect x="634.90" y="85.20" width="20.10" height="6.30" fill="#ff6100"/>
<rect x="654.70" y="85.20" width="20.10" height="6.30" fill="#fc5200"/>
<rect x="674.50" y="85.20" width="25.80" height="6.30" fill="#e93800"/>
<rect x="515.00" y="91.20" width="21.20" height="6.30" fill="#ff952c"/>
<rect x="535.90" y="91.20" width="20.10" height="6.30" fill="#ff8000"/>
<rect x="555.70" y="91.20" width="20.10" height="6.30" fill="#ff7800"/>
<rect x="575.50" y="91.20" width="20.10" height="6.30" fill="#ff7000"/>
<rect x="595.30" y="91.20" width="20.10" height="6.30" fill="#ff6800"/>
<rect x="615.10" y="91.20" width="20.10" height="6.30" fill="#ff6000"/>
<rect x="634.90" y="91.20" width="20.10" height="6.30" fill="#fb5000"/>
<rect x="654.70" y="91.20" width="20.10" height="6.30" fill="#f54800"/>
<rect x="674.50" y="91.20" width="25.80" height="6.30" fill="#e33000"/>
<rect x="515.00" y="97.20" width="21.20" height="6.30" fill="#ff8b18"/>
<rect x="535.90" y="97.20" width="20.10" height="6.30" fill="#ff7400"/>
<rect x="555.70" y="97.20" width="20.10" height="6.30" fill="#ff6c00"/>
<rect x="575.50" y="97.20" width="20.10" height="6.30" fill="#ff6000"/>
<rect x="595.30" y="97.20" width="20.10" height="6.30" fill="#ff5800"/>
<rect x="615.10" y="97.20" width="20.10" height="6.30" fill="#fb5000"/>
<rect x="634.90" y="97.20" width="20.10" height="6.30" fill="#f54800"/>
<rect x="654.70" y="97.20" width="20.10" height="6.30" fill="#e33000"/>
<rect x="674.50" y="97.20" width="25.80" height="6.30" fill="#d11800"/>
<rect x="515.00" y="103.20" width="21.20" height="6.30" fill="#ff7a00"/>
<rect x="535.90" y="103.20" width="20.10" height="6.30" fill="#ff6600"/>
<rect x="555.70" y="103.20" width="20.10" height="6.30" fill="#ff5600"/>
<rect x="575.50" y="103.20" width="20.10" height="6.30" fill="#fa4e00"/>
<rect x="595.30" y="103.20" width="20.10" height="6.30" fill="#f44600"/>
<rect x="615.10" y="103.20" width="20.10" height="6.30" fill="#ee3e00"/>
<rect x="634.90" y="103.20" width="20.10" height="6.30" fill="#e22e00"/>
<rect x="654.70" y="103.20" width="20.10" height="6.30" fill="#d01600"/>
<rect x="674.50" y="103.20" width="25.80" height="6.30" fill="#ad0000"/>
<rect x="515.00" y="109.20" width="21.20" height="6.30" fill="#ff6d00"/>
<rect x="535.90" y="109.20" width="20.10" height="6.30" fill="#ff5500"/>
<rect x="555.70" y="109.20" width="20.10" height="6.30" fill="#f34500"/>
<rect x="575.50" y="109.20" width="20.10" height="6.30" fill="#ed3d00"/>
<rect x="595.30" y="109.20" width="20.10" height="6.30" fill="#e73500"/>
<rect x="615.10" y="109.20" width="20.10" height="6.30" fill="#e12d00"/>
<rect x="634.90" y="109.20" width="20.10" height="6.30" fill="#cf1500"/>
<rect x="654.70" y="109.20" width="20.10" height="6.30" fill="#b40000"/>
<rect x="674.50" y="109.20" width="25.80" height="6.30" fill="#840000"/>
<rect x="515.00" y="115.20" width="21.20" height="6.30" fill="#ff5b00"/>
<rect x="535.90" y="115.20" width="20.10" height="6.30" fill="#f14300"/>
<rect x="555.70" y="115.20" width="20.10" height="6.30" fill="#e53300"/>
<rect x="575.50" y="115.20" width="20.10" height="6.30" fill="#df2b00"/>
<rect x="595.30" y="115.20" width="20.10" height="6.30" fill="#d92300"/>
<rect x="615.10" y="115.20" width="20.10" height="6.30" fill="#cd1300"/>
<rect x="634.90" y="115.20" width="20.10" height="6.30" fill="#ba0000"/>
<rect x="654.70" y="115.20" width="20.10" height="6.30" fill="#9a0000"/>
<rect x="674.50" y="115.20" width="25.80" height="6.30" fill="#620000"/>
<rect x="515.00" y="121.20" width="21.20" height="6.30" fill="#f54800"/>
<rect x="535.90" y="121.20" width="20.10" height="6.30" fill="#e33000"/>
<rect x="555.70" y="121.20" width="20.10" height="6.30" fill="#d72000"/>
<rect x="575.50" y="121.20" width="20.10" height="6.30" fill="#cb1000"/>
<rect x="595.30" y="121.20" width="20.10" height="6.30" fill="#c50800"/>
<rect x="615.10" y="121.20" width="20.10" height="6.30" fill="#b80000"/>
<rect x="634.90" y="121.20" width="20.10" height="6.30" fill="#a00000"/>
<rect x="654.70" y="121.20" width="20.10" height="6.30" fill="#800000"/>
<rect x="674.50" y="121.20" width="25.80" height="6.30" fill="#400000"/>
<rect x="515.00" y="127.20" width="21.20" height="6.30" fill="#ef4000"/>
<rect x="535.90" y="127.20" width="20.10" height="6.30" fill="#d72000"/>
<rect x="555.70" y="127.20" width="20.10" height="6.30" fill="#cb1000"/>
<rect x="575.50" y="127.20" width="20.10" height="6.30" fill="#c00100"/>
<rect x="595.30" y="127.20" width="20.10" height="6.30" fill="#b80000"/>
<rect x="615.10" y="127.20" width="20.10" height="6.30" fill="#a80000"/>
<rect x="634.90" y="127.20" width="20.10" height="6.30" fill="#900000"/>
<rect x="654.70" y="127.20" width="20.10" height="6.30" fill="#600000"/>
<rect x="674.50" y="127.20" width="25.80" height="6.30" fill="#200000"/>
<rect x="515.00" y="133.20" width="21.20" height="6.30" fill="#e33000"/>
<rect x="535.90" y="133.20" width="20.10" height="6.30" fill="#cb1000"/>
<rect x="555.70" y="133.20" width="20.10" height="6.30" fill="#c50800"/>
<rect x="575.50" y="133.20" width="20.10" height="6.30" fill="#b80000"/>
<rect x="595.30" y="133.20" width="20.10" height="6.30" fill="#a80000"/>
<rect x="615.10" y="133.20" width="20.10" height="6.30" fill="#a00000"/>
<rect x="634.90" y="133.20" width="20.10" height="6.30" fill="#800000"/>
<rect x="654.70" y="133.20" width="20.10" height="6.30" fill="#500000"/>
<rect x="674.50" y="133.20" width="25.80" height="6.30" fill="#100000"/>
<rect x="515.00" y="139.20" width="21.20" height="6.30" fill="#dd2800"/>
<rect x="535.90" y="139.20" width="20.10" height="6.30" fill="#c50800"/>
<rect x="555.70" y="139.20" width="20.10" height="6.30" fill="#b80000"/>
<rect x="575.50" y="139.20" width="20.10" height="6.30" fill="#b00000"/>
<rect x="595.30" y="139.20" width="20.10" height="6.30" fill="#a00000"/>
<rect x="615.10" y="139.20" width="20.10" height="6.30" fill="#980000"/>
<rect x="634.90" y="139.20" width="20.10" height="6.30" fill="#700000"/>
<rect x="654.70" y="139.20" width="20.10" height="6.30" fill="#400000"/>
<rect x="674.50" y="139.20" width="25.80" height="6.30" fill="#080000"/>
<rect x="515.00" y="145.20" width="21.20" height="6.30" fill="#d11800"/>
<rect x="535.90" y="145.20" width="20.10" height="6.30" fill="#c00100"/>
<rect x="555.70" y="145.20" width="20.10" height="6.30" fill="#b80000"/>
<rect x="575.50" y="145.20" width="20.10" height="6.30" fill="#a80000"/>
<rect x="595.30" y="145.20" width="20.10" height="6.30" fill="#a00000"/>
<rect x="615.10" y="145.20" width="20.10" height="6.30" fill="#900000"/>
<rect x="634.90" y="145.20" width="20.10" height="6.30" fill="#700000"/>
<rect x="654.70" y="145.20" width="20.10" height="6.30" fill="#300000"/>
<rect x="674.50" y="145.20" width="25.80" height="6.30" fill="#000000"/>
<rect x="515.00" y="151.20" width="21.20" height="6.30" fill="#cb1000"/>
<rect x="535.90" y="151.20" width="20.10" height="6.30" fill="#b80000"/>
<rect x="555.70" y="151.20" width="20.10" height="6.30" fill="#b00000"/>
<rect x="575.50" y="151.20" width="20.10" height="6.30" fill="#a80000"/>
<rect x="595.30" y="151.20" width="20.10" height="6.30" fill="#980000"/>
<rect x="615.10" y="151.20" width="20.10" height="6.30" fill="#880000"/>
<rect x="634.90" y="151.20" width="20.10" height="6.30" fill="#700000"/>
<rect x="654.70" y="151.20" width="20.10" height="6.30" fill="#300000"/>
<rect x="674.50" y="151.20" width="25.80" height="6.30" fill="#000000"/>
<rect x="515.00" y="157.20" width="21.20" height="6.30" fill="#c50800"/>
<rect x="535.90" y="157.20" width="20.10" height="6.30" fill="#b80000"/>
<rect x="555.70" y="157.20" width="20.10" height="6.30" fill="#b00000"/>
<rect x="575.50" y="157.20" width="20.10" height="6.30" fill="#a80000"/>
<rect x="595.30" y="157.20" width="20.10" height="6.30" fill="#980000"/>
<rect x="615.10" y="157.20" width="20.10" height="6.30" fill="#880000"/>
<rect x="634.90" y="157.20" width="20.10" height="6.30" fill="#600000"/>
<rect x="654.70" y="157.20" width="20.10" height="6.30" fill="#200000"/>
<rect x="674.50" y="157.20" width="25.80" height="6.30" fill="#000000"/>
<rect x="515.00" y="163.20" width="21.20" height="6.30" fill="#c00100"/>
<rect x="535.90" y="163.20" width="20.10" height="6.30" fill="#b00000"/>
<rect x="555.70" y="163.20" width="20.10" height="6.30" fill="#a80000"/>
<rect x="575.50" y="163.20" width="20.10" height="6.30" fill="#a00000"/>
<rect x="595.30" y="163.20" width="20.10" height="6.30" fill="#900000"/>
<rect x="615.10" y="163.20" width="20.10" height="6.30" fill="#800000"/>
<rect x="634.90" y="163.20" width="20.10" height="6.30" fill="#600000"/>
<rect x="654.70" y="163.20" width="20.10" height="6.30" fill="#200000"/>
<rect x="674.50" y="163.20" width="25.80" height="6.30" fill="#000000"/>
<rect x="515.00" y="169.20" width="21.20" height="6.30" fill="#c00100"/>
<rect x="535.90" y="169.20" width="20.10" height="6.30" fill="#b80000"/>
<rect x="555.70" y="169.20" width="20.10" height="6.30" fill="#b80000"/>
<rect x="575.50" y="169.20" width="20.10" height="6.30" fill="#b00000"/>
<rect x="595.30" y="169.20" width="20.10" height="6.30" fill="#a80000"/>
<rect x="615.10" y="169.20" width="20.10" height="6.30" fill="#900000"/>
<rect x="634.90" y="169.20" width="20.10" height="6.30" fill="#500000"/>
<rect x="654.70" y="169.20" width="20.10" height="6.30" fill="#000000"/>
<rect x="674.50" y="169.20" width="25.80" height="6.30" fill="#000000"/>
<rect x="515.00" y="175.20" width="21.20" height="6.30" fill="#b80000"/>
<rect x="535.90" y="175.20" width="20.10" height="6.30" fill="#b00000"/>
<rect x="555.70" y="175.20" width="20.10" height="6.30" fill="#b00000"/>
<rect x="575.50" y="175.20" width="20.10" height="6.30" fill="#a80000"/>
<rect x="595.30" y="175.20" width="20.10" height="6.30" fill="#a00000"/>
<rect x="615.10" y="175.20" width="20.10" height="6.30" fill="#880000"/>
<rect x="634.90" y="175.20" width="20.10" height="6.30" fill="#400000"/>
<rect x="654.70" y="175.20" width="20.10" height="6.30" fill="#000000"/>
<rect x="674.50" y="175.20" width="25.80" height="6.30" fill="#000000"/>
<rect x="515.00" y="181.20" width="21.20" height="6.30" fill="#a00000"/>
<rect x="535.90" y="181.20" width="20.10" height="6.30" fill="#a00000"/>
<rect x="555.70" y="181.20" width="20.10" height="6.30" fill="#a00000"/>
<rect x="575.50" y="181.20" width="20.10" height="6.30" fill="#a00000"/>
<rect x="595.30" y="181.20" width="20.10" height="6.30" fill="#a00000"/>
<rect x="615.10" y="181.20" width="20.10" height="6.30" fill="#800000"/>
<rect x="634.90" y="181.20" width="20.10" height="6.30" fill="#200000"/>
<rect x="654.70" y="181.20" width="20.10" height="6.30" fill="#000000"/>
<rect x="674.50" y="181.20" width="25.80" height="6.30" fill="#000000"/>
<rect x="515.00" y="187.20" width="21.20" height="6.30" fill="#900000"/>
<rect x="535.90" y="187.20" width="20.10" height="6.30" fill="#980000"/>
<rect x="555.70" y="187.20" width="20.10" height="6.30" fill="#a00000"/>
<rect x="575.50" y="187.20" width="20.10" height="6.30" fill="#a00000"/>
<rect x="595.30" y="187.20" width="20.10" height="6.30" fill="#980000"/>
<rect x="615.10" y="187.20" width="20.10" height="6.30" fill="#700000"/>
<rect x="634.90" y="187.20" width="20.10" height="6.30" fill="#000000"/>
<rect x="654.70" y="187.20" width="20.10" height="6.30" fill="#000000"/>
<rect x="674.50" y="187.20" width="25.80" height="6.30" fill="#000000"/>
<rect x="515.00" y="193.20" width="21.20" height="6.30" fill="#900000"/>
<rect x="535.90" y="193.20" width="20.10" height="6.30" fill="#980000"/>
<rect x="555.70" y="193.20" width="20.10" height="6.30" fill="#a00000"/>
<rect x="575.50" y="193.20" width="20.10" height="6.30" fill="#a00000"/>
<rect x="595.30" y="193.20" width="20.10" height="6.30" fill="#980000"/>
<rect x="615.10" y="193.20" width="20.10" height="6.30" fill="#700000"/>
<rect x="634.90" y="193.20" width="20.10" height="6.30" fill="#000000"/>
<rect x="654.70" y="193.20" width="20.10" height="6.30" fill="#000000"/>
<rect x="674.50" y="193.20" width="25.80" height="6.30" fill="#000000"/>
<rect x="515.00" y="199.20" width="21.20" height="6.30" fill="#980000"/>
<rect x="535.90" y="199.20" width="20.10" height="6.30" fill="#a00000"/>
<rect x="555.70" y="199.20" width="20.10" height="6.30" fill="#a80000"/>
<rect x="575.50" y="199.20" width="20.10" height="6.30" fill="#a80000"/>
<rect x="595.30" y="199.20" width="20.10" height="6.30" fill="#a00000"/>
<rect x="615.10" y="199.20" width="20.10" height="6.30" fill="#780000"/>
<rect x="634.90" y="199.20" width="20.10" height="6.30" fill="#080000"/>
<rect x="654.70" y="199.20" width="20.10" height="6.30" fill="#000000"/>
<rect x="674.50" y="199.20" width="25.80" height="6.30" fill="#000000"/>
<rect x="515.00" y="205.20" width="21.20" height="6.30" fill="#b50000"/>
<rect x="535.90" y="205.20" width="20.10" height="6.30" fill="#ba0000"/>
<rect x="555.70" y="205.20" width="20.10" height="6.30" fill="#ba0000"/>
<rect x="575.50" y="205.20" width="20.10" height="6.30" fill="#ba0000"/>
<rect x="595.30" y="205.20" width="20.10" height="6.30" fill="#b50000"/>
<rect x="615.10" y="205.20" width="20.10" height="6.30" fill="#9d0000"/>
<rect x="634.90" y="205.20" width="20.10" height="6.30" fill="#350000"/>
<rect x="654.70" y="205.20" width="20.10" height="6.30" fill="#000000"/>
<rect x="674.50" y="205.20" width="25.80" height="6.30" fill="#000000"/>
<rect x="515.00" y="211.20" width="21.20" height="6.30" fill="#d61e00"/>
<rect x="535.90" y="211.20" width="20.10" height="6.30" fill="#dc2600"/>
<rect x="555.70" y="211.20" width="20.10" height="6.30" fill="#dc2600"/>
<rect x="575.50" y="211.20" width="20.10" height="6.30" fill="#d61e00"/>
<rect x="595.30" y="211.20" width="20.10" height="6.30" fill="#d01600"/>
<rect x="615.10" y="211.20" width="20.10" height="6.30" fill="#b80000"/>
<rect x="634.90" y="211.20" width="20.10" height="6.30" fill="#730000"/>
<rect x="654.70" y="211.20" width="20.10" height="6.30" fill="#000000"/>
<rect x="674.50" y="211.20" width="25.80" height="6.30" fill="#000000"/>
<rect x="515.00" y="217.20" width="21.20" height="6.30" fill="#ff5e00"/>
<rect x="535.90" y="217.20" width="20.10" height="6.30" fill="#ff6600"/>
<rect x="555.70" y="217.20" width="20.10" height="6.30" fill="#ff6600"/>
<rect x="575.50" y="217.20" width="20.10" height="6.30" fill="#ff5e00"/>
<rect x="595.30" y="217.20" width="20.10" height="6.30" fill="#ff5a00"/>
<rect x="615.10" y="217.20" width="20.10" height="6.30" fill="#f44600"/>
<rect x="634.90" y="217.20" width="20.10" height="6.30" fill="#b80000"/>
<rect x="654.70" y="217.20" width="20.10" height="6.30" fill="#280000"/>
<rect x="674.50" y="217.20" width="25.80" height="6.30" fill="#000000"/>
<rect x="515.00" y="223.20" width="21.20" height="6.30" fill="#ff8d1a"/>
<rect x="535.90" y="223.20" width="20.10" height="6.30" fill="#ff9326"/>
<rect x="555.70" y="223.20" width="20.10" height="6.30" fill="#ff9326"/>
<rect x="575.50" y="223.20" width="20.10" height="6.30" fill="#ff8f1e"/>
<rect x="595.30" y="223.20" width="20.10" height="6.30" fill="#ff8b16"/>
<rect x="615.10" y="223.20" width="20.10" height="6.30" fill="#ff7b00"/>
<rect x="634.90" y="223.20" width="20.10" height="6.30" fill="#fd5300"/>
<rect x="654.70" y="223.20" width="20.10" height="6.30" fill="#bc0000"/>
<rect x="674.50" y="223.20" width="25.80" height="6.30" fill="#3c0000"/>
<rect x="515.00" y="229.20" width="21.20" height="6.30" fill="#ffb56b"/>
<rect x="535.90" y="229.20" width="20.10" height="6.30" fill="#ffbd7b"/>
<rect x="555.70" y="229.20" width="20.10" height="6.30" fill="#ffbd7b"/>
<rect x="575.50" y="229.20" width="20.10" height="6.30" fill="#ffb973"/>
<rect x="595.30" y="229.20" width="20.10" height="6.30" fill="#ffb56b"/>
<rect x="615.10" y="229.20" width="20.10" height="6.30" fill="#ffad5b"/>
<rect x="634.90" y="229.20" width="20.10" height="6.30" fill="#ff972f"/>
<rect x="654.70" y="229.20" width="20.10" height="6.30" fill="#ff7500"/>
<rect x="674.50" y="229.20" width="25.80" height="6.30" fill="#c90d00"/>
<rect x="515.00" y="235.20" width="21.20" height="6.30" fill="#ffd3a6"/>
<rect x="535.90" y="235.20" width="20.10" height="6.30" fill="#ffd7ae"/>
<rect x="555.70" y="235.20" width="20.10" height="6.30" fill="#ffd7ae"/>
<rect x="575.50" y="235.20" width="20.10" height="6.30" fill="#ffd3a6"/>
<rect x="595.30" y="235.20" width="20.10" height="6.30" fill="#ffd3a6"/>
<rect x="615.10" y="235.20" width="20.10" height="6.30" fill="#ffcb96"/>
<rect x="634.90" y="235.20" width="20.10" height="6.30" fill="#ffbb76"/>
<rect x="654.70" y="235.20" width="20.10" height="6.30" fill="#ff9d3a"/>
<rect x="674.50" y="235.20" width="25.80" height="6.30" fill="#ff6b00"/>
<rect x="515.00" y="241.20" width="21.20" height="6.30" fill="#ffe2c4"/>
<rect x="535.90" y="241.20" width="20.10" height="6.30" fill="#ffe6cc"/>
<rect x="555.70" y="241.20" width="20.10" height="6.30" fill="#ffe6cc"/>
<rect x="575.50" y="241.20" width="20.10" height="6.30" fill="#ffe6cc"/>
<rect x="595.30" y="241.20" width="20.10" height="6.30" fill="#ffe6cc"/>
<rect x="615.10" y="241.20" width="20.10" height="6.30" fill="#ffdebc"/>
<rect x="634.90" y="241.20" width="20.10" height="6.30" fill="#ffd6ac"/>
<rect x="654.70" y="241.20" width="20.10" height="6.30" fill="#ffc284"/>
<rect x="674.50" y="241.20" width="25.80" height="6.30" fill="#ff9c38"/>
<rect x="515.00" y="247.20" width="21.20" height="6.30" fill="#ffedda"/>
<rect x="535.90" y="247.20" width="20.10" height="6.30" fill="#ffefdf"/>
<rect x="555.70" y="247.20" width="20.10" height="6.30" fill="#ffefdf"/>
<rect x="575.50" y="247.20" width="20.10" height="6.30" fill="#ffefdf"/>
<rect x="595.30" y="247.20" width="20.10" height="6.30" fill="#ffefdf"/>
<rect x="615.10" y="247.20" width="20.10" height="6.30" fill="#ffefdf"/>
<rect x="634.90" y="247.20" width="20.10" height="6.30" fill="#ffe7ce"/>
<rect x="654.70" y="247.20" width="20.10" height="6.30" fill="#ffdbb6"/>
<rect x="674.50" y="247.20" width="25.80" height="6.30" fill="#ffbb76"/>
<rect x="515.00" y="253.20" width="21.20" height="6.30" fill="#fff6ed"/>
<rect x="535.90" y="253.20" width="20.10" height="6.30" fill="#fff6ed"/>
<rect x="555.70" y="253.20" width="20.10" height="6.30" fill="#fff6ed"/>
<rect x="575.50" y="253.20" width="20.10" height="6.30" fill="#fff6ed"/>
<rect x="595.30" y="253.20" width="20.10" height="6.30" fill="#fff6ed"/>
<rect x="615.10" y="253.20" width="20.10" height="6.30" fill="#fff6ed"/>
<rect x="634.90" y="253.20" width="20.10" height="6.30" fill="#fff2e4"/>
<rect x="654.70" y="253.20" width="20.10" height="6.30" fill="#ffe8d0"/>
<rect x="674.50" y="253.20" width="25.80" height="6.30" fill="#ffd8b1"/>
<rect x="515.00" y="259.20" width="21.20" height="6.30" fill="#fff6ed"/>
<rect x="535.90" y="259.20" width="20.10" height="6.30" fill="#fff6ed"/>
<rect x="555.70" y="259.20" width="20.10" height="6.30" fill="#fff6ed"/>
<rect x="575.50" y="259.20" width="20.10" height="6.30" fill="#fff6ed"/>
<rect x="595.30" y="259.20" width="20.10" height="6.30" fill="#fff6ed"/>
<rect x="615.10" y="259.20" width="20.10" height="6.30" fill="#fff6ed"/>
<rect x="634.90" y="259.20" width="20.10" height="6.30" fill="#fff2e4"/>
<rect x="654.70" y="259.20" width="20.10" height="6.30" fill="#ffe8d0"/>
<rect x="674.50" y="259.20" width="25.80" height="6.30" fill="#ffd8b1"/>
</g>
<g clip-path="url(#cta)">
<circle cx="84.25" cy="142.3" r="3.2" fill="#fff" stroke="#000" stroke-width="2.0"/>
<circle cx="98.6" cy="141.2" r="3.2" fill="#fff" stroke="#000" stroke-width="2.0"/>
<circle cx="112.95" cy="140.6" r="3.2" fill="#fff" stroke="#000" stroke-width="2.0"/>
<circle cx="127.3" cy="139.7" r="3.2" fill="#fff" stroke="#000" stroke-width="2.0"/>
<circle cx="141.65" cy="139.7" r="3.2" fill="#fff" stroke="#000" stroke-width="2.0"/>
<circle cx="156.0" cy="140.6" r="3.2" fill="#fff" stroke="#000" stroke-width="2.0"/>
<circle cx="170.35" cy="140.6" r="3.2" fill="#fff" stroke="#000" stroke-width="2.0"/>
<circle cx="184.7" cy="141.6" r="3.2" fill="#fff" stroke="#000" stroke-width="2.0"/>
<circle cx="199.05" cy="141.6" r="3.2" fill="#fff" stroke="#000" stroke-width="2.0"/>
<circle cx="213.4" cy="142.1" r="3.2" fill="#fff" stroke="#000" stroke-width="2.0"/>
<circle cx="227.75" cy="144.4" r="3.2" fill="#fff" stroke="#000" stroke-width="2.0"/>
<circle cx="242.1" cy="144.9" r="3.2" fill="#fff" stroke="#000" stroke-width="2.0"/>
<circle cx="256.45" cy="145.9" r="3.2" fill="#fff" stroke="#000" stroke-width="2.0"/>
<circle cx="270.79999999999995" cy="147.4" r="3.2" fill="#fff" stroke="#000" stroke-width="2.0"/>
<circle cx="285.15" cy="148.2" r="3.2" fill="#fff" stroke="#000" stroke-width="2.0"/>
<circle cx="299.5" cy="149.1" r="3.2" fill="#fff" stroke="#000" stroke-width="2.0"/>
<circle cx="313.85" cy="150.2" r="3.2" fill="#fff" stroke="#000" stroke-width="2.0"/>
<circle cx="328.2" cy="152.0" r="3.2" fill="#fff" stroke="#000" stroke-width="2.0"/>
</g>
<g clip-path="url(#ctb)">
<circle cx="514.9" cy="141.8" r="3.2" fill="#fff" stroke="#000" stroke-width="2.0"/>
<circle cx="508.3" cy="141.4" r="3.2" fill="#fff" stroke="#000" stroke-width="2.0"/>
<circle cx="502.5" cy="142" r="3.2" fill="#fff" stroke="#000" stroke-width="2.0"/>
<circle cx="499.6" cy="142" r="3.2" fill="#fff" stroke="#000" stroke-width="2.0"/>
<circle cx="495.2" cy="142.1" r="3.2" fill="#fff" stroke="#000" stroke-width="2.0"/>
<circle cx="488.6" cy="142.8" r="3.2" fill="#fff" stroke="#000" stroke-width="2.0"/>
<circle cx="482" cy="143.5" r="3.2" fill="#fff" stroke="#000" stroke-width="2.0"/>
<circle cx="475.5" cy="143.2" r="3.2" fill="#fff" stroke="#000" stroke-width="2.0"/>
<circle cx="469.6" cy="144" r="3.2" fill="#fff" stroke="#000" stroke-width="2.0"/>
<circle cx="466.4" cy="144" r="3.2" fill="#fff" stroke="#000" stroke-width="2.0"/>
<circle cx="462.6" cy="144" r="3.2" fill="#fff" stroke="#000" stroke-width="2.0"/>
<circle cx="456.1" cy="145" r="3.2" fill="#fff" stroke="#000" stroke-width="2.0"/>
<circle cx="449.5" cy="145" r="3.2" fill="#fff" stroke="#000" stroke-width="2.0"/>
<circle cx="442.9" cy="145" r="3.2" fill="#fff" stroke="#000" stroke-width="2.0"/>
<circle cx="433.1" cy="145.7" r="3.2" fill="#fff" stroke="#000" stroke-width="2.0"/>
<circle cx="417.2" cy="146.5" r="3.2" fill="#fff" stroke="#000" stroke-width="2.0"/>
<circle cx="400.8" cy="148.2" r="3.2" fill="#fff" stroke="#000" stroke-width="2.0"/>
<circle cx="391" cy="149.6" r="3.2" fill="#fff" stroke="#000" stroke-width="2.0"/>
<circle cx="384.3" cy="149.6" r="3.2" fill="#fff" stroke="#000" stroke-width="2.0"/>
<circle cx="377.9" cy="150" r="3.2" fill="#fff" stroke="#000" stroke-width="2.0"/>
<circle cx="371.3" cy="150.6" r="3.2" fill="#fff" stroke="#000" stroke-width="2.0"/>
<circle cx="364.7" cy="151" r="3.2" fill="#fff" stroke="#000" stroke-width="2.0"/>
<circle cx="358.5" cy="151.7" r="3.2" fill="#fff" stroke="#000" stroke-width="2.0"/>
<circle cx="351.9" cy="152.4" r="3.2" fill="#fff" stroke="#000" stroke-width="2.0"/>
<circle cx="345.3" cy="152.1" r="3.2" fill="#fff" stroke="#000" stroke-width="2.0"/>
<circle cx="338" cy="152.7" r="3.2" fill="#fff" stroke="#000" stroke-width="2.0"/>
</g>
<g clip-path="url(#ctc)">
<circle cx="526.0" cy="149.6" r="3.2" fill="#fff" stroke="#000" stroke-width="2.0"/>
<circle cx="545.8" cy="147.1" r="3.2" fill="#fff" stroke="#000" stroke-width="2.0"/>
<circle cx="565.6" cy="146.3" r="3.2" fill="#fff" stroke="#000" stroke-width="2.0"/>
<circle cx="585.4" cy="145.6" r="3.2" fill="#fff" stroke="#000" stroke-width="2.0"/>
<circle cx="605.2" cy="144.7" r="3.2" fill="#fff" stroke="#000" stroke-width="2.0"/>
<circle cx="625.0" cy="144.4" r="3.2" fill="#fff" stroke="#000" stroke-width="2.0"/>
<circle cx="644.8" cy="144.8" r="3.2" fill="#fff" stroke="#000" stroke-width="2.0"/>
<circle cx="664.6" cy="144.4" r="3.2" fill="#fff" stroke="#000" stroke-width="2.0"/>
<circle cx="684.4" cy="145.0" r="3.2" fill="#fff" stroke="#000" stroke-width="2.0"/>
</g>
<rect x="98.30" y="46.00" width="17.5" height="53.70" fill="url(#cbg)" stroke="#000" stroke-width="2"/>
<rect x="349.15" y="45.20" width="17.5" height="53.70" fill="url(#cbg)" stroke="#000" stroke-width="2"/>
<rect x="539.65" y="43.40" width="17.5" height="53.40" fill="url(#cbg)" stroke="#000" stroke-width="2"/>
<g clip-path="url(#cba)">
<path d="M84.2,289.0 L98.6,351.4 L113.0,372.4 L127.3,380.5 L141.7,386.3 L156.0,387.0 L170.3,388.6 L184.7,390.7 L199.1,393.4 L213.4,395.5 L227.8,399.3 L242.1,400.6 L256.4,402.1 L270.8,400.6 L285.1,400.6 L299.5,397.7 L313.9,386.3 L328.2,341.0" fill="none" stroke="#000" stroke-width="1.3"/>
<circle cx="84.25" cy="289.0" r="3.8" fill="#000" stroke="#000" stroke-width="0.5"/>
<circle cx="98.6" cy="351.4" r="3.8" fill="#000" stroke="#000" stroke-width="0.5"/>
<circle cx="112.95" cy="372.4" r="3.8" fill="#000" stroke="#000" stroke-width="0.5"/>
<circle cx="127.3" cy="380.5" r="3.8" fill="#000" stroke="#000" stroke-width="0.5"/>
<circle cx="141.65" cy="386.3" r="3.8" fill="#000" stroke="#000" stroke-width="0.5"/>
<circle cx="156.0" cy="387" r="3.8" fill="#000" stroke="#000" stroke-width="0.5"/>
<circle cx="170.35" cy="388.6" r="3.8" fill="#000" stroke="#000" stroke-width="0.5"/>
<circle cx="184.7" cy="390.7" r="3.8" fill="#000" stroke="#000" stroke-width="0.5"/>
<circle cx="199.05" cy="393.4" r="3.8" fill="#000" stroke="#000" stroke-width="0.5"/>
<circle cx="213.4" cy="395.5" r="3.8" fill="#000" stroke="#000" stroke-width="0.5"/>
<circle cx="227.75" cy="399.3" r="3.8" fill="#000" stroke="#000" stroke-width="0.5"/>
<circle cx="242.1" cy="400.6" r="3.8" fill="#000" stroke="#000" stroke-width="0.5"/>
<circle cx="256.45" cy="402.1" r="3.8" fill="#000" stroke="#000" stroke-width="0.5"/>
<circle cx="270.79999999999995" cy="400.6" r="3.8" fill="#000" stroke="#000" stroke-width="0.5"/>
<circle cx="285.15" cy="400.6" r="3.8" fill="#000" stroke="#000" stroke-width="0.5"/>
<circle cx="299.5" cy="397.7" r="3.8" fill="#000" stroke="#000" stroke-width="0.5"/>
<circle cx="313.85" cy="386.3" r="3.8" fill="#000" stroke="#000" stroke-width="0.5"/>
<circle cx="328.2" cy="341.0" r="3.8" fill="#000" stroke="#000" stroke-width="0.5"/>
<path d="M84.2,290.0 L98.6,292.3 L113.0,311.8 L127.3,326.0 L141.7,336.2 L156.0,341.9 L170.3,349.0 L184.7,355.8 L199.1,353.9 L213.4,360.5 L227.8,362.0 L242.1,365.5 L256.4,365.5 L270.8,369.9 L285.1,367.7 L299.5,366.4 L313.9,366.4 L328.2,350.5" fill="none" stroke="#000" stroke-width="1.3"/>
<circle cx="84.25" cy="290.0" r="3.05" fill="#fff" stroke="#000" stroke-width="2.0"/>
<circle cx="98.6" cy="292.3" r="3.05" fill="#fff" stroke="#000" stroke-width="2.0"/>
<circle cx="112.95" cy="311.8" r="3.05" fill="#fff" stroke="#000" stroke-width="2.0"/>
<circle cx="127.3" cy="326" r="3.05" fill="#fff" stroke="#000" stroke-width="2.0"/>
<circle cx="141.65" cy="336.2" r="3.05" fill="#fff" stroke="#000" stroke-width="2.0"/>
<circle cx="156.0" cy="341.9" r="3.05" fill="#fff" stroke="#000" stroke-width="2.0"/>
<circle cx="170.35" cy="349" r="3.05" fill="#fff" stroke="#000" stroke-width="2.0"/>
<circle cx="184.7" cy="355.8" r="3.05" fill="#fff" stroke="#000" stroke-width="2.0"/>
<circle cx="199.05" cy="353.9" r="3.05" fill="#fff" stroke="#000" stroke-width="2.0"/>
<circle cx="213.4" cy="360.5" r="3.05" fill="#fff" stroke="#000" stroke-width="2.0"/>
<circle cx="227.75" cy="362" r="3.05" fill="#fff" stroke="#000" stroke-width="2.0"/>
<circle cx="242.1" cy="365.5" r="3.05" fill="#fff" stroke="#000" stroke-width="2.0"/>
<circle cx="256.45" cy="365.5" r="3.05" fill="#fff" stroke="#000" stroke-width="2.0"/>
<circle cx="270.79999999999995" cy="369.9" r="3.05" fill="#fff" stroke="#000" stroke-width="2.0"/>
<circle cx="285.15" cy="367.7" r="3.05" fill="#fff" stroke="#000" stroke-width="2.0"/>
<circle cx="299.5" cy="366.4" r="3.05" fill="#fff" stroke="#000" stroke-width="2.0"/>
<circle cx="313.85" cy="366.4" r="3.05" fill="#fff" stroke="#000" stroke-width="2.0"/>
<circle cx="328.2" cy="350.5" r="3.05" fill="#fff" stroke="#000" stroke-width="2.0"/>
</g>
<g clip-path="url(#cbb)">
<path d="M514.9,371.6 L508.3,375.8 L502.5,374.1 L499.6,374.1 L495.2,369.1 L488.6,369.1 L482.0,369.1 L475.5,373.3 L469.6,379.2 L466.4,383.5 L462.6,380.9 L456.1,383.5 L449.5,385.1 L442.9,384.3 L433.1,389.4 L417.2,390.4 L400.8,391.8 L391.0,392.8 L384.3,391.5 L377.9,390.8 L371.3,390.1 L364.7,389.6 L358.5,389.2 L351.9,387.4 L345.3,383.3 L338.0,372.5 L335.5,367.5" fill="none" stroke="#000" stroke-width="1.3"/>
<circle cx="514.9" cy="371.6" r="3.8" fill="#000" stroke="#000" stroke-width="0.5"/>
<circle cx="508.3" cy="375.8" r="3.8" fill="#000" stroke="#000" stroke-width="0.5"/>
<circle cx="502.5" cy="374.1" r="3.8" fill="#000" stroke="#000" stroke-width="0.5"/>
<circle cx="499.6" cy="374.1" r="3.8" fill="#000" stroke="#000" stroke-width="0.5"/>
<circle cx="495.2" cy="369.1" r="3.8" fill="#000" stroke="#000" stroke-width="0.5"/>
<circle cx="488.6" cy="369.1" r="3.8" fill="#000" stroke="#000" stroke-width="0.5"/>
<circle cx="482" cy="369.1" r="3.8" fill="#000" stroke="#000" stroke-width="0.5"/>
<circle cx="475.5" cy="373.3" r="3.8" fill="#000" stroke="#000" stroke-width="0.5"/>
<circle cx="469.6" cy="379.2" r="3.8" fill="#000" stroke="#000" stroke-width="0.5"/>
<circle cx="466.4" cy="383.5" r="3.8" fill="#000" stroke="#000" stroke-width="0.5"/>
<circle cx="462.6" cy="380.9" r="3.8" fill="#000" stroke="#000" stroke-width="0.5"/>
<circle cx="456.1" cy="383.5" r="3.8" fill="#000" stroke="#000" stroke-width="0.5"/>
<circle cx="449.5" cy="385.1" r="3.8" fill="#000" stroke="#000" stroke-width="0.5"/>
<circle cx="442.9" cy="384.3" r="3.8" fill="#000" stroke="#000" stroke-width="0.5"/>
<circle cx="433.1" cy="389.4" r="3.8" fill="#000" stroke="#000" stroke-width="0.5"/>
<circle cx="417.2" cy="390.4" r="3.8" fill="#000" stroke="#000" stroke-width="0.5"/>
<circle cx="400.8" cy="391.8" r="3.8" fill="#000" stroke="#000" stroke-width="0.5"/>
<circle cx="391" cy="392.8" r="3.8" fill="#000" stroke="#000" stroke-width="0.5"/>
<circle cx="384.3" cy="391.5" r="3.8" fill="#000" stroke="#000" stroke-width="0.5"/>
<circle cx="377.9" cy="390.8" r="3.8" fill="#000" stroke="#000" stroke-width="0.5"/>
<circle cx="371.3" cy="390.1" r="3.8" fill="#000" stroke="#000" stroke-width="0.5"/>
<circle cx="364.7" cy="389.6" r="3.8" fill="#000" stroke="#000" stroke-width="0.5"/>
<circle cx="358.5" cy="389.2" r="3.8" fill="#000" stroke="#000" stroke-width="0.5"/>
<circle cx="351.9" cy="387.4" r="3.8" fill="#000" stroke="#000" stroke-width="0.5"/>
<circle cx="345.3" cy="383.3" r="3.8" fill="#000" stroke="#000" stroke-width="0.5"/>
<circle cx="338" cy="372.5" r="3.8" fill="#000" stroke="#000" stroke-width="0.5"/>
<circle cx="335.5" cy="367.5" r="3.8" fill="#000" stroke="#000" stroke-width="0.5"/>
<path d="M514.9,345.0 L508.3,336.4 L502.5,341.2 L499.6,335.6 L495.2,331.8 L488.6,333.5 L482.0,336.1 L475.5,343.7 L469.6,345.7 L466.4,352.1 L462.6,350.8 L456.1,355.9 L449.5,353.0 L442.9,358.6 L433.1,362.0 L417.2,367.0 L400.8,370.2 L391.0,369.9 L384.3,372.1 L377.9,372.8 L371.3,371.8 L364.7,374.0 L358.5,373.6 L351.9,372.4 L345.3,371.1 L338.0,369.4 L335.5,366.5" fill="none" stroke="#000" stroke-width="1.3"/>
<circle cx="514.9" cy="345" r="3.05" fill="#fff" stroke="#000" stroke-width="2.0"/>
<circle cx="508.3" cy="336.4" r="3.05" fill="#fff" stroke="#000" stroke-width="2.0"/>
<circle cx="502.5" cy="341.2" r="3.05" fill="#fff" stroke="#000" stroke-width="2.0"/>
<circle cx="499.6" cy="335.6" r="3.05" fill="#fff" stroke="#000" stroke-width="2.0"/>
<circle cx="495.2" cy="331.8" r="3.05" fill="#fff" stroke="#000" stroke-width="2.0"/>
<circle cx="488.6" cy="333.5" r="3.05" fill="#fff" stroke="#000" stroke-width="2.0"/>
<circle cx="482" cy="336.1" r="3.05" fill="#fff" stroke="#000" stroke-width="2.0"/>
<circle cx="475.5" cy="343.7" r="3.05" fill="#fff" stroke="#000" stroke-width="2.0"/>
<circle cx="469.6" cy="345.7" r="3.05" fill="#fff" stroke="#000" stroke-width="2.0"/>
<circle cx="466.4" cy="352.1" r="3.05" fill="#fff" stroke="#000" stroke-width="2.0"/>
<circle cx="462.6" cy="350.8" r="3.05" fill="#fff" stroke="#000" stroke-width="2.0"/>
<circle cx="456.1" cy="355.9" r="3.05" fill="#fff" stroke="#000" stroke-width="2.0"/>
<circle cx="449.5" cy="353" r="3.05" fill="#fff" stroke="#000" stroke-width="2.0"/>
<circle cx="442.9" cy="358.6" r="3.05" fill="#fff" stroke="#000" stroke-width="2.0"/>
<circle cx="433.1" cy="362" r="3.05" fill="#fff" stroke="#000" stroke-width="2.0"/>
<circle cx="417.2" cy="367" r="3.05" fill="#fff" stroke="#000" stroke-width="2.0"/>
<circle cx="400.8" cy="370.2" r="3.05" fill="#fff" stroke="#000" stroke-width="2.0"/>
<circle cx="391" cy="369.9" r="3.05" fill="#fff" stroke="#000" stroke-width="2.0"/>
<circle cx="384.3" cy="372.1" r="3.05" fill="#fff" stroke="#000" stroke-width="2.0"/>
<circle cx="377.9" cy="372.8" r="3.05" fill="#fff" stroke="#000" stroke-width="2.0"/>
<circle cx="371.3" cy="371.8" r="3.05" fill="#fff" stroke="#000" stroke-width="2.0"/>
<circle cx="364.7" cy="374" r="3.05" fill="#fff" stroke="#000" stroke-width="2.0"/>
<circle cx="358.5" cy="373.6" r="3.05" fill="#fff" stroke="#000" stroke-width="2.0"/>
<circle cx="351.9" cy="372.4" r="3.05" fill="#fff" stroke="#000" stroke-width="2.0"/>
<circle cx="345.3" cy="371.1" r="3.05" fill="#fff" stroke="#000" stroke-width="2.0"/>
<circle cx="338" cy="369.4" r="3.05" fill="#fff" stroke="#000" stroke-width="2.0"/>
<circle cx="335.5" cy="366.5" r="3.05" fill="#fff" stroke="#000" stroke-width="2.0"/>
</g>
<g clip-path="url(#cbc)">
<path d="M526.0,387.8 L545.8,388.8 L565.6,392.5 L585.4,392.9 L605.2,389.5 L625.0,384.4 L644.8,366.5 L664.6,321.6 L684.4,245.0" fill="none" stroke="#000" stroke-width="1.3"/>
<circle cx="526.0" cy="387.8" r="3.8" fill="#000" stroke="#000" stroke-width="0.5"/>
<circle cx="545.8" cy="388.8" r="3.8" fill="#000" stroke="#000" stroke-width="0.5"/>
<circle cx="565.6" cy="392.5" r="3.8" fill="#000" stroke="#000" stroke-width="0.5"/>
<circle cx="585.4" cy="392.9" r="3.8" fill="#000" stroke="#000" stroke-width="0.5"/>
<circle cx="605.2" cy="389.5" r="3.8" fill="#000" stroke="#000" stroke-width="0.5"/>
<circle cx="625.0" cy="384.4" r="3.8" fill="#000" stroke="#000" stroke-width="0.5"/>
<circle cx="644.8" cy="366.5" r="3.8" fill="#000" stroke="#000" stroke-width="0.5"/>
<circle cx="664.6" cy="321.6" r="3.8" fill="#000" stroke="#000" stroke-width="0.5"/>
<circle cx="684.4" cy="245.0" r="3.8" fill="#000" stroke="#000" stroke-width="0.5"/>
<path d="M526.0,364.1 L545.8,358.7 L565.6,353.6 L585.4,347.9 L605.2,346.2 L625.0,331.0 L644.8,316.5 L664.6,291.2 L684.4,256.5" fill="none" stroke="#000" stroke-width="1.3"/>
<circle cx="526.0" cy="364.1" r="3.05" fill="#fff" stroke="#000" stroke-width="2.0"/>
<circle cx="545.8" cy="358.7" r="3.05" fill="#fff" stroke="#000" stroke-width="2.0"/>
<circle cx="565.6" cy="353.6" r="3.05" fill="#fff" stroke="#000" stroke-width="2.0"/>
<circle cx="585.4" cy="347.9" r="3.05" fill="#fff" stroke="#000" stroke-width="2.0"/>
<circle cx="605.2" cy="346.2" r="3.05" fill="#fff" stroke="#000" stroke-width="2.0"/>
<circle cx="625.0" cy="331" r="3.05" fill="#fff" stroke="#000" stroke-width="2.0"/>
<circle cx="644.8" cy="316.5" r="3.05" fill="#fff" stroke="#000" stroke-width="2.0"/>
<circle cx="664.6" cy="291.2" r="3.05" fill="#fff" stroke="#000" stroke-width="2.0"/>
<circle cx="684.4" cy="256.5" r="3.05" fill="#fff" stroke="#000" stroke-width="2.0"/>
</g>
<rect x="84.75" y="7.2" width="242.95" height="249.10" fill="none" stroke="#000" stroke-width="2.0"/>
<rect x="84.75" y="264.5" width="242.95" height="149.30" fill="none" stroke="#000" stroke-width="2.0"/>
<rect x="335.6" y="7.2" width="182.10" height="249.10" fill="none" stroke="#000" stroke-width="2.0"/>
<rect x="335.6" y="264.5" width="182.10" height="149.30" fill="none" stroke="#000" stroke-width="2.0"/>
<rect x="526.1" y="7.2" width="157.80" height="249.10" fill="none" stroke="#000" stroke-width="2.0"/>
<rect x="526.1" y="264.5" width="157.80" height="149.30" fill="none" stroke="#000" stroke-width="2.0"/>
<g stroke="#000" stroke-width="1.8"><line x1="84.75" y1="71.1" x2="91.25" y2="71.1"/><line x1="84.75" y1="134.6" x2="91.25" y2="134.6"/><line x1="84.75" y1="198.3" x2="91.25" y2="198.3"/><line x1="84.75" y1="310.0" x2="91.25" y2="310.0"/><line x1="84.75" y1="368.8" x2="91.25" y2="368.8"/><line x1="335.6" y1="71.1" x2="342.1" y2="71.1"/><line x1="335.6" y1="134.6" x2="342.1" y2="134.6"/><line x1="335.6" y1="198.3" x2="342.1" y2="198.3"/><line x1="335.6" y1="310.0" x2="342.1" y2="310.0"/><line x1="335.6" y1="368.8" x2="342.1" y2="368.8"/><line x1="526.1" y1="71.1" x2="532.6" y2="71.1"/><line x1="526.1" y1="134.6" x2="532.6" y2="134.6"/><line x1="526.1" y1="198.3" x2="532.6" y2="198.3"/><line x1="526.1" y1="310.0" x2="532.6" y2="310.0"/><line x1="526.1" y1="368.8" x2="532.6" y2="368.8"/><line x1="113.3" y1="256.3" x2="113.3" y2="249.8"/><line x1="113.3" y1="413.8" x2="113.3" y2="407.3"/><line x1="227.2" y1="256.3" x2="227.2" y2="249.8"/><line x1="227.2" y1="413.8" x2="227.2" y2="407.3"/><line x1="384.6" y1="256.3" x2="384.6" y2="249.8"/><line x1="384.6" y1="413.8" x2="384.6" y2="407.3"/><line x1="449.5" y1="256.3" x2="449.5" y2="249.8"/><line x1="449.5" y1="413.8" x2="449.5" y2="407.3"/><line x1="514.8" y1="256.3" x2="514.8" y2="249.8"/><line x1="514.8" y1="413.8" x2="514.8" y2="407.3"/><line x1="585.1" y1="256.3" x2="585.1" y2="249.8"/><line x1="585.1" y1="413.8" x2="585.1" y2="407.3"/><line x1="664.6" y1="256.3" x2="664.6" y2="249.8"/><line x1="664.6" y1="413.8" x2="664.6" y2="407.3"/></g>
<g fill="#000">
<text x="30.03" y="15.33" font-size="22.39" textLength="47.17" lengthAdjust="spacingAndGlyphs">0.15</text>
<text x="30.03" y="79.18" font-size="22.39" textLength="47.17" lengthAdjust="spacingAndGlyphs">0.10</text>
<text x="30.03" y="142.93" font-size="22.39" textLength="47.17" lengthAdjust="spacingAndGlyphs">0.05</text>
<text x="30.03" y="206.78" font-size="22.39" textLength="47.17" lengthAdjust="spacingAndGlyphs">0.00</text>
<text x="43.96" y="317.38" font-size="22.39" textLength="32.75" lengthAdjust="spacingAndGlyphs">0.4</text>
<text x="43.94" y="376.18" font-size="22.39" textLength="33.26" lengthAdjust="spacingAndGlyphs">0.2</text>
<text x="105.35" y="437.68" font-size="22.39" textLength="33.07" lengthAdjust="spacingAndGlyphs">0.4</text>
<text x="219.38" y="437.68" font-size="22.39" textLength="33.58" lengthAdjust="spacingAndGlyphs">0.2</text>
<text x="376.66" y="437.68" font-size="22.39" textLength="32.72" lengthAdjust="spacingAndGlyphs">0.1</text>
<text x="441.53" y="437.68" font-size="22.39" textLength="33.58" lengthAdjust="spacingAndGlyphs">0.2</text>
<text x="506.84" y="437.68" font-size="22.39" textLength="33.45" lengthAdjust="spacingAndGlyphs">0.3</text>
<text x="568.76" y="437.68" font-size="22.39" textLength="32.81" lengthAdjust="spacingAndGlyphs">0.3</text>
<text x="647.95" y="437.68" font-size="22.39" textLength="32.94" lengthAdjust="spacingAndGlyphs">0.2</text>
<text x="119.98" y="51.34" font-size="15.86" textLength="19.89" lengthAdjust="spacingAndGlyphs">7.5</text>
<text x="119.32" y="104.74" font-size="16.06" textLength="20.06" lengthAdjust="spacingAndGlyphs">0.0</text>
<text x="370.83" y="50.54" font-size="15.86" textLength="19.89" lengthAdjust="spacingAndGlyphs">7.5</text>
<text x="370.17" y="103.94" font-size="16.06" textLength="20.06" lengthAdjust="spacingAndGlyphs">0.0</text>
<text x="561.33" y="49.14" font-size="15.86" textLength="19.89" lengthAdjust="spacingAndGlyphs">7.5</text>
<text x="560.67" y="102.54" font-size="16.06" textLength="20.06" lengthAdjust="spacingAndGlyphs">0.0</text>
<text x="91.05" y="29.48" font-size="21.64" font-weight="bold" stroke="#000" stroke-width="0.5" textLength="11.96" lengthAdjust="spacingAndGlyphs">a</text>
<text x="340.13" y="29.48" font-size="22.04" font-weight="bold" stroke="#000" stroke-width="0.5" textLength="15.73" lengthAdjust="spacingAndGlyphs">b</text>
<text x="529.72" y="29.68" font-size="22.00" font-weight="bold" stroke="#000" stroke-width="0.5" textLength="12.27" lengthAdjust="spacingAndGlyphs">c</text>
<text x="90.29" y="284.08" font-size="21.90" font-weight="bold" stroke="#000" stroke-width="0.5" textLength="15.36" lengthAdjust="spacingAndGlyphs">d</text>
<text x="339.94" y="284.47" font-size="23.27" font-weight="bold" stroke="#000" stroke-width="0.5" textLength="14.72" lengthAdjust="spacingAndGlyphs">e</text>
<text x="529.68" y="284.50" font-size="22.62" font-weight="bold" stroke="#000" stroke-width="0.5" textLength="9.37" lengthAdjust="spacingAndGlyphs">f</text>
<text x="258.48" y="29.70" font-size="20.14" font-style="italic" textLength="63.71" lengthAdjust="spacingAndGlyphs">h-scan</text>
<text x="437.88" y="29.40" font-size="19.86" font-style="italic" textLength="73.90" lengthAdjust="spacingAndGlyphs">hk-scan</text>
<text x="624.38" y="29.60" font-size="20.27" font-style="italic" textLength="56.53" lengthAdjust="spacingAndGlyphs">l-scan</text>
<text x="451.46" y="291.23" font-size="16.87" textLength="37.42" lengthAdjust="spacingAndGlyphs">Elas</text>
<text x="451.48" y="317.03" font-size="16.87" textLength="47.50" lengthAdjust="spacingAndGlyphs">Mode</text>
<text x="135.56" y="467.40" font-size="21.00" textLength="49.52" lengthAdjust="spacingAndGlyphs">(h,0)</text>
<text x="185.44" y="468.44" font-size="15.50" textLength="17.29" lengthAdjust="spacingAndGlyphs">pc</text>
<text x="210.59" y="467.40" font-size="21.00" textLength="64.34" lengthAdjust="spacingAndGlyphs">(r.l.u.)</text>
<text x="356.85" y="467.40" font-size="21.00" textLength="48.32" lengthAdjust="spacingAndGlyphs">(h,k)</text>
<text x="405.44" y="468.44" font-size="15.50" textLength="17.29" lengthAdjust="spacingAndGlyphs">pc</text>
<text x="430.57" y="467.40" font-size="21.00" textLength="65.08" lengthAdjust="spacingAndGlyphs">(r.l.u.)</text>
<text x="556.34" y="466.50" font-size="21.00" textLength="5.68" lengthAdjust="spacingAndGlyphs">l</text>
<text x="561.66" y="468.85" font-size="15.50" textLength="18.50" lengthAdjust="spacingAndGlyphs">pc</text>
<text x="586.67" y="467.40" font-size="21.00" textLength="65.29" lengthAdjust="spacingAndGlyphs">(r.l.u.)</text>
<rect x="89.50" y="430.00" width="13.60" height="1.8"/>
<rect x="203.55" y="430.00" width="13.60" height="1.8"/>
<rect x="360.80" y="430.00" width="13.60" height="1.8"/>
<rect x="425.70" y="430.00" width="13.60" height="1.8"/>
<rect x="491.00" y="430.00" width="13.60" height="1.8"/>
<text transform="rotate(-90)" x="-165.71" y="15.90" font-size="21.0" textLength="67.35" lengthAdjust="spacingAndGlyphs"><tspan font-style="italic">ω</tspan> (eV)</text>
<text transform="rotate(-90)" x="-389.53" y="30.40" font-size="21.0" textLength="99.05" lengthAdjust="spacingAndGlyphs">Int. (a.u.)</text>
<line x1="408.8" y1="286.4" x2="443.7" y2="286.4" stroke="#000" stroke-width="1.3"/>
<circle cx="426.2" cy="286.4" r="3.8" fill="#000" stroke="#000" stroke-width="0.5"/>
<line x1="408.8" y1="311.6" x2="443.7" y2="311.6" stroke="#000" stroke-width="1.3"/>
<circle cx="426.3" cy="311.6" r="3.05" fill="#fff" stroke="#000" stroke-width="2.0"/>
</g>
</svg>
</body></html>
